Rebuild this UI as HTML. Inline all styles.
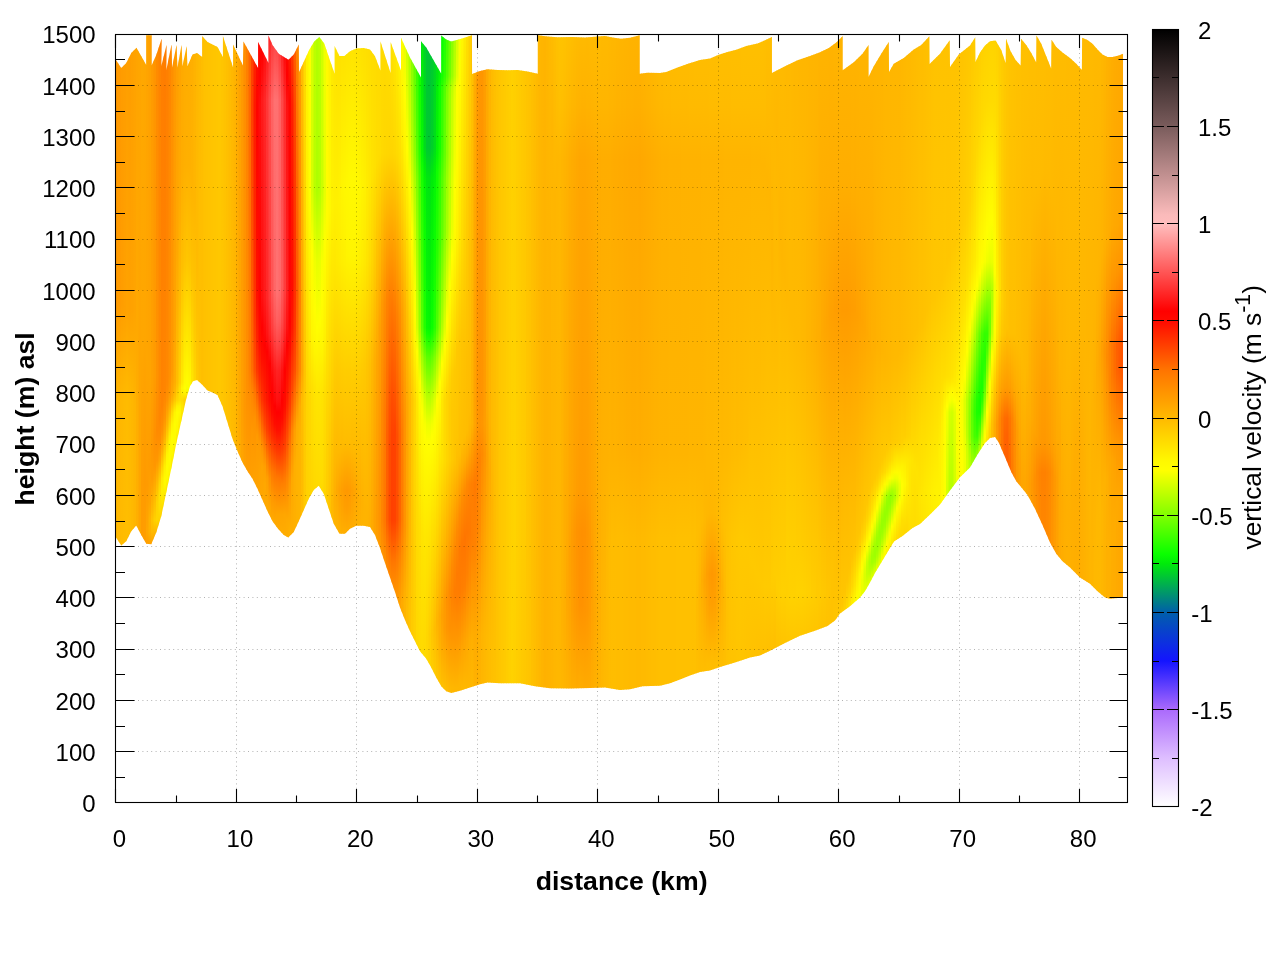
<!DOCTYPE html><html><head><meta charset="utf-8"><title>vertical velocity</title>
<style>html,body{margin:0;padding:0;background:#fff}body{width:1280px;height:960px;overflow:hidden}svg{display:block;will-change:transform}text{font-family:"Liberation Sans",sans-serif;fill:#000}.t{font-size:24px}.b{font-size:26.67px;font-weight:bold}</style></head><body>
<svg width="1280" height="960" viewBox="0 0 1280 960">
<rect width="1280" height="960" fill="#fff"/>
<defs><clipPath id="cp"><polygon points="116,60 121.25,68.1 126.25,63.1 131.25,53.1 136.5,47.75 146.25,65 146.25,35.25 151.6,35.25 151.6,65.6 156.25,55 161.6,38.75 161.25,66.25 166.5,45 166.25,70.6 171.5,44.4 172.1,67.5 176.5,45 177.5,67.5 181.5,45 182.5,66.25 186.6,46.25 187.5,66.25 192.5,54.4 197.1,53.1 202.1,56.9 202.1,36 207.5,41.9 217.5,46.9 222.9,56.9 222.9,36 233.1,67.5 233.1,44.4 242.9,65.6 243.5,41.5 258.1,68.1 258.1,41.9 268.5,63.1 268.5,35.6 272.5,45 278.75,53.75 288.5,59.75 293.75,54.4 298.75,44.4 299.1,71.9 309.4,49.4 314.4,41.25 319.4,36.9 324.4,43.75 330,60.6 334.6,73.75 334.6,46 339.4,56 344.4,56 350,51.25 356.25,48.4 363.75,48.1 370,49.4 375,56.25 380.4,70.6 380.4,41.25 390.6,73.1 390.6,41.9 401,70.6 401,37.75 410,57.5 421,77.5 421,41.25 426.25,47.5 431.25,56.25 441.25,73.75 441.25,35.6 446.25,39.4 451.25,41.5 461.25,38.75 471.9,35.25 472.1,74 480,71 487.5,69.25 497.5,70 507.5,70.25 517.5,70 527.5,71.5 537.75,73.75 537.75,35.25 547.5,36.5 557.5,37.25 572.5,37 585,37.5 597.5,36.5 605,36 612.5,37.5 621.25,38.75 630,37.75 639.75,35.25 639.75,73.75 647.5,72.75 660,73.1 666.25,71.9 677.5,67.5 688.75,63.5 700,60 710,58.5 718.75,54.75 727.5,51.9 736.25,49.75 746.25,46 757.5,43.5 765,40.25 771.9,36.9 771.9,73.1 785,66.25 797.5,60.25 810,56 820,52.25 828.75,48.1 836.25,42.5 842.75,36 842.75,70.25 853.75,62.25 862.5,53.75 868.5,45 868.5,76.9 873.75,66.25 881.25,53.75 888.75,41.9 889,71.9 893.75,63.75 903.75,58.1 913.75,49.4 921.25,45 929.4,36.25 929.6,64 940,53.75 949.75,40.25 950,66.9 958.75,54.4 970,45.6 975.25,37.25 975.5,61.9 980,52.5 985,45.6 990,41.25 995.6,40.6 1001.25,50 1005.6,63.1 1006,38.75 1010.6,51.25 1015.6,60 1020.6,65.6 1021,38.75 1026.25,45 1031.25,53.1 1036.25,62.5 1036.5,35.6 1041.25,43.75 1046.25,56.25 1051.25,68.75 1051.6,39.75 1056.25,46.9 1062.5,52.5 1070,58.1 1076.25,63.75 1081.9,70 1082.1,37.75 1087.5,40 1092.5,43.75 1097.5,49.4 1102.5,54.4 1107.5,56.9 1112.5,56.9 1118.75,55.6 1123.1,53.75 1123.1,597.5 1110,598.75 1105,597.5 1097.5,591.25 1090,583.75 1080,577.5 1070,567.5 1062.5,561.25 1056.25,553.75 1050,542.5 1042.5,525 1035,508.75 1027.5,495 1022.5,488.75 1016.25,481.25 1011.25,472 1005,457 998.75,442.5 995,437 990,438 985,443 977.5,454.5 970,467.5 960,477.25 950,490.5 940,504.5 930,514.5 920,524 912.5,528 902.5,536 894,541.5 890,548 882.5,560.5 875,573 870,582.5 865,591.25 860,597.5 850,606.25 840,613.5 835,620.5 827.5,626 815,630.75 800,635.75 785,643 770,650.75 760,655.5 750,657.5 735,662.5 720,667 710,670.5 700,672 690,675.5 680,679.5 670,683.25 660,685.75 642.5,686.25 630,689.25 620,690 605,687.5 590,688 570,688.5 550,688.25 535,686.25 520,683.25 500,683.25 487.5,682.5 480,684.25 470,687.5 460,690.75 451.25,693 446.25,691.25 441.25,686.25 436.25,677.5 431.25,667.5 426.25,658.75 420,651.25 415,641.25 410,631.25 405,620 400,607.5 395,592 390,577.5 385,563 380,548 375,535 370,527 363.75,525.75 356.25,525.75 350,528.75 345,533.75 339.5,533.75 333.75,523.75 328.75,508.75 323.75,493.75 318.75,485.75 313.75,490 308.75,498.75 303.75,510 298.75,521.25 293.75,532 288.25,537.5 283.75,535 278,528.75 272.5,521.25 267.5,511.25 262.5,500 257.5,488.75 252.5,478.75 247.5,471.25 242.5,462.5 237.5,451.25 232.5,438.75 227.5,422.5 222.5,406.25 217.5,395 212.5,392.5 207.5,390.5 202,384.5 197,380 193,381.25 190,386.25 186.25,398.75 181.25,421.25 176.25,443.75 171.25,468.75 166.25,492.5 161.25,516.25 156.25,532.5 151.25,544.25 146.25,543.75 141.25,535 136.25,525.5 131.25,531.25 126.25,541.25 121.25,545.5 116,537.5"/></clipPath>
<linearGradient id="g0" gradientUnits="userSpaceOnUse" x1="0" y1="34" x2="0" y2="700"><stop offset="0" stop-color="#ff9800"/><stop offset="0.405" stop-color="#ff9a00"/><stop offset="0.55" stop-color="#ffb600"/><stop offset="1" stop-color="#ffbb00"/></linearGradient>
<linearGradient id="g1" gradientUnits="userSpaceOnUse" x1="0" y1="34" x2="0" y2="700"><stop offset="0" stop-color="#ff9a00"/><stop offset="0.405" stop-color="#ff9b00"/><stop offset="0.55" stop-color="#ffb700"/><stop offset="1" stop-color="#ffbd00"/></linearGradient>
<linearGradient id="g2" gradientUnits="userSpaceOnUse" x1="0" y1="34" x2="0" y2="700"><stop offset="0" stop-color="#ff9c00"/><stop offset="0.405" stop-color="#ff9d00"/><stop offset="0.55" stop-color="#ffb800"/><stop offset="1" stop-color="#ffbe00"/></linearGradient>
<linearGradient id="g3" gradientUnits="userSpaceOnUse" x1="0" y1="34" x2="0" y2="700"><stop offset="0" stop-color="#ff9d00"/><stop offset="0.414" stop-color="#ffa000"/><stop offset="0.55" stop-color="#ffba00"/><stop offset="1" stop-color="#ffbf00"/></linearGradient>
<linearGradient id="g4" gradientUnits="userSpaceOnUse" x1="0" y1="34" x2="0" y2="700"><stop offset="0" stop-color="#ff9f00"/><stop offset="0.414" stop-color="#ffa200"/><stop offset="0.55" stop-color="#ffbb00"/><stop offset="1" stop-color="#ffc000"/></linearGradient>
<linearGradient id="g5" gradientUnits="userSpaceOnUse" x1="0" y1="34" x2="0" y2="700"><stop offset="0" stop-color="#ff9e00"/><stop offset="0.414" stop-color="#ffa100"/><stop offset="0.55" stop-color="#ffb900"/><stop offset="1" stop-color="#ffbf00"/></linearGradient>
<linearGradient id="g6" gradientUnits="userSpaceOnUse" x1="0" y1="34" x2="0" y2="700"><stop offset="0" stop-color="#ffa000"/><stop offset="0.414" stop-color="#ffa200"/><stop offset="0.55" stop-color="#ffb700"/><stop offset="1" stop-color="#ffbc00"/></linearGradient>
<linearGradient id="g7" gradientUnits="userSpaceOnUse" x1="0" y1="34" x2="0" y2="700"><stop offset="0" stop-color="#ffa200"/><stop offset="0.414" stop-color="#ffa400"/><stop offset="0.559" stop-color="#ffb400"/><stop offset="1" stop-color="#ffb700"/></linearGradient>
<linearGradient id="g8" gradientUnits="userSpaceOnUse" x1="0" y1="34" x2="0" y2="700"><stop offset="0" stop-color="#ffa400"/><stop offset="0.441" stop-color="#ffa800"/><stop offset="0.577" stop-color="#ffae00"/><stop offset="1" stop-color="#ffb000"/></linearGradient>
<linearGradient id="g9" gradientUnits="userSpaceOnUse" x1="0" y1="34" x2="0" y2="700"><stop offset="0" stop-color="#ffa600"/><stop offset="0.577" stop-color="#ffa500"/><stop offset="1" stop-color="#ffa500"/></linearGradient>
<linearGradient id="g10" gradientUnits="userSpaceOnUse" x1="0" y1="34" x2="0" y2="700"><stop offset="0" stop-color="#ffa800"/><stop offset="0.468" stop-color="#ffa600"/><stop offset="0.676" stop-color="#ff9c00"/><stop offset="1" stop-color="#ff9b00"/></linearGradient>
<linearGradient id="g11" gradientUnits="userSpaceOnUse" x1="0" y1="34" x2="0" y2="700"><stop offset="0" stop-color="#ffa700"/><stop offset="0.45" stop-color="#ffa600"/><stop offset="0.667" stop-color="#ff9a00"/><stop offset="0.757" stop-color="#ff9e00"/><stop offset="0.793" stop-color="#ff9900"/><stop offset="1" stop-color="#ff9900"/></linearGradient>
<linearGradient id="g12" gradientUnits="userSpaceOnUse" x1="0" y1="34" x2="0" y2="700"><stop offset="0" stop-color="#ffa400"/><stop offset="0.486" stop-color="#ffa500"/><stop offset="0.676" stop-color="#ff9b00"/><stop offset="0.748" stop-color="#ffa700"/><stop offset="0.775" stop-color="#ff9a00"/><stop offset="1" stop-color="#ff9a00"/></linearGradient>
<linearGradient id="g13" gradientUnits="userSpaceOnUse" x1="0" y1="34" x2="0" y2="700"><stop offset="0" stop-color="#ffa000"/><stop offset="0.514" stop-color="#ffa400"/><stop offset="0.649" stop-color="#ff9b00"/><stop offset="0.703" stop-color="#ffa400"/><stop offset="0.73" stop-color="#ffb300"/><stop offset="0.748" stop-color="#ffb100"/><stop offset="0.775" stop-color="#ff9900"/><stop offset="1" stop-color="#ff9900"/></linearGradient>
<linearGradient id="g14" gradientUnits="userSpaceOnUse" x1="0" y1="34" x2="0" y2="700"><stop offset="0" stop-color="#ff9a00"/><stop offset="0.523" stop-color="#ffa000"/><stop offset="0.622" stop-color="#ff9700"/><stop offset="0.667" stop-color="#ff9c00"/><stop offset="0.712" stop-color="#ffb600"/><stop offset="0.73" stop-color="#ffc300"/><stop offset="0.748" stop-color="#ffb900"/><stop offset="0.775" stop-color="#ff9700"/><stop offset="1" stop-color="#ff9700"/></linearGradient>
<linearGradient id="g15" gradientUnits="userSpaceOnUse" x1="0" y1="34" x2="0" y2="700"><stop offset="0" stop-color="#ff9300"/><stop offset="0.514" stop-color="#ff9b00"/><stop offset="0.604" stop-color="#ff9000"/><stop offset="0.649" stop-color="#ff9700"/><stop offset="0.694" stop-color="#ffb800"/><stop offset="0.73" stop-color="#ffd100"/><stop offset="0.757" stop-color="#ffab00"/><stop offset="0.775" stop-color="#ff9200"/><stop offset="1" stop-color="#ff9200"/></linearGradient>
<linearGradient id="g16" gradientUnits="userSpaceOnUse" x1="0" y1="34" x2="0" y2="700"><stop offset="0" stop-color="#ff8a00"/><stop offset="0.514" stop-color="#ff9200"/><stop offset="0.595" stop-color="#ff8a00"/><stop offset="0.64" stop-color="#ff9700"/><stop offset="0.676" stop-color="#ffbb00"/><stop offset="0.703" stop-color="#ffd300"/><stop offset="0.73" stop-color="#ffd600"/><stop offset="0.766" stop-color="#ff9800"/><stop offset="0.775" stop-color="#ff9000"/><stop offset="1" stop-color="#ff9000"/></linearGradient>
<linearGradient id="g17" gradientUnits="userSpaceOnUse" x1="0" y1="34" x2="0" y2="700"><stop offset="0" stop-color="#ff8300"/><stop offset="0.514" stop-color="#ff8900"/><stop offset="0.577" stop-color="#ff8500"/><stop offset="0.613" stop-color="#ff8f00"/><stop offset="0.64" stop-color="#ffa500"/><stop offset="0.676" stop-color="#ffd600"/><stop offset="0.694" stop-color="#ffe200"/><stop offset="0.712" stop-color="#ffdf00"/><stop offset="0.73" stop-color="#ffd200"/><stop offset="0.757" stop-color="#ffa000"/><stop offset="0.775" stop-color="#ff9100"/><stop offset="1" stop-color="#ff9100"/></linearGradient>
<linearGradient id="g18" gradientUnits="userSpaceOnUse" x1="0" y1="34" x2="0" y2="700"><stop offset="0" stop-color="#ff7e00"/><stop offset="0.559" stop-color="#ff8300"/><stop offset="0.595" stop-color="#ff9000"/><stop offset="0.622" stop-color="#ffa800"/><stop offset="0.667" stop-color="#ffe900"/><stop offset="0.685" stop-color="#ffef00"/><stop offset="0.703" stop-color="#ffe500"/><stop offset="0.73" stop-color="#ffc600"/><stop offset="0.748" stop-color="#ffa800"/><stop offset="0.766" stop-color="#ff9800"/><stop offset="0.883" stop-color="#ff9500"/><stop offset="1" stop-color="#ff9500"/></linearGradient>
<linearGradient id="g19" gradientUnits="userSpaceOnUse" x1="0" y1="34" x2="0" y2="700"><stop offset="0" stop-color="#ff7c00"/><stop offset="0.541" stop-color="#ff8500"/><stop offset="0.577" stop-color="#ff9400"/><stop offset="0.604" stop-color="#ffae00"/><stop offset="0.649" stop-color="#ffee00"/><stop offset="0.667" stop-color="#fffa00"/><stop offset="0.676" stop-color="#fff900"/><stop offset="0.703" stop-color="#ffdb00"/><stop offset="0.748" stop-color="#ffa500"/><stop offset="0.775" stop-color="#ff9c00"/><stop offset="1" stop-color="#ff9c00"/></linearGradient>
<linearGradient id="g20" gradientUnits="userSpaceOnUse" x1="0" y1="34" x2="0" y2="700"><stop offset="0" stop-color="#ff7f00"/><stop offset="0.523" stop-color="#ff8800"/><stop offset="0.55" stop-color="#ff9100"/><stop offset="0.586" stop-color="#ffb400"/><stop offset="0.631" stop-color="#fff400"/><stop offset="0.649" stop-color="#fffc00"/><stop offset="0.667" stop-color="#fffa00"/><stop offset="0.685" stop-color="#ffe400"/><stop offset="0.712" stop-color="#ffc000"/><stop offset="0.748" stop-color="#ffa600"/><stop offset="0.856" stop-color="#ffa200"/><stop offset="1" stop-color="#ffa200"/></linearGradient>
<linearGradient id="g21" gradientUnits="userSpaceOnUse" x1="0" y1="34" x2="0" y2="700"><stop offset="0" stop-color="#ff8500"/><stop offset="0.514" stop-color="#ff9000"/><stop offset="0.541" stop-color="#ff9900"/><stop offset="0.559" stop-color="#ffac00"/><stop offset="0.604" stop-color="#ffef00"/><stop offset="0.613" stop-color="#fff800"/><stop offset="0.64" stop-color="#fffd00"/><stop offset="0.658" stop-color="#fff500"/><stop offset="0.703" stop-color="#ffbc00"/><stop offset="0.739" stop-color="#ffaa00"/><stop offset="1" stop-color="#ffa700"/></linearGradient>
<linearGradient id="g22" gradientUnits="userSpaceOnUse" x1="0" y1="34" x2="0" y2="700"><stop offset="0" stop-color="#ff8d00"/><stop offset="0.505" stop-color="#ff9a00"/><stop offset="0.541" stop-color="#ffa800"/><stop offset="0.55" stop-color="#ffb300"/><stop offset="0.568" stop-color="#ffd800"/><stop offset="0.586" stop-color="#fff200"/><stop offset="0.604" stop-color="#fffd00"/><stop offset="0.631" stop-color="#fffa00"/><stop offset="0.658" stop-color="#ffdf00"/><stop offset="0.694" stop-color="#ffb800"/><stop offset="0.73" stop-color="#ffac00"/><stop offset="1" stop-color="#ffaa00"/></linearGradient>
<linearGradient id="g23" gradientUnits="userSpaceOnUse" x1="0" y1="34" x2="0" y2="700"><stop offset="0" stop-color="#ff9600"/><stop offset="0.441" stop-color="#ffa400"/><stop offset="0.523" stop-color="#ffad00"/><stop offset="0.541" stop-color="#ffba00"/><stop offset="0.55" stop-color="#ffc700"/><stop offset="0.568" stop-color="#fff300"/><stop offset="0.586" stop-color="#fffd00"/><stop offset="0.613" stop-color="#fff900"/><stop offset="0.667" stop-color="#ffc000"/><stop offset="0.694" stop-color="#ffb100"/><stop offset="0.802" stop-color="#ffac00"/><stop offset="1" stop-color="#ffac00"/></linearGradient>
<linearGradient id="g24" gradientUnits="userSpaceOnUse" x1="0" y1="34" x2="0" y2="700"><stop offset="0" stop-color="#ff9d00"/><stop offset="0.324" stop-color="#ffa800"/><stop offset="0.523" stop-color="#ffbe00"/><stop offset="0.55" stop-color="#ffd700"/><stop offset="0.559" stop-color="#fff000"/><stop offset="0.568" stop-color="#fffc00"/><stop offset="0.595" stop-color="#fff800"/><stop offset="0.649" stop-color="#ffbf00"/><stop offset="0.685" stop-color="#ffaf00"/><stop offset="1" stop-color="#ffac00"/></linearGradient>
<linearGradient id="g25" gradientUnits="userSpaceOnUse" x1="0" y1="34" x2="0" y2="700"><stop offset="0" stop-color="#ffa300"/><stop offset="0.234" stop-color="#ffaa00"/><stop offset="0.387" stop-color="#ffba00"/><stop offset="0.523" stop-color="#ffd200"/><stop offset="0.532" stop-color="#ffde00"/><stop offset="0.55" stop-color="#ffdf00"/><stop offset="0.559" stop-color="#fff300"/><stop offset="0.568" stop-color="#fffa00"/><stop offset="0.586" stop-color="#ffec00"/><stop offset="0.622" stop-color="#ffc400"/><stop offset="0.658" stop-color="#ffb100"/><stop offset="0.802" stop-color="#ffad00"/><stop offset="1" stop-color="#ffad00"/></linearGradient>
<linearGradient id="g26" gradientUnits="userSpaceOnUse" x1="0" y1="34" x2="0" y2="700"><stop offset="0" stop-color="#ffa800"/><stop offset="0.207" stop-color="#ffad00"/><stop offset="0.351" stop-color="#ffbf00"/><stop offset="0.523" stop-color="#ffe800"/><stop offset="0.532" stop-color="#fff500"/><stop offset="0.55" stop-color="#ffdc00"/><stop offset="0.559" stop-color="#ffe800"/><stop offset="0.568" stop-color="#ffe900"/><stop offset="0.604" stop-color="#ffc200"/><stop offset="0.64" stop-color="#ffb100"/><stop offset="0.883" stop-color="#ffad00"/><stop offset="1" stop-color="#ffad00"/></linearGradient>
<linearGradient id="g27" gradientUnits="userSpaceOnUse" x1="0" y1="34" x2="0" y2="700"><stop offset="0" stop-color="#ffab00"/><stop offset="0.198" stop-color="#ffaf00"/><stop offset="0.342" stop-color="#ffc300"/><stop offset="0.523" stop-color="#fff900"/><stop offset="0.532" stop-color="#ffff00"/><stop offset="0.541" stop-color="#ffee00"/><stop offset="0.55" stop-color="#ffd000"/><stop offset="0.559" stop-color="#ffd500"/><stop offset="0.568" stop-color="#ffd200"/><stop offset="0.595" stop-color="#ffba00"/><stop offset="0.631" stop-color="#ffaf00"/><stop offset="1" stop-color="#ffad00"/></linearGradient>
<linearGradient id="g28" gradientUnits="userSpaceOnUse" x1="0" y1="34" x2="0" y2="700"><stop offset="0" stop-color="#ffac00"/><stop offset="0.198" stop-color="#ffb000"/><stop offset="0.342" stop-color="#ffc600"/><stop offset="0.523" stop-color="#fffc00"/><stop offset="0.532" stop-color="#f8ff00"/><stop offset="0.541" stop-color="#ffe900"/><stop offset="0.55" stop-color="#ffc300"/><stop offset="0.568" stop-color="#ffc000"/><stop offset="0.604" stop-color="#ffb000"/><stop offset="1" stop-color="#ffad00"/></linearGradient>
<linearGradient id="g29" gradientUnits="userSpaceOnUse" x1="0" y1="34" x2="0" y2="700"><stop offset="0" stop-color="#ffad00"/><stop offset="0.198" stop-color="#ffb000"/><stop offset="0.342" stop-color="#ffc400"/><stop offset="0.523" stop-color="#fff800"/><stop offset="0.532" stop-color="#fffb00"/><stop offset="0.541" stop-color="#ffdd00"/><stop offset="0.55" stop-color="#ffb800"/><stop offset="0.622" stop-color="#ffae00"/><stop offset="1" stop-color="#ffae00"/></linearGradient>
<linearGradient id="g30" gradientUnits="userSpaceOnUse" x1="0" y1="34" x2="0" y2="700"><stop offset="0" stop-color="#ffae00"/><stop offset="0.216" stop-color="#ffb200"/><stop offset="0.36" stop-color="#ffc300"/><stop offset="0.523" stop-color="#ffe600"/><stop offset="0.532" stop-color="#ffeb00"/><stop offset="0.55" stop-color="#ffb200"/><stop offset="0.766" stop-color="#ffae00"/><stop offset="1" stop-color="#ffae00"/></linearGradient>
<linearGradient id="g31" gradientUnits="userSpaceOnUse" x1="0" y1="34" x2="0" y2="700"><stop offset="0" stop-color="#ffb200"/><stop offset="0.252" stop-color="#ffb600"/><stop offset="0.441" stop-color="#ffc900"/><stop offset="0.532" stop-color="#ffd800"/><stop offset="0.55" stop-color="#ffb300"/><stop offset="1" stop-color="#ffb200"/></linearGradient>
<linearGradient id="g32" gradientUnits="userSpaceOnUse" x1="0" y1="34" x2="0" y2="700"><stop offset="0" stop-color="#ffb600"/><stop offset="0.342" stop-color="#ffbb00"/><stop offset="0.532" stop-color="#ffca00"/><stop offset="0.55" stop-color="#ffb600"/><stop offset="1" stop-color="#ffb600"/></linearGradient>
<linearGradient id="g33" gradientUnits="userSpaceOnUse" x1="0" y1="34" x2="0" y2="700"><stop offset="0" stop-color="#ffb900"/><stop offset="0.495" stop-color="#ffc100"/><stop offset="0.532" stop-color="#ffc300"/><stop offset="0.559" stop-color="#ffba00"/><stop offset="1" stop-color="#ffb900"/></linearGradient>
<linearGradient id="g34" gradientUnits="userSpaceOnUse" x1="0" y1="34" x2="0" y2="700"><stop offset="0" stop-color="#ffbd00"/><stop offset="0.541" stop-color="#ffbf00"/><stop offset="1" stop-color="#ffbd00"/></linearGradient>
<linearGradient id="g35" gradientUnits="userSpaceOnUse" x1="0" y1="34" x2="0" y2="700"><stop offset="0" stop-color="#ffc500"/><stop offset="1" stop-color="#ffc600"/></linearGradient>
<linearGradient id="g36" gradientUnits="userSpaceOnUse" x1="0" y1="34" x2="0" y2="700"><stop offset="0" stop-color="#ffc200"/><stop offset="1" stop-color="#ffc400"/></linearGradient>
<linearGradient id="g37" gradientUnits="userSpaceOnUse" x1="0" y1="34" x2="0" y2="700"><stop offset="0" stop-color="#ffbf00"/><stop offset="1" stop-color="#ffc200"/></linearGradient>
<linearGradient id="g38" gradientUnits="userSpaceOnUse" x1="0" y1="34" x2="0" y2="700"><stop offset="0" stop-color="#ffbb00"/><stop offset="1" stop-color="#ffc000"/></linearGradient>
<linearGradient id="g39" gradientUnits="userSpaceOnUse" x1="0" y1="34" x2="0" y2="700"><stop offset="0" stop-color="#ffb700"/><stop offset="1" stop-color="#ffbe00"/></linearGradient>
<linearGradient id="g40" gradientUnits="userSpaceOnUse" x1="0" y1="34" x2="0" y2="700"><stop offset="0" stop-color="#ffb200"/><stop offset="0.622" stop-color="#ffb900"/><stop offset="1" stop-color="#ffbc00"/></linearGradient>
<linearGradient id="g41" gradientUnits="userSpaceOnUse" x1="0" y1="34" x2="0" y2="700"><stop offset="0" stop-color="#ffaa00"/><stop offset="0.604" stop-color="#ffb100"/><stop offset="0.838" stop-color="#ffb800"/><stop offset="1" stop-color="#ffb800"/></linearGradient>
<linearGradient id="g42" gradientUnits="userSpaceOnUse" x1="0" y1="34" x2="0" y2="700"><stop offset="0" stop-color="#ffa100"/><stop offset="0.586" stop-color="#ffa900"/><stop offset="0.775" stop-color="#ffb300"/><stop offset="1" stop-color="#ffb300"/></linearGradient>
<linearGradient id="g43" gradientUnits="userSpaceOnUse" x1="0" y1="34" x2="0" y2="700"><stop offset="0" stop-color="#ff9800"/><stop offset="0.577" stop-color="#ffa000"/><stop offset="0.748" stop-color="#ffaf00"/><stop offset="1" stop-color="#ffaf00"/></linearGradient>
<linearGradient id="g44" gradientUnits="userSpaceOnUse" x1="0" y1="34" x2="0" y2="700"><stop offset="0" stop-color="#ff8c00"/><stop offset="0.568" stop-color="#ff9800"/><stop offset="0.748" stop-color="#ffaa00"/><stop offset="1" stop-color="#ffaa00"/></linearGradient>
<linearGradient id="g45" gradientUnits="userSpaceOnUse" x1="0" y1="34" x2="0" y2="700"><stop offset="0" stop-color="#ff7d00"/><stop offset="0.514" stop-color="#ff8e00"/><stop offset="0.748" stop-color="#ffa800"/><stop offset="1" stop-color="#ffa800"/></linearGradient>
<linearGradient id="g46" gradientUnits="userSpaceOnUse" x1="0" y1="34" x2="0" y2="700"><stop offset="0" stop-color="#ff6500"/><stop offset="0.135" stop-color="#ff6900"/><stop offset="0.351" stop-color="#ff7800"/><stop offset="0.505" stop-color="#ff8100"/><stop offset="0.55" stop-color="#ff8f00"/><stop offset="0.739" stop-color="#ffa900"/><stop offset="1" stop-color="#ffa900"/></linearGradient>
<linearGradient id="g47" gradientUnits="userSpaceOnUse" x1="0" y1="34" x2="0" y2="700"><stop offset="0" stop-color="#ff4400"/><stop offset="0.117" stop-color="#ff4000"/><stop offset="0.369" stop-color="#ff5700"/><stop offset="0.486" stop-color="#ff6a00"/><stop offset="0.505" stop-color="#ff6e00"/><stop offset="0.541" stop-color="#ff8700"/><stop offset="0.595" stop-color="#ff9700"/><stop offset="0.748" stop-color="#ffa900"/><stop offset="1" stop-color="#ffa900"/></linearGradient>
<linearGradient id="g48" gradientUnits="userSpaceOnUse" x1="0" y1="34" x2="0" y2="700"><stop offset="0" stop-color="#ff2600"/><stop offset="0.108" stop-color="#ff1900"/><stop offset="0.423" stop-color="#ff3700"/><stop offset="0.505" stop-color="#ff5000"/><stop offset="0.541" stop-color="#ff7900"/><stop offset="0.577" stop-color="#ff9200"/><stop offset="0.685" stop-color="#ffa400"/><stop offset="0.775" stop-color="#ffaa00"/><stop offset="1" stop-color="#ffaa00"/></linearGradient>
<linearGradient id="g49" gradientUnits="userSpaceOnUse" x1="0" y1="34" x2="0" y2="700"><stop offset="0" stop-color="#ff1100"/><stop offset="0.117" stop-color="#ff0300"/><stop offset="0.396" stop-color="#ff1000"/><stop offset="0.468" stop-color="#ff2600"/><stop offset="0.505" stop-color="#ff3600"/><stop offset="0.568" stop-color="#ff8000"/><stop offset="0.604" stop-color="#ff9a00"/><stop offset="0.757" stop-color="#ffab00"/><stop offset="1" stop-color="#ffab00"/></linearGradient>
<linearGradient id="g50" gradientUnits="userSpaceOnUse" x1="0" y1="34" x2="0" y2="700"><stop offset="0" stop-color="#ff0700"/><stop offset="0.063" stop-color="#ff0202"/><stop offset="0.108" stop-color="#ff0d0d"/><stop offset="0.405" stop-color="#ff0200"/><stop offset="0.459" stop-color="#ff0b00"/><stop offset="0.514" stop-color="#ff2900"/><stop offset="0.55" stop-color="#ff4c00"/><stop offset="0.586" stop-color="#ff7f00"/><stop offset="0.613" stop-color="#ff9900"/><stop offset="0.658" stop-color="#ffa300"/><stop offset="0.775" stop-color="#ffab00"/><stop offset="1" stop-color="#ffab00"/></linearGradient>
<linearGradient id="g51" gradientUnits="userSpaceOnUse" x1="0" y1="34" x2="0" y2="700"><stop offset="0" stop-color="#ff0300"/><stop offset="0.036" stop-color="#ff0404"/><stop offset="0.099" stop-color="#ff1a1a"/><stop offset="0.396" stop-color="#ff0f0f"/><stop offset="0.441" stop-color="#ff0101"/><stop offset="0.486" stop-color="#ff0d00"/><stop offset="0.55" stop-color="#ff3400"/><stop offset="0.586" stop-color="#ff6400"/><stop offset="0.622" stop-color="#ff9400"/><stop offset="0.649" stop-color="#ffa300"/><stop offset="0.775" stop-color="#ffac00"/><stop offset="1" stop-color="#ffac00"/></linearGradient>
<linearGradient id="g52" gradientUnits="userSpaceOnUse" x1="0" y1="34" x2="0" y2="700"><stop offset="0" stop-color="#ff0505"/><stop offset="0.099" stop-color="#ff2727"/><stop offset="0.396" stop-color="#ff1b1b"/><stop offset="0.45" stop-color="#ff0808"/><stop offset="0.468" stop-color="#ff0200"/><stop offset="0.55" stop-color="#ff2300"/><stop offset="0.586" stop-color="#ff4800"/><stop offset="0.622" stop-color="#ff8000"/><stop offset="0.649" stop-color="#ff9e00"/><stop offset="0.676" stop-color="#ffa700"/><stop offset="0.829" stop-color="#ffac00"/><stop offset="1" stop-color="#ffac00"/></linearGradient>
<linearGradient id="g53" gradientUnits="userSpaceOnUse" x1="0" y1="34" x2="0" y2="700"><stop offset="0" stop-color="#ff1414"/><stop offset="0.099" stop-color="#ff3838"/><stop offset="0.396" stop-color="#ff2828"/><stop offset="0.45" stop-color="#ff1414"/><stop offset="0.477" stop-color="#ff0101"/><stop offset="0.55" stop-color="#ff1700"/><stop offset="0.595" stop-color="#ff3f00"/><stop offset="0.64" stop-color="#ff8100"/><stop offset="0.667" stop-color="#ff9f00"/><stop offset="0.721" stop-color="#ffac00"/><stop offset="1" stop-color="#ffad00"/></linearGradient>
<linearGradient id="g54" gradientUnits="userSpaceOnUse" x1="0" y1="34" x2="0" y2="700"><stop offset="0" stop-color="#ff2626"/><stop offset="0.099" stop-color="#ff4e4e"/><stop offset="0.396" stop-color="#ff3b3b"/><stop offset="0.45" stop-color="#ff2424"/><stop offset="0.495" stop-color="#ff0101"/><stop offset="0.55" stop-color="#ff0a00"/><stop offset="0.595" stop-color="#ff3000"/><stop offset="0.631" stop-color="#ff6100"/><stop offset="0.667" stop-color="#ff8f00"/><stop offset="0.712" stop-color="#ffa700"/><stop offset="0.793" stop-color="#ffad00"/><stop offset="1" stop-color="#ffad00"/></linearGradient>
<linearGradient id="g55" gradientUnits="userSpaceOnUse" x1="0" y1="34" x2="0" y2="700"><stop offset="0" stop-color="#ff3737"/><stop offset="0.099" stop-color="#ff6363"/><stop offset="0.387" stop-color="#ff5454"/><stop offset="0.441" stop-color="#ff3d3d"/><stop offset="0.486" stop-color="#ff1a1a"/><stop offset="0.514" stop-color="#ff0808"/><stop offset="0.541" stop-color="#ff0100"/><stop offset="0.568" stop-color="#ff0a00"/><stop offset="0.604" stop-color="#ff2d00"/><stop offset="0.658" stop-color="#ff7900"/><stop offset="0.694" stop-color="#ff9700"/><stop offset="0.73" stop-color="#ffaa00"/><stop offset="0.829" stop-color="#ffae00"/><stop offset="1" stop-color="#ffae00"/></linearGradient>
<linearGradient id="g56" gradientUnits="userSpaceOnUse" x1="0" y1="34" x2="0" y2="700"><stop offset="0" stop-color="#ff4040"/><stop offset="0.099" stop-color="#ff7171"/><stop offset="0.387" stop-color="#ff6767"/><stop offset="0.432" stop-color="#ff5555"/><stop offset="0.468" stop-color="#ff3b3b"/><stop offset="0.505" stop-color="#ff1b1b"/><stop offset="0.55" stop-color="#ff0808"/><stop offset="0.559" stop-color="#ff0000"/><stop offset="0.586" stop-color="#ff0d00"/><stop offset="0.622" stop-color="#ff3b00"/><stop offset="0.658" stop-color="#ff7200"/><stop offset="0.703" stop-color="#ff9900"/><stop offset="0.73" stop-color="#ffa800"/><stop offset="0.784" stop-color="#ffae00"/><stop offset="1" stop-color="#ffae00"/></linearGradient>
<linearGradient id="g57" gradientUnits="userSpaceOnUse" x1="0" y1="34" x2="0" y2="700"><stop offset="0" stop-color="#ff3c3c"/><stop offset="0.099" stop-color="#ff7070"/><stop offset="0.387" stop-color="#ff7171"/><stop offset="0.432" stop-color="#ff5f5f"/><stop offset="0.468" stop-color="#ff4444"/><stop offset="0.505" stop-color="#ff2323"/><stop offset="0.55" stop-color="#ff1010"/><stop offset="0.568" stop-color="#ff0000"/><stop offset="0.595" stop-color="#ff1000"/><stop offset="0.631" stop-color="#ff4100"/><stop offset="0.667" stop-color="#ff7800"/><stop offset="0.721" stop-color="#ffa500"/><stop offset="0.766" stop-color="#ffaf00"/><stop offset="1" stop-color="#ffaf00"/></linearGradient>
<linearGradient id="g58" gradientUnits="userSpaceOnUse" x1="0" y1="34" x2="0" y2="700"><stop offset="0" stop-color="#ff2c2c"/><stop offset="0.099" stop-color="#ff6161"/><stop offset="0.387" stop-color="#ff6b6b"/><stop offset="0.432" stop-color="#ff5a5a"/><stop offset="0.468" stop-color="#ff4040"/><stop offset="0.505" stop-color="#ff2020"/><stop offset="0.55" stop-color="#ff0e0e"/><stop offset="0.568" stop-color="#ff0100"/><stop offset="0.595" stop-color="#ff1100"/><stop offset="0.631" stop-color="#ff3f00"/><stop offset="0.667" stop-color="#ff7600"/><stop offset="0.721" stop-color="#ffa500"/><stop offset="0.766" stop-color="#ffaf00"/><stop offset="1" stop-color="#ffaf00"/></linearGradient>
<linearGradient id="g59" gradientUnits="userSpaceOnUse" x1="0" y1="34" x2="0" y2="700"><stop offset="0" stop-color="#ff1515"/><stop offset="0.099" stop-color="#ff4848"/><stop offset="0.378" stop-color="#ff5959"/><stop offset="0.432" stop-color="#ff4949"/><stop offset="0.468" stop-color="#ff3131"/><stop offset="0.505" stop-color="#ff1313"/><stop offset="0.55" stop-color="#ff0101"/><stop offset="0.577" stop-color="#ff0900"/><stop offset="0.622" stop-color="#ff3800"/><stop offset="0.676" stop-color="#ff8000"/><stop offset="0.721" stop-color="#ffa500"/><stop offset="0.766" stop-color="#ffb000"/><stop offset="1" stop-color="#ffb000"/></linearGradient>
<linearGradient id="g60" gradientUnits="userSpaceOnUse" x1="0" y1="34" x2="0" y2="700"><stop offset="0" stop-color="#ff0100"/><stop offset="0.027" stop-color="#ff0808"/><stop offset="0.099" stop-color="#ff2c2c"/><stop offset="0.387" stop-color="#ff3d3d"/><stop offset="0.441" stop-color="#ff2b2b"/><stop offset="0.486" stop-color="#ff0b0b"/><stop offset="0.505" stop-color="#ff0100"/><stop offset="0.559" stop-color="#ff0d00"/><stop offset="0.622" stop-color="#ff4500"/><stop offset="0.667" stop-color="#ff7b00"/><stop offset="0.721" stop-color="#ffa600"/><stop offset="0.766" stop-color="#ffb000"/><stop offset="1" stop-color="#ffb000"/></linearGradient>
<linearGradient id="g61" gradientUnits="userSpaceOnUse" x1="0" y1="34" x2="0" y2="700"><stop offset="0" stop-color="#ff0e00"/><stop offset="0.063" stop-color="#ff0000"/><stop offset="0.108" stop-color="#ff1111"/><stop offset="0.387" stop-color="#ff2121"/><stop offset="0.441" stop-color="#ff1111"/><stop offset="0.468" stop-color="#ff0101"/><stop offset="0.55" stop-color="#ff1d00"/><stop offset="0.622" stop-color="#ff5b00"/><stop offset="0.667" stop-color="#ff8500"/><stop offset="0.73" stop-color="#ffaa00"/><stop offset="0.775" stop-color="#ffb100"/><stop offset="1" stop-color="#ffb100"/></linearGradient>
<linearGradient id="g62" gradientUnits="userSpaceOnUse" x1="0" y1="34" x2="0" y2="700"><stop offset="0" stop-color="#ff2600"/><stop offset="0.099" stop-color="#ff0500"/><stop offset="0.27" stop-color="#ff0202"/><stop offset="0.396" stop-color="#ff0505"/><stop offset="0.432" stop-color="#ff0200"/><stop offset="0.468" stop-color="#ff0b00"/><stop offset="0.523" stop-color="#ff2800"/><stop offset="0.559" stop-color="#ff3e00"/><stop offset="0.613" stop-color="#ff7400"/><stop offset="0.676" stop-color="#ff9a00"/><stop offset="0.748" stop-color="#ffb000"/><stop offset="1" stop-color="#ffb100"/></linearGradient>
<linearGradient id="g63" gradientUnits="userSpaceOnUse" x1="0" y1="34" x2="0" y2="700"><stop offset="0" stop-color="#ff4200"/><stop offset="0.108" stop-color="#ff1e00"/><stop offset="0.378" stop-color="#ff0b00"/><stop offset="0.441" stop-color="#ff1700"/><stop offset="0.532" stop-color="#ff4700"/><stop offset="0.559" stop-color="#ff5f00"/><stop offset="0.595" stop-color="#ff8500"/><stop offset="0.667" stop-color="#ffa800"/><stop offset="0.793" stop-color="#ffb200"/><stop offset="1" stop-color="#ffb200"/></linearGradient>
<linearGradient id="g64" gradientUnits="userSpaceOnUse" x1="0" y1="34" x2="0" y2="700"><stop offset="0" stop-color="#ff6600"/><stop offset="0.108" stop-color="#ff4600"/><stop offset="0.369" stop-color="#ff2d00"/><stop offset="0.441" stop-color="#ff3600"/><stop offset="0.505" stop-color="#ff4f00"/><stop offset="0.595" stop-color="#ff9f00"/><stop offset="0.649" stop-color="#ffaf00"/><stop offset="1" stop-color="#ffb200"/></linearGradient>
<linearGradient id="g65" gradientUnits="userSpaceOnUse" x1="0" y1="34" x2="0" y2="700"><stop offset="0" stop-color="#ff8600"/><stop offset="0.225" stop-color="#ff6700"/><stop offset="0.387" stop-color="#ff5800"/><stop offset="0.468" stop-color="#ff6400"/><stop offset="0.505" stop-color="#ff6e00"/><stop offset="0.586" stop-color="#ffab00"/><stop offset="0.64" stop-color="#ffb200"/><stop offset="1" stop-color="#ffb300"/></linearGradient>
<linearGradient id="g66" gradientUnits="userSpaceOnUse" x1="0" y1="34" x2="0" y2="700"><stop offset="0" stop-color="#ffa000"/><stop offset="0.378" stop-color="#ff8100"/><stop offset="0.505" stop-color="#ff8800"/><stop offset="0.559" stop-color="#ffac00"/><stop offset="0.604" stop-color="#ffb400"/><stop offset="1" stop-color="#ffb400"/></linearGradient>
<linearGradient id="g67" gradientUnits="userSpaceOnUse" x1="0" y1="34" x2="0" y2="700"><stop offset="0" stop-color="#ffbf00"/><stop offset="0.441" stop-color="#ffa700"/><stop offset="0.505" stop-color="#ffa700"/><stop offset="0.55" stop-color="#ffbb00"/><stop offset="1" stop-color="#ffbd00"/></linearGradient>
<linearGradient id="g68" gradientUnits="userSpaceOnUse" x1="0" y1="34" x2="0" y2="700"><stop offset="0" stop-color="#ffdc00"/><stop offset="0.27" stop-color="#ffd300"/><stop offset="0.505" stop-color="#ffc300"/><stop offset="0.568" stop-color="#ffca00"/><stop offset="1" stop-color="#ffc800"/></linearGradient>
<linearGradient id="g69" gradientUnits="userSpaceOnUse" x1="0" y1="34" x2="0" y2="700"><stop offset="0" stop-color="#fff300"/><stop offset="0.252" stop-color="#fff000"/><stop offset="0.414" stop-color="#ffe000"/><stop offset="0.541" stop-color="#ffd400"/><stop offset="0.901" stop-color="#ffce00"/><stop offset="1" stop-color="#ffce00"/></linearGradient>
<linearGradient id="g70" gradientUnits="userSpaceOnUse" x1="0" y1="34" x2="0" y2="700"><stop offset="0" stop-color="#fdff00"/><stop offset="0.234" stop-color="#fcff00"/><stop offset="0.387" stop-color="#fff100"/><stop offset="0.468" stop-color="#ffe700"/><stop offset="0.55" stop-color="#ffd800"/><stop offset="0.784" stop-color="#ffd100"/><stop offset="1" stop-color="#ffd100"/></linearGradient>
<linearGradient id="g71" gradientUnits="userSpaceOnUse" x1="0" y1="34" x2="0" y2="700"><stop offset="0" stop-color="#d8ff00"/><stop offset="0.234" stop-color="#d6ff00"/><stop offset="0.324" stop-color="#ffff00"/><stop offset="0.45" stop-color="#fff600"/><stop offset="0.532" stop-color="#ffdf00"/><stop offset="0.712" stop-color="#ffd400"/><stop offset="1" stop-color="#ffd400"/></linearGradient>
<linearGradient id="g72" gradientUnits="userSpaceOnUse" x1="0" y1="34" x2="0" y2="700"><stop offset="0" stop-color="#bcff00"/><stop offset="0.234" stop-color="#b9ff00"/><stop offset="0.342" stop-color="#f0ff00"/><stop offset="0.414" stop-color="#fffe00"/><stop offset="0.477" stop-color="#fff500"/><stop offset="0.532" stop-color="#ffe400"/><stop offset="0.703" stop-color="#ffd700"/><stop offset="1" stop-color="#ffd700"/></linearGradient>
<linearGradient id="g73" gradientUnits="userSpaceOnUse" x1="0" y1="34" x2="0" y2="700"><stop offset="0" stop-color="#b2ff00"/><stop offset="0.234" stop-color="#adff00"/><stop offset="0.342" stop-color="#e7ff00"/><stop offset="0.441" stop-color="#fffe00"/><stop offset="0.495" stop-color="#fff100"/><stop offset="0.541" stop-color="#ffe500"/><stop offset="0.703" stop-color="#ffd800"/><stop offset="1" stop-color="#ffd800"/></linearGradient>
<linearGradient id="g74" gradientUnits="userSpaceOnUse" x1="0" y1="34" x2="0" y2="700"><stop offset="0" stop-color="#baff00"/><stop offset="0.234" stop-color="#b4ff00"/><stop offset="0.342" stop-color="#eaff00"/><stop offset="0.432" stop-color="#fffe00"/><stop offset="0.495" stop-color="#fff000"/><stop offset="0.541" stop-color="#ffe500"/><stop offset="0.703" stop-color="#ffd900"/><stop offset="1" stop-color="#ffd900"/></linearGradient>
<linearGradient id="g75" gradientUnits="userSpaceOnUse" x1="0" y1="34" x2="0" y2="700"><stop offset="0" stop-color="#d2ff00"/><stop offset="0.234" stop-color="#caff00"/><stop offset="0.342" stop-color="#f8ff00"/><stop offset="0.396" stop-color="#fffe00"/><stop offset="0.468" stop-color="#fff600"/><stop offset="0.541" stop-color="#ffe300"/><stop offset="0.721" stop-color="#ffd800"/><stop offset="1" stop-color="#ffd800"/></linearGradient>
<linearGradient id="g76" gradientUnits="userSpaceOnUse" x1="0" y1="34" x2="0" y2="700"><stop offset="0" stop-color="#f2ff00"/><stop offset="0.234" stop-color="#e6ff00"/><stop offset="0.315" stop-color="#fffe00"/><stop offset="0.45" stop-color="#fff100"/><stop offset="0.541" stop-color="#ffdd00"/><stop offset="0.721" stop-color="#ffd100"/><stop offset="1" stop-color="#ffd200"/></linearGradient>
<linearGradient id="g77" gradientUnits="userSpaceOnUse" x1="0" y1="34" x2="0" y2="700"><stop offset="0" stop-color="#fffa00"/><stop offset="0.279" stop-color="#fffc00"/><stop offset="0.459" stop-color="#ffe400"/><stop offset="0.568" stop-color="#ffd400"/><stop offset="0.721" stop-color="#ffca00"/><stop offset="1" stop-color="#ffcc00"/></linearGradient>
<linearGradient id="g78" gradientUnits="userSpaceOnUse" x1="0" y1="34" x2="0" y2="700"><stop offset="0" stop-color="#fff000"/><stop offset="0.261" stop-color="#fff800"/><stop offset="0.45" stop-color="#ffde00"/><stop offset="0.604" stop-color="#ffcb00"/><stop offset="0.712" stop-color="#ffc200"/><stop offset="0.991" stop-color="#ffc600"/><stop offset="1" stop-color="#ffc600"/></linearGradient>
<linearGradient id="g79" gradientUnits="userSpaceOnUse" x1="0" y1="34" x2="0" y2="700"><stop offset="0" stop-color="#ffe700"/><stop offset="0.261" stop-color="#fff200"/><stop offset="0.369" stop-color="#ffe600"/><stop offset="0.55" stop-color="#ffcb00"/><stop offset="0.703" stop-color="#ffb800"/><stop offset="0.82" stop-color="#ffc000"/><stop offset="1" stop-color="#ffc000"/></linearGradient>
<linearGradient id="g80" gradientUnits="userSpaceOnUse" x1="0" y1="34" x2="0" y2="700"><stop offset="0" stop-color="#ffe200"/><stop offset="0.252" stop-color="#fff000"/><stop offset="0.351" stop-color="#ffe700"/><stop offset="0.514" stop-color="#ffca00"/><stop offset="0.64" stop-color="#ffb800"/><stop offset="0.694" stop-color="#ffae00"/><stop offset="0.802" stop-color="#ffba00"/><stop offset="1" stop-color="#ffba00"/></linearGradient>
<linearGradient id="g81" gradientUnits="userSpaceOnUse" x1="0" y1="34" x2="0" y2="700"><stop offset="0" stop-color="#ffe000"/><stop offset="0.252" stop-color="#fff000"/><stop offset="0.342" stop-color="#ffea00"/><stop offset="0.505" stop-color="#ffca00"/><stop offset="0.631" stop-color="#ffb800"/><stop offset="0.685" stop-color="#ffa800"/><stop offset="0.739" stop-color="#ffb200"/><stop offset="0.82" stop-color="#ffb900"/><stop offset="1" stop-color="#ffb900"/></linearGradient>
<linearGradient id="g82" gradientUnits="userSpaceOnUse" x1="0" y1="34" x2="0" y2="700"><stop offset="0" stop-color="#ffdf00"/><stop offset="0.243" stop-color="#fff200"/><stop offset="0.342" stop-color="#ffec00"/><stop offset="0.505" stop-color="#ffcb00"/><stop offset="0.622" stop-color="#ffba00"/><stop offset="0.685" stop-color="#ffa200"/><stop offset="0.721" stop-color="#ffa900"/><stop offset="0.775" stop-color="#ffb800"/><stop offset="1" stop-color="#ffb900"/></linearGradient>
<linearGradient id="g83" gradientUnits="userSpaceOnUse" x1="0" y1="34" x2="0" y2="700"><stop offset="0" stop-color="#ffe000"/><stop offset="0.234" stop-color="#fff500"/><stop offset="0.342" stop-color="#ffee00"/><stop offset="0.505" stop-color="#ffcc00"/><stop offset="0.622" stop-color="#ffb900"/><stop offset="0.685" stop-color="#ff9e00"/><stop offset="0.721" stop-color="#ffa600"/><stop offset="0.775" stop-color="#ffb700"/><stop offset="1" stop-color="#ffb900"/></linearGradient>
<linearGradient id="g84" gradientUnits="userSpaceOnUse" x1="0" y1="34" x2="0" y2="700"><stop offset="0" stop-color="#ffe000"/><stop offset="0.234" stop-color="#fff700"/><stop offset="0.342" stop-color="#fff000"/><stop offset="0.505" stop-color="#ffcd00"/><stop offset="0.613" stop-color="#ffbc00"/><stop offset="0.685" stop-color="#ff9a00"/><stop offset="0.712" stop-color="#ff9f00"/><stop offset="0.766" stop-color="#ffb600"/><stop offset="1" stop-color="#ffb900"/></linearGradient>
<linearGradient id="g85" gradientUnits="userSpaceOnUse" x1="0" y1="34" x2="0" y2="700"><stop offset="0" stop-color="#ffe100"/><stop offset="0.225" stop-color="#fff800"/><stop offset="0.333" stop-color="#fff400"/><stop offset="0.505" stop-color="#ffcd00"/><stop offset="0.613" stop-color="#ffbc00"/><stop offset="0.685" stop-color="#ff9900"/><stop offset="0.712" stop-color="#ff9e00"/><stop offset="0.766" stop-color="#ffb500"/><stop offset="1" stop-color="#ffb900"/></linearGradient>
<linearGradient id="g86" gradientUnits="userSpaceOnUse" x1="0" y1="34" x2="0" y2="700"><stop offset="0" stop-color="#ffe100"/><stop offset="0.216" stop-color="#fff900"/><stop offset="0.333" stop-color="#fff500"/><stop offset="0.505" stop-color="#ffcd00"/><stop offset="0.613" stop-color="#ffbc00"/><stop offset="0.685" stop-color="#ff9b00"/><stop offset="0.712" stop-color="#ffa000"/><stop offset="0.766" stop-color="#ffb600"/><stop offset="1" stop-color="#ffb900"/></linearGradient>
<linearGradient id="g87" gradientUnits="userSpaceOnUse" x1="0" y1="34" x2="0" y2="700"><stop offset="0" stop-color="#ffe200"/><stop offset="0.216" stop-color="#fff900"/><stop offset="0.333" stop-color="#fff500"/><stop offset="0.505" stop-color="#ffce00"/><stop offset="0.622" stop-color="#ffb900"/><stop offset="0.685" stop-color="#ff9f00"/><stop offset="0.721" stop-color="#ffa600"/><stop offset="0.775" stop-color="#ffb700"/><stop offset="1" stop-color="#ffb900"/></linearGradient>
<linearGradient id="g88" gradientUnits="userSpaceOnUse" x1="0" y1="34" x2="0" y2="700"><stop offset="0" stop-color="#ffe100"/><stop offset="0.216" stop-color="#fff900"/><stop offset="0.333" stop-color="#fff500"/><stop offset="0.505" stop-color="#ffcd00"/><stop offset="0.622" stop-color="#ffba00"/><stop offset="0.685" stop-color="#ffa400"/><stop offset="0.721" stop-color="#ffaa00"/><stop offset="0.784" stop-color="#ffb800"/><stop offset="1" stop-color="#ffb900"/></linearGradient>
<linearGradient id="g89" gradientUnits="userSpaceOnUse" x1="0" y1="34" x2="0" y2="700"><stop offset="0" stop-color="#ffe100"/><stop offset="0.225" stop-color="#fff800"/><stop offset="0.333" stop-color="#fff300"/><stop offset="0.505" stop-color="#ffcd00"/><stop offset="0.631" stop-color="#ffb900"/><stop offset="0.694" stop-color="#ffa900"/><stop offset="0.784" stop-color="#ffb800"/><stop offset="1" stop-color="#ffb900"/></linearGradient>
<linearGradient id="g90" gradientUnits="userSpaceOnUse" x1="0" y1="34" x2="0" y2="700"><stop offset="0" stop-color="#ffe000"/><stop offset="0.234" stop-color="#fff600"/><stop offset="0.342" stop-color="#ffef00"/><stop offset="0.505" stop-color="#ffcc00"/><stop offset="0.649" stop-color="#ffb500"/><stop offset="0.703" stop-color="#ffae00"/><stop offset="0.802" stop-color="#ffb900"/><stop offset="1" stop-color="#ffb900"/></linearGradient>
<linearGradient id="g91" gradientUnits="userSpaceOnUse" x1="0" y1="34" x2="0" y2="700"><stop offset="0" stop-color="#ffdf00"/><stop offset="0.234" stop-color="#fff300"/><stop offset="0.342" stop-color="#ffec00"/><stop offset="0.505" stop-color="#ffca00"/><stop offset="0.703" stop-color="#ffb100"/><stop offset="0.847" stop-color="#ffb900"/><stop offset="1" stop-color="#ffb900"/></linearGradient>
<linearGradient id="g92" gradientUnits="userSpaceOnUse" x1="0" y1="34" x2="0" y2="700"><stop offset="0" stop-color="#ffde00"/><stop offset="0.234" stop-color="#fff000"/><stop offset="0.342" stop-color="#ffe800"/><stop offset="0.495" stop-color="#ffc900"/><stop offset="0.712" stop-color="#ffb300"/><stop offset="1" stop-color="#ffb800"/></linearGradient>
<linearGradient id="g93" gradientUnits="userSpaceOnUse" x1="0" y1="34" x2="0" y2="700"><stop offset="0" stop-color="#ffdd00"/><stop offset="0.225" stop-color="#ffeb00"/><stop offset="0.342" stop-color="#ffe300"/><stop offset="0.495" stop-color="#ffc500"/><stop offset="0.721" stop-color="#ffb300"/><stop offset="1" stop-color="#ffb700"/></linearGradient>
<linearGradient id="g94" gradientUnits="userSpaceOnUse" x1="0" y1="34" x2="0" y2="700"><stop offset="0" stop-color="#ffdc00"/><stop offset="0.216" stop-color="#ffe700"/><stop offset="0.342" stop-color="#ffdc00"/><stop offset="0.495" stop-color="#ffc000"/><stop offset="0.73" stop-color="#ffb000"/><stop offset="1" stop-color="#ffb500"/></linearGradient>
<linearGradient id="g95" gradientUnits="userSpaceOnUse" x1="0" y1="34" x2="0" y2="700"><stop offset="0" stop-color="#ffdb00"/><stop offset="0.207" stop-color="#ffe300"/><stop offset="0.342" stop-color="#ffd500"/><stop offset="0.495" stop-color="#ffb800"/><stop offset="0.73" stop-color="#ffaa00"/><stop offset="0.91" stop-color="#ffb300"/><stop offset="1" stop-color="#ffb200"/></linearGradient>
<linearGradient id="g96" gradientUnits="userSpaceOnUse" x1="0" y1="34" x2="0" y2="700"><stop offset="0" stop-color="#ffdb00"/><stop offset="0.198" stop-color="#ffe000"/><stop offset="0.351" stop-color="#ffc900"/><stop offset="0.486" stop-color="#ffaf00"/><stop offset="0.73" stop-color="#ffa100"/><stop offset="0.883" stop-color="#ffae00"/><stop offset="1" stop-color="#ffae00"/></linearGradient>
<linearGradient id="g97" gradientUnits="userSpaceOnUse" x1="0" y1="34" x2="0" y2="700"><stop offset="0" stop-color="#ffda00"/><stop offset="0.189" stop-color="#ffdd00"/><stop offset="0.369" stop-color="#ffba00"/><stop offset="0.495" stop-color="#ffa500"/><stop offset="0.73" stop-color="#ff9a00"/><stop offset="0.865" stop-color="#ffaf00"/><stop offset="1" stop-color="#ffaf00"/></linearGradient>
<linearGradient id="g98" gradientUnits="userSpaceOnUse" x1="0" y1="34" x2="0" y2="700"><stop offset="0" stop-color="#ffda00"/><stop offset="0.18" stop-color="#ffdc00"/><stop offset="0.441" stop-color="#ffa000"/><stop offset="0.676" stop-color="#ff9200"/><stop offset="0.739" stop-color="#ff9300"/><stop offset="0.856" stop-color="#ffaf00"/><stop offset="1" stop-color="#ffaf00"/></linearGradient>
<linearGradient id="g99" gradientUnits="userSpaceOnUse" x1="0" y1="34" x2="0" y2="700"><stop offset="0" stop-color="#ffda00"/><stop offset="0.18" stop-color="#ffd900"/><stop offset="0.405" stop-color="#ff9900"/><stop offset="0.568" stop-color="#ff8800"/><stop offset="0.73" stop-color="#ff8400"/><stop offset="0.856" stop-color="#ffad00"/><stop offset="1" stop-color="#ffad00"/></linearGradient>
<linearGradient id="g100" gradientUnits="userSpaceOnUse" x1="0" y1="34" x2="0" y2="700"><stop offset="0" stop-color="#ffda00"/><stop offset="0.18" stop-color="#ffd700"/><stop offset="0.288" stop-color="#ffb100"/><stop offset="0.405" stop-color="#ff8d00"/><stop offset="0.568" stop-color="#ff7a00"/><stop offset="0.73" stop-color="#ff7700"/><stop offset="0.856" stop-color="#ffab00"/><stop offset="1" stop-color="#ffab00"/></linearGradient>
<linearGradient id="g101" gradientUnits="userSpaceOnUse" x1="0" y1="34" x2="0" y2="700"><stop offset="0" stop-color="#ffdc00"/><stop offset="0.18" stop-color="#ffd600"/><stop offset="0.279" stop-color="#ffb000"/><stop offset="0.396" stop-color="#ff8400"/><stop offset="0.604" stop-color="#ff6000"/><stop offset="0.73" stop-color="#ff5f00"/><stop offset="0.775" stop-color="#ff7d00"/><stop offset="0.856" stop-color="#ffa400"/><stop offset="1" stop-color="#ffa400"/></linearGradient>
<linearGradient id="g102" gradientUnits="userSpaceOnUse" x1="0" y1="34" x2="0" y2="700"><stop offset="0" stop-color="#ffde00"/><stop offset="0.18" stop-color="#ffd500"/><stop offset="0.279" stop-color="#ffad00"/><stop offset="0.396" stop-color="#ff7d00"/><stop offset="0.559" stop-color="#ff5200"/><stop offset="0.613" stop-color="#ff4b00"/><stop offset="0.73" stop-color="#ff4b00"/><stop offset="0.784" stop-color="#ff7700"/><stop offset="0.847" stop-color="#ff9b00"/><stop offset="1" stop-color="#ff9d00"/></linearGradient>
<linearGradient id="g103" gradientUnits="userSpaceOnUse" x1="0" y1="34" x2="0" y2="700"><stop offset="0" stop-color="#ffe200"/><stop offset="0.18" stop-color="#ffd500"/><stop offset="0.279" stop-color="#ffad00"/><stop offset="0.405" stop-color="#ff7900"/><stop offset="0.55" stop-color="#ff4c00"/><stop offset="0.604" stop-color="#ff4100"/><stop offset="0.73" stop-color="#ff4000"/><stop offset="0.793" stop-color="#ff7700"/><stop offset="0.847" stop-color="#ff9800"/><stop offset="1" stop-color="#ff9a00"/></linearGradient>
<linearGradient id="g104" gradientUnits="userSpaceOnUse" x1="0" y1="34" x2="0" y2="700"><stop offset="0" stop-color="#ffe800"/><stop offset="0.18" stop-color="#ffd700"/><stop offset="0.279" stop-color="#ffb000"/><stop offset="0.414" stop-color="#ff7b00"/><stop offset="0.595" stop-color="#ff4200"/><stop offset="0.73" stop-color="#ff4200"/><stop offset="0.793" stop-color="#ff7800"/><stop offset="0.847" stop-color="#ff9800"/><stop offset="1" stop-color="#ff9a00"/></linearGradient>
<linearGradient id="g105" gradientUnits="userSpaceOnUse" x1="0" y1="34" x2="0" y2="700"><stop offset="0" stop-color="#ffef00"/><stop offset="0.18" stop-color="#ffda00"/><stop offset="0.288" stop-color="#ffb200"/><stop offset="0.423" stop-color="#ff8100"/><stop offset="0.604" stop-color="#ff4f00"/><stop offset="0.73" stop-color="#ff4f00"/><stop offset="0.784" stop-color="#ff7900"/><stop offset="0.856" stop-color="#ff9d00"/><stop offset="1" stop-color="#ff9d00"/></linearGradient>
<linearGradient id="g106" gradientUnits="userSpaceOnUse" x1="0" y1="34" x2="0" y2="700"><stop offset="0" stop-color="#fff900"/><stop offset="0.189" stop-color="#ffdd00"/><stop offset="0.423" stop-color="#ff8e00"/><stop offset="0.604" stop-color="#ff6500"/><stop offset="0.73" stop-color="#ff6500"/><stop offset="0.793" stop-color="#ff8800"/><stop offset="0.856" stop-color="#ffa300"/><stop offset="1" stop-color="#ffa300"/></linearGradient>
<linearGradient id="g107" gradientUnits="userSpaceOnUse" x1="0" y1="34" x2="0" y2="700"><stop offset="0" stop-color="#fffe00"/><stop offset="0.144" stop-color="#ffef00"/><stop offset="0.252" stop-color="#ffd200"/><stop offset="0.414" stop-color="#ffa000"/><stop offset="0.595" stop-color="#ff7d00"/><stop offset="0.73" stop-color="#ff7c00"/><stop offset="0.856" stop-color="#ffab00"/><stop offset="1" stop-color="#ffab00"/></linearGradient>
<linearGradient id="g108" gradientUnits="userSpaceOnUse" x1="0" y1="34" x2="0" y2="700"><stop offset="0" stop-color="#e5ff00"/><stop offset="0.09" stop-color="#fffe00"/><stop offset="0.18" stop-color="#fff300"/><stop offset="0.405" stop-color="#ffb200"/><stop offset="0.577" stop-color="#ff9300"/><stop offset="0.739" stop-color="#ff9300"/><stop offset="0.856" stop-color="#ffb400"/><stop offset="1" stop-color="#ffb400"/></linearGradient>
<linearGradient id="g109" gradientUnits="userSpaceOnUse" x1="0" y1="34" x2="0" y2="700"><stop offset="0" stop-color="#c6ff00"/><stop offset="0.099" stop-color="#e6ff00"/><stop offset="0.171" stop-color="#fffe00"/><stop offset="0.279" stop-color="#ffe400"/><stop offset="0.423" stop-color="#ffbf00"/><stop offset="0.568" stop-color="#ffa600"/><stop offset="0.739" stop-color="#ffa500"/><stop offset="0.865" stop-color="#ffbc00"/><stop offset="1" stop-color="#ffbc00"/></linearGradient>
<linearGradient id="g110" gradientUnits="userSpaceOnUse" x1="0" y1="34" x2="0" y2="700"><stop offset="0" stop-color="#a2ff00"/><stop offset="0.108" stop-color="#c6ff00"/><stop offset="0.18" stop-color="#e5ff00"/><stop offset="0.225" stop-color="#fffe00"/><stop offset="0.306" stop-color="#ffee00"/><stop offset="0.55" stop-color="#ffb700"/><stop offset="0.703" stop-color="#ffb500"/><stop offset="0.766" stop-color="#ffb900"/><stop offset="0.874" stop-color="#ffc400"/><stop offset="1" stop-color="#ffc400"/></linearGradient>
<linearGradient id="g111" gradientUnits="userSpaceOnUse" x1="0" y1="34" x2="0" y2="700"><stop offset="0" stop-color="#7cff00"/><stop offset="0.135" stop-color="#a8ff00"/><stop offset="0.18" stop-color="#bcff00"/><stop offset="0.234" stop-color="#deff00"/><stop offset="0.297" stop-color="#ffff00"/><stop offset="0.459" stop-color="#ffde00"/><stop offset="0.55" stop-color="#ffc600"/><stop offset="0.658" stop-color="#ffc700"/><stop offset="0.757" stop-color="#ffc500"/><stop offset="0.883" stop-color="#ffcb00"/><stop offset="1" stop-color="#ffcb00"/></linearGradient>
<linearGradient id="g112" gradientUnits="userSpaceOnUse" x1="0" y1="34" x2="0" y2="700"><stop offset="0" stop-color="#53ff00"/><stop offset="0.117" stop-color="#75ff00"/><stop offset="0.18" stop-color="#8fff00"/><stop offset="0.225" stop-color="#adff00"/><stop offset="0.378" stop-color="#f7ff00"/><stop offset="0.414" stop-color="#fffe00"/><stop offset="0.459" stop-color="#fff600"/><stop offset="0.55" stop-color="#ffd600"/><stop offset="0.658" stop-color="#ffd500"/><stop offset="0.766" stop-color="#ffd000"/><stop offset="1" stop-color="#ffd100"/></linearGradient>
<linearGradient id="g113" gradientUnits="userSpaceOnUse" x1="0" y1="34" x2="0" y2="700"><stop offset="0" stop-color="#2aff00"/><stop offset="0.144" stop-color="#4eff00"/><stop offset="0.18" stop-color="#5dff00"/><stop offset="0.216" stop-color="#7aff00"/><stop offset="0.396" stop-color="#c6ff00"/><stop offset="0.441" stop-color="#d7ff00"/><stop offset="0.477" stop-color="#feff00"/><stop offset="0.55" stop-color="#ffe700"/><stop offset="0.703" stop-color="#ffdb00"/><stop offset="1" stop-color="#ffd600"/></linearGradient>
<linearGradient id="g114" gradientUnits="userSpaceOnUse" x1="0" y1="34" x2="0" y2="700"><stop offset="0" stop-color="#09fc01"/><stop offset="0.09" stop-color="#14ff00"/><stop offset="0.171" stop-color="#25ff00"/><stop offset="0.216" stop-color="#47ff00"/><stop offset="0.405" stop-color="#8eff00"/><stop offset="0.441" stop-color="#99ff00"/><stop offset="0.495" stop-color="#dfff00"/><stop offset="0.523" stop-color="#fcff00"/><stop offset="0.739" stop-color="#ffdf00"/><stop offset="0.955" stop-color="#ffd900"/><stop offset="1" stop-color="#ffda00"/></linearGradient>
<linearGradient id="g115" gradientUnits="userSpaceOnUse" x1="0" y1="34" x2="0" y2="700"><stop offset="0" stop-color="#00e70e"/><stop offset="0.18" stop-color="#07f803"/><stop offset="0.207" stop-color="#16ff00"/><stop offset="0.441" stop-color="#59ff00"/><stop offset="0.486" stop-color="#a3ff00"/><stop offset="0.55" stop-color="#f2ff00"/><stop offset="0.568" stop-color="#feff00"/><stop offset="0.748" stop-color="#ffe400"/><stop offset="0.928" stop-color="#ffda00"/><stop offset="1" stop-color="#ffdd00"/></linearGradient>
<linearGradient id="g116" gradientUnits="userSpaceOnUse" x1="0" y1="34" x2="0" y2="700"><stop offset="0" stop-color="#00d326"/><stop offset="0.171" stop-color="#00da1d"/><stop offset="0.198" stop-color="#01ec09"/><stop offset="0.234" stop-color="#06f604"/><stop offset="0.333" stop-color="#0fff00"/><stop offset="0.441" stop-color="#22ff00"/><stop offset="0.459" stop-color="#42ff00"/><stop offset="0.486" stop-color="#79ff00"/><stop offset="0.55" stop-color="#d2ff00"/><stop offset="0.586" stop-color="#f8ff00"/><stop offset="0.604" stop-color="#fffe00"/><stop offset="0.757" stop-color="#ffe600"/><stop offset="0.919" stop-color="#ffd900"/><stop offset="1" stop-color="#ffdd00"/></linearGradient>
<linearGradient id="g117" gradientUnits="userSpaceOnUse" x1="0" y1="34" x2="0" y2="700"><stop offset="0" stop-color="#00c733"/><stop offset="0.171" stop-color="#00c931"/><stop offset="0.216" stop-color="#00e610"/><stop offset="0.423" stop-color="#06f804"/><stop offset="0.441" stop-color="#07f903"/><stop offset="0.45" stop-color="#0fff00"/><stop offset="0.486" stop-color="#5cff00"/><stop offset="0.541" stop-color="#b2ff00"/><stop offset="0.586" stop-color="#edff00"/><stop offset="0.613" stop-color="#fffe00"/><stop offset="0.757" stop-color="#ffe500"/><stop offset="0.91" stop-color="#ffd500"/><stop offset="1" stop-color="#ffdc00"/></linearGradient>
<linearGradient id="g118" gradientUnits="userSpaceOnUse" x1="0" y1="34" x2="0" y2="700"><stop offset="0" stop-color="#00c536"/><stop offset="0.171" stop-color="#00c733"/><stop offset="0.216" stop-color="#00e313"/><stop offset="0.369" stop-color="#03f007"/><stop offset="0.441" stop-color="#05f505"/><stop offset="0.45" stop-color="#0afe00"/><stop offset="0.486" stop-color="#58ff00"/><stop offset="0.541" stop-color="#afff00"/><stop offset="0.586" stop-color="#ecff00"/><stop offset="0.613" stop-color="#fffe00"/><stop offset="0.748" stop-color="#ffe400"/><stop offset="0.901" stop-color="#ffce00"/><stop offset="1" stop-color="#ffd800"/></linearGradient>
<linearGradient id="g119" gradientUnits="userSpaceOnUse" x1="0" y1="34" x2="0" y2="700"><stop offset="0" stop-color="#00c931"/><stop offset="0.171" stop-color="#00cf2a"/><stop offset="0.216" stop-color="#00eb0a"/><stop offset="0.441" stop-color="#0aff00"/><stop offset="0.45" stop-color="#18ff00"/><stop offset="0.486" stop-color="#66ff00"/><stop offset="0.55" stop-color="#c8ff00"/><stop offset="0.586" stop-color="#f3ff00"/><stop offset="0.604" stop-color="#ffff00"/><stop offset="0.748" stop-color="#ffdf00"/><stop offset="0.901" stop-color="#ffc600"/><stop offset="1" stop-color="#ffd400"/></linearGradient>
<linearGradient id="g120" gradientUnits="userSpaceOnUse" x1="0" y1="34" x2="0" y2="700"><stop offset="0" stop-color="#00d326"/><stop offset="0.072" stop-color="#00d91f"/><stop offset="0.126" stop-color="#00de19"/><stop offset="0.171" stop-color="#00de19"/><stop offset="0.198" stop-color="#02ee08"/><stop offset="0.234" stop-color="#06f704"/><stop offset="0.342" stop-color="#0fff00"/><stop offset="0.441" stop-color="#28ff00"/><stop offset="0.459" stop-color="#4aff00"/><stop offset="0.486" stop-color="#82ff00"/><stop offset="0.55" stop-color="#dfff00"/><stop offset="0.577" stop-color="#faff00"/><stop offset="0.595" stop-color="#fffd00"/><stop offset="0.757" stop-color="#ffd900"/><stop offset="0.892" stop-color="#ffbd00"/><stop offset="0.991" stop-color="#ffcf00"/><stop offset="1" stop-color="#ffcf00"/></linearGradient>
<linearGradient id="g121" gradientUnits="userSpaceOnUse" x1="0" y1="34" x2="0" y2="700"><stop offset="0" stop-color="#00e116"/><stop offset="0.063" stop-color="#00e610"/><stop offset="0.081" stop-color="#02ef08"/><stop offset="0.18" stop-color="#05f505"/><stop offset="0.207" stop-color="#10ff00"/><stop offset="0.324" stop-color="#26ff00"/><stop offset="0.441" stop-color="#52ff00"/><stop offset="0.486" stop-color="#a5ff00"/><stop offset="0.55" stop-color="#feff00"/><stop offset="0.649" stop-color="#ffec00"/><stop offset="0.766" stop-color="#ffd000"/><stop offset="0.883" stop-color="#ffb300"/><stop offset="0.955" stop-color="#ffc300"/><stop offset="1" stop-color="#ffca00"/></linearGradient>
<linearGradient id="g122" gradientUnits="userSpaceOnUse" x1="0" y1="34" x2="0" y2="700"><stop offset="0" stop-color="#02f008"/><stop offset="0.063" stop-color="#05f605"/><stop offset="0.081" stop-color="#0eff00"/><stop offset="0.171" stop-color="#15ff00"/><stop offset="0.216" stop-color="#31ff00"/><stop offset="0.306" stop-color="#40ff00"/><stop offset="0.414" stop-color="#72ff00"/><stop offset="0.441" stop-color="#83ff00"/><stop offset="0.495" stop-color="#daff00"/><stop offset="0.523" stop-color="#feff00"/><stop offset="0.586" stop-color="#fff100"/><stop offset="0.712" stop-color="#ffd500"/><stop offset="0.874" stop-color="#ffab00"/><stop offset="0.91" stop-color="#ffaf00"/><stop offset="0.982" stop-color="#ffc500"/><stop offset="1" stop-color="#ffc500"/></linearGradient>
<linearGradient id="g123" gradientUnits="userSpaceOnUse" x1="0" y1="34" x2="0" y2="700"><stop offset="0" stop-color="#09fe01"/><stop offset="0.063" stop-color="#15ff00"/><stop offset="0.081" stop-color="#2eff00"/><stop offset="0.117" stop-color="#35ff00"/><stop offset="0.171" stop-color="#39ff00"/><stop offset="0.216" stop-color="#53ff00"/><stop offset="0.306" stop-color="#64ff00"/><stop offset="0.432" stop-color="#abff00"/><stop offset="0.45" stop-color="#bdff00"/><stop offset="0.486" stop-color="#f5ff00"/><stop offset="0.495" stop-color="#ffff00"/><stop offset="0.55" stop-color="#ffe700"/><stop offset="0.64" stop-color="#ffe100"/><stop offset="0.82" stop-color="#ffad00"/><stop offset="0.874" stop-color="#ffa100"/><stop offset="0.919" stop-color="#ffaa00"/><stop offset="0.982" stop-color="#ffc100"/><stop offset="1" stop-color="#ffc100"/></linearGradient>
<linearGradient id="g124" gradientUnits="userSpaceOnUse" x1="0" y1="34" x2="0" y2="700"><stop offset="0" stop-color="#21ff00"/><stop offset="0.063" stop-color="#31ff00"/><stop offset="0.081" stop-color="#52ff00"/><stop offset="0.099" stop-color="#59ff00"/><stop offset="0.18" stop-color="#63ff00"/><stop offset="0.216" stop-color="#78ff00"/><stop offset="0.297" stop-color="#86ff00"/><stop offset="0.405" stop-color="#c4ff00"/><stop offset="0.441" stop-color="#deff00"/><stop offset="0.468" stop-color="#fffe00"/><stop offset="0.55" stop-color="#ffda00"/><stop offset="0.64" stop-color="#ffda00"/><stop offset="0.757" stop-color="#ffb800"/><stop offset="0.847" stop-color="#ff9a00"/><stop offset="0.892" stop-color="#ff9b00"/><stop offset="0.982" stop-color="#ffbe00"/><stop offset="1" stop-color="#ffbe00"/></linearGradient>
<linearGradient id="g125" gradientUnits="userSpaceOnUse" x1="0" y1="34" x2="0" y2="700"><stop offset="0" stop-color="#3eff00"/><stop offset="0.063" stop-color="#51ff00"/><stop offset="0.081" stop-color="#77ff00"/><stop offset="0.09" stop-color="#7eff00"/><stop offset="0.18" stop-color="#8aff00"/><stop offset="0.216" stop-color="#9bff00"/><stop offset="0.297" stop-color="#a9ff00"/><stop offset="0.414" stop-color="#f3ff00"/><stop offset="0.432" stop-color="#ffff00"/><stop offset="0.468" stop-color="#fff200"/><stop offset="0.541" stop-color="#ffd400"/><stop offset="0.64" stop-color="#ffd400"/><stop offset="0.721" stop-color="#ffbb00"/><stop offset="0.847" stop-color="#ff9100"/><stop offset="0.892" stop-color="#ff9500"/><stop offset="0.982" stop-color="#ffbb00"/><stop offset="1" stop-color="#ffbb00"/></linearGradient>
<linearGradient id="g126" gradientUnits="userSpaceOnUse" x1="0" y1="34" x2="0" y2="700"><stop offset="0" stop-color="#60ff00"/><stop offset="0.063" stop-color="#75ff00"/><stop offset="0.081" stop-color="#9bff00"/><stop offset="0.099" stop-color="#a3ff00"/><stop offset="0.18" stop-color="#aeff00"/><stop offset="0.225" stop-color="#bfff00"/><stop offset="0.297" stop-color="#cbff00"/><stop offset="0.378" stop-color="#fdff00"/><stop offset="0.441" stop-color="#fff000"/><stop offset="0.514" stop-color="#ffd300"/><stop offset="0.559" stop-color="#ffcc00"/><stop offset="0.64" stop-color="#ffce00"/><stop offset="0.721" stop-color="#ffb200"/><stop offset="0.838" stop-color="#ff8900"/><stop offset="0.892" stop-color="#ff9100"/><stop offset="0.982" stop-color="#ffb800"/><stop offset="1" stop-color="#ffb800"/></linearGradient>
<linearGradient id="g127" gradientUnits="userSpaceOnUse" x1="0" y1="34" x2="0" y2="700"><stop offset="0" stop-color="#86ff00"/><stop offset="0.063" stop-color="#99ff00"/><stop offset="0.081" stop-color="#bdff00"/><stop offset="0.099" stop-color="#c5ff00"/><stop offset="0.18" stop-color="#d0ff00"/><stop offset="0.225" stop-color="#dfff00"/><stop offset="0.297" stop-color="#ebff00"/><stop offset="0.333" stop-color="#ffff00"/><stop offset="0.405" stop-color="#ffed00"/><stop offset="0.514" stop-color="#ffcc00"/><stop offset="0.568" stop-color="#ffc800"/><stop offset="0.64" stop-color="#ffc900"/><stop offset="0.802" stop-color="#ff8a00"/><stop offset="0.847" stop-color="#ff8300"/><stop offset="0.901" stop-color="#ff9400"/><stop offset="0.982" stop-color="#ffb700"/><stop offset="1" stop-color="#ffb700"/></linearGradient>
<linearGradient id="g128" gradientUnits="userSpaceOnUse" x1="0" y1="34" x2="0" y2="700"><stop offset="0" stop-color="#adff00"/><stop offset="0.063" stop-color="#beff00"/><stop offset="0.081" stop-color="#ddff00"/><stop offset="0.099" stop-color="#e4ff00"/><stop offset="0.18" stop-color="#f0ff00"/><stop offset="0.234" stop-color="#feff00"/><stop offset="0.324" stop-color="#fff800"/><stop offset="0.505" stop-color="#ffc900"/><stop offset="0.586" stop-color="#ffc600"/><stop offset="0.64" stop-color="#ffc400"/><stop offset="0.775" stop-color="#ff8800"/><stop offset="0.838" stop-color="#ff7d00"/><stop offset="0.919" stop-color="#ff9b00"/><stop offset="0.982" stop-color="#ffb600"/><stop offset="1" stop-color="#ffb600"/></linearGradient>
<linearGradient id="g129" gradientUnits="userSpaceOnUse" x1="0" y1="34" x2="0" y2="700"><stop offset="0" stop-color="#d3ff00"/><stop offset="0.063" stop-color="#e3ff00"/><stop offset="0.081" stop-color="#fcff00"/><stop offset="0.18" stop-color="#fffc00"/><stop offset="0.306" stop-color="#fff100"/><stop offset="0.477" stop-color="#ffc800"/><stop offset="0.604" stop-color="#ffc400"/><stop offset="0.649" stop-color="#ffbc00"/><stop offset="0.748" stop-color="#ff8900"/><stop offset="0.811" stop-color="#ff7b00"/><stop offset="0.847" stop-color="#ff7e00"/><stop offset="0.982" stop-color="#ffb600"/><stop offset="1" stop-color="#ffb600"/></linearGradient>
<linearGradient id="g130" gradientUnits="userSpaceOnUse" x1="0" y1="34" x2="0" y2="700"><stop offset="0" stop-color="#f8ff00"/><stop offset="0.072" stop-color="#fffb00"/><stop offset="0.306" stop-color="#ffe500"/><stop offset="0.459" stop-color="#ffc700"/><stop offset="0.631" stop-color="#ffbe00"/><stop offset="0.721" stop-color="#ff8b00"/><stop offset="0.775" stop-color="#ff7a00"/><stop offset="0.838" stop-color="#ff7c00"/><stop offset="0.973" stop-color="#ffb500"/><stop offset="1" stop-color="#ffb600"/></linearGradient>
<linearGradient id="g131" gradientUnits="userSpaceOnUse" x1="0" y1="34" x2="0" y2="700"><stop offset="0" stop-color="#fff800"/><stop offset="0.072" stop-color="#fff000"/><stop offset="0.153" stop-color="#ffe800"/><stop offset="0.315" stop-color="#ffda00"/><stop offset="0.459" stop-color="#ffc400"/><stop offset="0.613" stop-color="#ffbe00"/><stop offset="0.649" stop-color="#ffae00"/><stop offset="0.694" stop-color="#ff8f00"/><stop offset="0.766" stop-color="#ff7700"/><stop offset="0.838" stop-color="#ff7f00"/><stop offset="0.919" stop-color="#ffa300"/><stop offset="0.982" stop-color="#ffb700"/><stop offset="1" stop-color="#ffb700"/></linearGradient>
<linearGradient id="g132" gradientUnits="userSpaceOnUse" x1="0" y1="34" x2="0" y2="700"><stop offset="0" stop-color="#ffea00"/><stop offset="0.324" stop-color="#ffd000"/><stop offset="0.477" stop-color="#ffc100"/><stop offset="0.604" stop-color="#ffbd00"/><stop offset="0.64" stop-color="#ffad00"/><stop offset="0.685" stop-color="#ff8b00"/><stop offset="0.757" stop-color="#ff7500"/><stop offset="0.829" stop-color="#ff8000"/><stop offset="0.91" stop-color="#ffa400"/><stop offset="0.982" stop-color="#ffb800"/><stop offset="1" stop-color="#ffb800"/></linearGradient>
<linearGradient id="g133" gradientUnits="userSpaceOnUse" x1="0" y1="34" x2="0" y2="700"><stop offset="0" stop-color="#ffde00"/><stop offset="0.324" stop-color="#ffc900"/><stop offset="0.495" stop-color="#ffbe00"/><stop offset="0.595" stop-color="#ffbc00"/><stop offset="0.631" stop-color="#ffac00"/><stop offset="0.676" stop-color="#ff8800"/><stop offset="0.748" stop-color="#ff7700"/><stop offset="0.811" stop-color="#ff8100"/><stop offset="0.91" stop-color="#ffa800"/><stop offset="0.991" stop-color="#ffb900"/><stop offset="1" stop-color="#ffb900"/></linearGradient>
<linearGradient id="g134" gradientUnits="userSpaceOnUse" x1="0" y1="34" x2="0" y2="700"><stop offset="0" stop-color="#ffd100"/><stop offset="0.342" stop-color="#ffc000"/><stop offset="0.568" stop-color="#ffbb00"/><stop offset="0.604" stop-color="#ffb400"/><stop offset="0.649" stop-color="#ff9600"/><stop offset="0.676" stop-color="#ff8200"/><stop offset="0.748" stop-color="#ff7900"/><stop offset="0.82" stop-color="#ff8b00"/><stop offset="0.91" stop-color="#ffad00"/><stop offset="1" stop-color="#ffb900"/></linearGradient>
<linearGradient id="g135" gradientUnits="userSpaceOnUse" x1="0" y1="34" x2="0" y2="700"><stop offset="0" stop-color="#ffc400"/><stop offset="0.523" stop-color="#ffb300"/><stop offset="0.586" stop-color="#ffb300"/><stop offset="0.64" stop-color="#ff9500"/><stop offset="0.676" stop-color="#ff7f00"/><stop offset="0.757" stop-color="#ff7e00"/><stop offset="0.91" stop-color="#ffaf00"/><stop offset="1" stop-color="#ffba00"/></linearGradient>
<linearGradient id="g136" gradientUnits="userSpaceOnUse" x1="0" y1="34" x2="0" y2="700"><stop offset="0" stop-color="#ffae00"/><stop offset="0.55" stop-color="#ffa200"/><stop offset="0.586" stop-color="#ffa400"/><stop offset="0.676" stop-color="#ff7a00"/><stop offset="0.766" stop-color="#ff8200"/><stop offset="0.901" stop-color="#ffab00"/><stop offset="1" stop-color="#ffb400"/></linearGradient>
<linearGradient id="g137" gradientUnits="userSpaceOnUse" x1="0" y1="34" x2="0" y2="700"><stop offset="0" stop-color="#ff9e00"/><stop offset="0.55" stop-color="#ff9500"/><stop offset="0.586" stop-color="#ff9800"/><stop offset="0.658" stop-color="#ff7d00"/><stop offset="0.739" stop-color="#ff8200"/><stop offset="0.901" stop-color="#ffac00"/><stop offset="1" stop-color="#ffb200"/></linearGradient>
<linearGradient id="g138" gradientUnits="userSpaceOnUse" x1="0" y1="34" x2="0" y2="700"><stop offset="0" stop-color="#ff9600"/><stop offset="0.559" stop-color="#ff9200"/><stop offset="0.586" stop-color="#ff9400"/><stop offset="0.64" stop-color="#ff8300"/><stop offset="0.739" stop-color="#ff8d00"/><stop offset="0.901" stop-color="#ffb000"/><stop offset="1" stop-color="#ffb400"/></linearGradient>
<linearGradient id="g139" gradientUnits="userSpaceOnUse" x1="0" y1="34" x2="0" y2="700"><stop offset="0" stop-color="#ff9600"/><stop offset="0.559" stop-color="#ff9400"/><stop offset="0.586" stop-color="#ff9600"/><stop offset="0.631" stop-color="#ff8a00"/><stop offset="0.766" stop-color="#ff9d00"/><stop offset="0.901" stop-color="#ffb400"/><stop offset="1" stop-color="#ffb700"/></linearGradient>
<linearGradient id="g140" gradientUnits="userSpaceOnUse" x1="0" y1="34" x2="0" y2="700"><stop offset="0" stop-color="#ff9e00"/><stop offset="0.559" stop-color="#ff9c00"/><stop offset="0.586" stop-color="#ff9e00"/><stop offset="0.631" stop-color="#ff9400"/><stop offset="0.901" stop-color="#ffb700"/><stop offset="1" stop-color="#ffb900"/></linearGradient>
<linearGradient id="g141" gradientUnits="userSpaceOnUse" x1="0" y1="34" x2="0" y2="700"><stop offset="0" stop-color="#ffa900"/><stop offset="0.568" stop-color="#ffa900"/><stop offset="0.64" stop-color="#ffa000"/><stop offset="0.91" stop-color="#ffba00"/><stop offset="1" stop-color="#ffbb00"/></linearGradient>
<linearGradient id="g142" gradientUnits="userSpaceOnUse" x1="0" y1="34" x2="0" y2="700"><stop offset="0" stop-color="#ffb400"/><stop offset="0.586" stop-color="#ffb300"/><stop offset="0.658" stop-color="#ffab00"/><stop offset="0.919" stop-color="#ffbd00"/><stop offset="1" stop-color="#ffbd00"/></linearGradient>
<linearGradient id="g143" gradientUnits="userSpaceOnUse" x1="0" y1="34" x2="0" y2="700"><stop offset="0" stop-color="#ffbb00"/><stop offset="0.586" stop-color="#ffba00"/><stop offset="0.703" stop-color="#ffb400"/><stop offset="0.928" stop-color="#ffbf00"/><stop offset="1" stop-color="#ffc000"/></linearGradient>
<linearGradient id="g144" gradientUnits="userSpaceOnUse" x1="0" y1="34" x2="0" y2="700"><stop offset="0" stop-color="#ffc000"/><stop offset="0.595" stop-color="#ffbd00"/><stop offset="0.73" stop-color="#ffbc00"/><stop offset="1" stop-color="#ffc200"/></linearGradient>
<linearGradient id="g145" gradientUnits="userSpaceOnUse" x1="0" y1="34" x2="0" y2="700"><stop offset="0" stop-color="#ffc300"/><stop offset="0.649" stop-color="#ffc000"/><stop offset="1" stop-color="#ffc400"/></linearGradient>
<linearGradient id="g146" gradientUnits="userSpaceOnUse" x1="0" y1="34" x2="0" y2="700"><stop offset="0" stop-color="#ffcc00"/><stop offset="1" stop-color="#ffcd00"/></linearGradient>
<linearGradient id="g147" gradientUnits="userSpaceOnUse" x1="0" y1="34" x2="0" y2="700"><stop offset="0" stop-color="#ffce00"/><stop offset="0.955" stop-color="#ffd000"/><stop offset="1" stop-color="#ffcf00"/></linearGradient>
<linearGradient id="g148" gradientUnits="userSpaceOnUse" x1="0" y1="34" x2="0" y2="700"><stop offset="0" stop-color="#ffd000"/><stop offset="0.937" stop-color="#ffd200"/><stop offset="1" stop-color="#ffd100"/></linearGradient>
<linearGradient id="g149" gradientUnits="userSpaceOnUse" x1="0" y1="34" x2="0" y2="700"><stop offset="0" stop-color="#ffce00"/><stop offset="0.739" stop-color="#ffd300"/><stop offset="1" stop-color="#ffcf00"/></linearGradient>
<linearGradient id="g150" gradientUnits="userSpaceOnUse" x1="0" y1="34" x2="0" y2="700"><stop offset="0" stop-color="#ffcc00"/><stop offset="0.721" stop-color="#ffd000"/><stop offset="1" stop-color="#ffcd00"/></linearGradient>
<linearGradient id="g151" gradientUnits="userSpaceOnUse" x1="0" y1="34" x2="0" y2="700"><stop offset="0" stop-color="#ffca00"/><stop offset="0.712" stop-color="#ffce00"/><stop offset="1" stop-color="#ffcb00"/></linearGradient>
<linearGradient id="g152" gradientUnits="userSpaceOnUse" x1="0" y1="34" x2="0" y2="700"><stop offset="0" stop-color="#ffc800"/><stop offset="0.712" stop-color="#ffcc00"/><stop offset="1" stop-color="#ffc900"/></linearGradient>
<linearGradient id="g153" gradientUnits="userSpaceOnUse" x1="0" y1="34" x2="0" y2="700"><stop offset="0" stop-color="#ffc600"/><stop offset="0.73" stop-color="#ffcb00"/><stop offset="1" stop-color="#ffc700"/></linearGradient>
<linearGradient id="g154" gradientUnits="userSpaceOnUse" x1="0" y1="34" x2="0" y2="700"><stop offset="0" stop-color="#ffc400"/><stop offset="0.928" stop-color="#ffc600"/><stop offset="1" stop-color="#ffc500"/></linearGradient>
<linearGradient id="g155" gradientUnits="userSpaceOnUse" x1="0" y1="34" x2="0" y2="700"><stop offset="0" stop-color="#ffc200"/><stop offset="0.946" stop-color="#ffc400"/><stop offset="1" stop-color="#ffc300"/></linearGradient>
<linearGradient id="g156" gradientUnits="userSpaceOnUse" x1="0" y1="34" x2="0" y2="700"><stop offset="0" stop-color="#ffbf00"/><stop offset="0.973" stop-color="#ffc000"/><stop offset="1" stop-color="#ffc000"/></linearGradient>
<linearGradient id="g157" gradientUnits="userSpaceOnUse" x1="0" y1="34" x2="0" y2="700"><stop offset="0" stop-color="#ffbc00"/><stop offset="1" stop-color="#ffbd00"/></linearGradient>
<linearGradient id="g158" gradientUnits="userSpaceOnUse" x1="0" y1="34" x2="0" y2="700"><stop offset="0" stop-color="#ffb900"/><stop offset="1" stop-color="#ffba00"/></linearGradient>
<linearGradient id="g159" gradientUnits="userSpaceOnUse" x1="0" y1="34" x2="0" y2="700"><stop offset="0" stop-color="#ffb600"/><stop offset="1" stop-color="#ffb700"/></linearGradient>
<linearGradient id="g160" gradientUnits="userSpaceOnUse" x1="0" y1="34" x2="0" y2="700"><stop offset="0" stop-color="#ffb500"/><stop offset="1" stop-color="#ffb400"/></linearGradient>
<linearGradient id="g161" gradientUnits="userSpaceOnUse" x1="0" y1="34" x2="0" y2="700"><stop offset="0" stop-color="#ffb400"/><stop offset="1" stop-color="#ffb100"/></linearGradient>
<linearGradient id="g162" gradientUnits="userSpaceOnUse" x1="0" y1="34" x2="0" y2="700"><stop offset="0" stop-color="#ffb600"/><stop offset="0.577" stop-color="#ffb200"/><stop offset="1" stop-color="#ffb200"/></linearGradient>
<linearGradient id="g163" gradientUnits="userSpaceOnUse" x1="0" y1="34" x2="0" y2="700"><stop offset="0" stop-color="#ffb900"/><stop offset="0.351" stop-color="#ffb300"/><stop offset="1" stop-color="#ffb300"/></linearGradient>
<linearGradient id="g164" gradientUnits="userSpaceOnUse" x1="0" y1="34" x2="0" y2="700"><stop offset="0" stop-color="#ffbb00"/><stop offset="0.135" stop-color="#ffb600"/><stop offset="1" stop-color="#ffb400"/></linearGradient>
<linearGradient id="g165" gradientUnits="userSpaceOnUse" x1="0" y1="34" x2="0" y2="700"><stop offset="0" stop-color="#ffbe00"/><stop offset="0.117" stop-color="#ffba00"/><stop offset="0.243" stop-color="#ffb500"/><stop offset="1" stop-color="#ffb600"/></linearGradient>
<linearGradient id="g166" gradientUnits="userSpaceOnUse" x1="0" y1="34" x2="0" y2="700"><stop offset="0" stop-color="#ffc100"/><stop offset="0.108" stop-color="#ffbd00"/><stop offset="0.198" stop-color="#ffb600"/><stop offset="1" stop-color="#ffb700"/></linearGradient>
<linearGradient id="g167" gradientUnits="userSpaceOnUse" x1="0" y1="34" x2="0" y2="700"><stop offset="0" stop-color="#ffc300"/><stop offset="0.108" stop-color="#ffbf00"/><stop offset="0.189" stop-color="#ffb700"/><stop offset="0.928" stop-color="#ffb600"/><stop offset="1" stop-color="#ffb800"/></linearGradient>
<linearGradient id="g168" gradientUnits="userSpaceOnUse" x1="0" y1="34" x2="0" y2="700"><stop offset="0" stop-color="#ffc300"/><stop offset="0.108" stop-color="#ffbe00"/><stop offset="0.189" stop-color="#ffb500"/><stop offset="0.883" stop-color="#ffb200"/><stop offset="1" stop-color="#ffb700"/></linearGradient>
<linearGradient id="g169" gradientUnits="userSpaceOnUse" x1="0" y1="34" x2="0" y2="700"><stop offset="0" stop-color="#ffc200"/><stop offset="0.108" stop-color="#ffbc00"/><stop offset="0.189" stop-color="#ffb300"/><stop offset="0.712" stop-color="#ffad00"/><stop offset="0.892" stop-color="#ffaf00"/><stop offset="1" stop-color="#ffb500"/></linearGradient>
<linearGradient id="g170" gradientUnits="userSpaceOnUse" x1="0" y1="34" x2="0" y2="700"><stop offset="0" stop-color="#ffc000"/><stop offset="0.108" stop-color="#ffba00"/><stop offset="0.189" stop-color="#ffb100"/><stop offset="0.694" stop-color="#ffab00"/><stop offset="0.847" stop-color="#ffa700"/><stop offset="1" stop-color="#ffb400"/></linearGradient>
<linearGradient id="g171" gradientUnits="userSpaceOnUse" x1="0" y1="34" x2="0" y2="700"><stop offset="0" stop-color="#ffbf00"/><stop offset="0.108" stop-color="#ffb800"/><stop offset="0.189" stop-color="#ffae00"/><stop offset="0.694" stop-color="#ffa600"/><stop offset="0.784" stop-color="#ffa100"/><stop offset="0.874" stop-color="#ffa500"/><stop offset="1" stop-color="#ffb200"/></linearGradient>
<linearGradient id="g172" gradientUnits="userSpaceOnUse" x1="0" y1="34" x2="0" y2="700"><stop offset="0" stop-color="#ffbe00"/><stop offset="0.108" stop-color="#ffb600"/><stop offset="0.189" stop-color="#ffac00"/><stop offset="0.685" stop-color="#ffa400"/><stop offset="0.757" stop-color="#ff9c00"/><stop offset="0.865" stop-color="#ff9f00"/><stop offset="1" stop-color="#ffb000"/></linearGradient>
<linearGradient id="g173" gradientUnits="userSpaceOnUse" x1="0" y1="34" x2="0" y2="700"><stop offset="0" stop-color="#ffbc00"/><stop offset="0.108" stop-color="#ffb500"/><stop offset="0.189" stop-color="#ffaa00"/><stop offset="0.685" stop-color="#ffa000"/><stop offset="0.748" stop-color="#ff9700"/><stop offset="0.865" stop-color="#ff9a00"/><stop offset="0.991" stop-color="#ffaf00"/><stop offset="1" stop-color="#ffaf00"/></linearGradient>
<linearGradient id="g174" gradientUnits="userSpaceOnUse" x1="0" y1="34" x2="0" y2="700"><stop offset="0" stop-color="#ffbb00"/><stop offset="0.108" stop-color="#ffb300"/><stop offset="0.189" stop-color="#ffa800"/><stop offset="0.577" stop-color="#ffa100"/><stop offset="0.685" stop-color="#ff9d00"/><stop offset="0.748" stop-color="#ff9300"/><stop offset="0.865" stop-color="#ff9700"/><stop offset="0.991" stop-color="#ffad00"/><stop offset="1" stop-color="#ffad00"/></linearGradient>
<linearGradient id="g175" gradientUnits="userSpaceOnUse" x1="0" y1="34" x2="0" y2="700"><stop offset="0" stop-color="#ffba00"/><stop offset="0.108" stop-color="#ffb200"/><stop offset="0.189" stop-color="#ffa600"/><stop offset="0.532" stop-color="#ffa000"/><stop offset="0.685" stop-color="#ff9b00"/><stop offset="0.748" stop-color="#ff9100"/><stop offset="0.856" stop-color="#ff9200"/><stop offset="0.982" stop-color="#ffad00"/><stop offset="1" stop-color="#ffad00"/></linearGradient>
<linearGradient id="g176" gradientUnits="userSpaceOnUse" x1="0" y1="34" x2="0" y2="700"><stop offset="0" stop-color="#ffba00"/><stop offset="0.108" stop-color="#ffb100"/><stop offset="0.189" stop-color="#ffa600"/><stop offset="0.523" stop-color="#ff9f00"/><stop offset="0.685" stop-color="#ff9b00"/><stop offset="0.748" stop-color="#ff9000"/><stop offset="0.856" stop-color="#ff9200"/><stop offset="0.982" stop-color="#ffac00"/><stop offset="1" stop-color="#ffac00"/></linearGradient>
<linearGradient id="g177" gradientUnits="userSpaceOnUse" x1="0" y1="34" x2="0" y2="700"><stop offset="0" stop-color="#ffba00"/><stop offset="0.108" stop-color="#ffb100"/><stop offset="0.189" stop-color="#ffa600"/><stop offset="0.568" stop-color="#ff9f00"/><stop offset="0.685" stop-color="#ff9b00"/><stop offset="0.748" stop-color="#ff9100"/><stop offset="0.865" stop-color="#ff9500"/><stop offset="0.991" stop-color="#ffac00"/><stop offset="1" stop-color="#ffac00"/></linearGradient>
<linearGradient id="g178" gradientUnits="userSpaceOnUse" x1="0" y1="34" x2="0" y2="700"><stop offset="0" stop-color="#ffb900"/><stop offset="0.108" stop-color="#ffb200"/><stop offset="0.189" stop-color="#ffa700"/><stop offset="0.685" stop-color="#ff9d00"/><stop offset="0.748" stop-color="#ff9400"/><stop offset="0.865" stop-color="#ff9700"/><stop offset="0.991" stop-color="#ffac00"/><stop offset="1" stop-color="#ffac00"/></linearGradient>
<linearGradient id="g179" gradientUnits="userSpaceOnUse" x1="0" y1="34" x2="0" y2="700"><stop offset="0" stop-color="#ffba00"/><stop offset="0.108" stop-color="#ffb200"/><stop offset="0.189" stop-color="#ffa800"/><stop offset="0.685" stop-color="#ffa000"/><stop offset="0.757" stop-color="#ff9800"/><stop offset="0.865" stop-color="#ff9b00"/><stop offset="1" stop-color="#ffad00"/></linearGradient>
<linearGradient id="g180" gradientUnits="userSpaceOnUse" x1="0" y1="34" x2="0" y2="700"><stop offset="0" stop-color="#ffba00"/><stop offset="0.108" stop-color="#ffb300"/><stop offset="0.189" stop-color="#ffa900"/><stop offset="0.694" stop-color="#ffa300"/><stop offset="0.793" stop-color="#ff9e00"/><stop offset="0.883" stop-color="#ffa300"/><stop offset="1" stop-color="#ffaf00"/></linearGradient>
<linearGradient id="g181" gradientUnits="userSpaceOnUse" x1="0" y1="34" x2="0" y2="700"><stop offset="0" stop-color="#ffba00"/><stop offset="0.108" stop-color="#ffb400"/><stop offset="0.189" stop-color="#ffaa00"/><stop offset="0.712" stop-color="#ffa600"/><stop offset="0.874" stop-color="#ffa700"/><stop offset="1" stop-color="#ffb100"/></linearGradient>
<linearGradient id="g182" gradientUnits="userSpaceOnUse" x1="0" y1="34" x2="0" y2="700"><stop offset="0" stop-color="#ffba00"/><stop offset="0.108" stop-color="#ffb400"/><stop offset="0.189" stop-color="#ffac00"/><stop offset="0.883" stop-color="#ffac00"/><stop offset="1" stop-color="#ffb300"/></linearGradient>
<linearGradient id="g183" gradientUnits="userSpaceOnUse" x1="0" y1="34" x2="0" y2="700"><stop offset="0" stop-color="#ffba00"/><stop offset="0.108" stop-color="#ffb500"/><stop offset="0.189" stop-color="#ffac00"/><stop offset="0.874" stop-color="#ffb000"/><stop offset="1" stop-color="#ffb500"/></linearGradient>
<linearGradient id="g184" gradientUnits="userSpaceOnUse" x1="0" y1="34" x2="0" y2="700"><stop offset="0" stop-color="#ffb900"/><stop offset="0.108" stop-color="#ffb500"/><stop offset="0.189" stop-color="#ffad00"/><stop offset="0.658" stop-color="#ffb000"/><stop offset="1" stop-color="#ffb700"/></linearGradient>
<linearGradient id="g185" gradientUnits="userSpaceOnUse" x1="0" y1="34" x2="0" y2="700"><stop offset="0" stop-color="#ffb900"/><stop offset="0.108" stop-color="#ffb500"/><stop offset="0.189" stop-color="#ffad00"/><stop offset="0.649" stop-color="#ffb100"/><stop offset="0.928" stop-color="#ffb800"/><stop offset="1" stop-color="#ffb900"/></linearGradient>
<linearGradient id="g186" gradientUnits="userSpaceOnUse" x1="0" y1="34" x2="0" y2="700"><stop offset="0" stop-color="#ffb900"/><stop offset="0.108" stop-color="#ffb500"/><stop offset="0.189" stop-color="#ffad00"/><stop offset="0.64" stop-color="#ffb100"/><stop offset="0.784" stop-color="#ffb800"/><stop offset="1" stop-color="#ffba00"/></linearGradient>
<linearGradient id="g187" gradientUnits="userSpaceOnUse" x1="0" y1="34" x2="0" y2="700"><stop offset="0" stop-color="#ffb800"/><stop offset="0.108" stop-color="#ffb400"/><stop offset="0.189" stop-color="#ffad00"/><stop offset="0.64" stop-color="#ffb200"/><stop offset="0.775" stop-color="#ffbb00"/><stop offset="1" stop-color="#ffbc00"/></linearGradient>
<linearGradient id="g188" gradientUnits="userSpaceOnUse" x1="0" y1="34" x2="0" y2="700"><stop offset="0" stop-color="#ffb700"/><stop offset="0.108" stop-color="#ffb400"/><stop offset="0.189" stop-color="#ffac00"/><stop offset="0.631" stop-color="#ffb100"/><stop offset="0.757" stop-color="#ffbc00"/><stop offset="1" stop-color="#ffbd00"/></linearGradient>
<linearGradient id="g189" gradientUnits="userSpaceOnUse" x1="0" y1="34" x2="0" y2="700"><stop offset="0" stop-color="#ffb700"/><stop offset="0.108" stop-color="#ffb300"/><stop offset="0.189" stop-color="#ffab00"/><stop offset="0.64" stop-color="#ffb200"/><stop offset="0.766" stop-color="#ffbc00"/><stop offset="1" stop-color="#ffbd00"/></linearGradient>
<linearGradient id="g190" gradientUnits="userSpaceOnUse" x1="0" y1="34" x2="0" y2="700"><stop offset="0" stop-color="#ffb600"/><stop offset="0.108" stop-color="#ffb200"/><stop offset="0.189" stop-color="#ffab00"/><stop offset="0.631" stop-color="#ffb100"/><stop offset="0.757" stop-color="#ffbc00"/><stop offset="1" stop-color="#ffbc00"/></linearGradient>
<linearGradient id="g191" gradientUnits="userSpaceOnUse" x1="0" y1="34" x2="0" y2="700"><stop offset="0" stop-color="#ffb500"/><stop offset="0.108" stop-color="#ffb200"/><stop offset="0.189" stop-color="#ffaa00"/><stop offset="0.631" stop-color="#ffb000"/><stop offset="0.757" stop-color="#ffbc00"/><stop offset="1" stop-color="#ffbc00"/></linearGradient>
<linearGradient id="g192" gradientUnits="userSpaceOnUse" x1="0" y1="34" x2="0" y2="700"><stop offset="0" stop-color="#ffb500"/><stop offset="0.108" stop-color="#ffb100"/><stop offset="0.189" stop-color="#ffaa00"/><stop offset="0.631" stop-color="#ffb000"/><stop offset="0.757" stop-color="#ffbc00"/><stop offset="1" stop-color="#ffbc00"/></linearGradient>
<linearGradient id="g193" gradientUnits="userSpaceOnUse" x1="0" y1="34" x2="0" y2="700"><stop offset="0" stop-color="#ffb400"/><stop offset="0.108" stop-color="#ffb100"/><stop offset="0.189" stop-color="#ffa900"/><stop offset="0.622" stop-color="#ffaf00"/><stop offset="0.757" stop-color="#ffbb00"/><stop offset="1" stop-color="#ffbb00"/></linearGradient>
<linearGradient id="g194" gradientUnits="userSpaceOnUse" x1="0" y1="34" x2="0" y2="700"><stop offset="0" stop-color="#ffb400"/><stop offset="0.108" stop-color="#ffb000"/><stop offset="0.189" stop-color="#ffa900"/><stop offset="0.622" stop-color="#ffae00"/><stop offset="0.757" stop-color="#ffbb00"/><stop offset="1" stop-color="#ffbb00"/></linearGradient>
<linearGradient id="g195" gradientUnits="userSpaceOnUse" x1="0" y1="34" x2="0" y2="700"><stop offset="0" stop-color="#ffb300"/><stop offset="0.108" stop-color="#ffb000"/><stop offset="0.189" stop-color="#ffa800"/><stop offset="0.622" stop-color="#ffae00"/><stop offset="0.757" stop-color="#ffba00"/><stop offset="1" stop-color="#ffba00"/></linearGradient>
<linearGradient id="g196" gradientUnits="userSpaceOnUse" x1="0" y1="34" x2="0" y2="700"><stop offset="0" stop-color="#ffb300"/><stop offset="0.108" stop-color="#ffb000"/><stop offset="0.189" stop-color="#ffa800"/><stop offset="0.622" stop-color="#ffad00"/><stop offset="0.757" stop-color="#ffba00"/><stop offset="1" stop-color="#ffba00"/></linearGradient>
<linearGradient id="g197" gradientUnits="userSpaceOnUse" x1="0" y1="34" x2="0" y2="700"><stop offset="0" stop-color="#ffb300"/><stop offset="0.108" stop-color="#ffaf00"/><stop offset="0.189" stop-color="#ffa800"/><stop offset="0.622" stop-color="#ffad00"/><stop offset="0.757" stop-color="#ffba00"/><stop offset="1" stop-color="#ffba00"/></linearGradient>
<linearGradient id="g198" gradientUnits="userSpaceOnUse" x1="0" y1="34" x2="0" y2="700"><stop offset="0" stop-color="#ffb300"/><stop offset="0.108" stop-color="#ffaf00"/><stop offset="0.189" stop-color="#ffa800"/><stop offset="0.631" stop-color="#ffae00"/><stop offset="0.757" stop-color="#ffb900"/><stop offset="1" stop-color="#ffb900"/></linearGradient>
<linearGradient id="g199" gradientUnits="userSpaceOnUse" x1="0" y1="34" x2="0" y2="700"><stop offset="0" stop-color="#ffb300"/><stop offset="0.108" stop-color="#ffaf00"/><stop offset="0.189" stop-color="#ffa700"/><stop offset="0.631" stop-color="#ffad00"/><stop offset="0.757" stop-color="#ffb900"/><stop offset="1" stop-color="#ffb900"/></linearGradient>
<linearGradient id="g200" gradientUnits="userSpaceOnUse" x1="0" y1="34" x2="0" y2="700"><stop offset="0" stop-color="#ffb300"/><stop offset="0.108" stop-color="#ffb000"/><stop offset="0.189" stop-color="#ffa800"/><stop offset="0.631" stop-color="#ffae00"/><stop offset="0.757" stop-color="#ffba00"/><stop offset="1" stop-color="#ffba00"/></linearGradient>
<linearGradient id="g201" gradientUnits="userSpaceOnUse" x1="0" y1="34" x2="0" y2="700"><stop offset="0" stop-color="#ffb500"/><stop offset="0.108" stop-color="#ffb100"/><stop offset="0.189" stop-color="#ffa900"/><stop offset="0.631" stop-color="#ffaf00"/><stop offset="0.757" stop-color="#ffba00"/><stop offset="1" stop-color="#ffba00"/></linearGradient>
<linearGradient id="g202" gradientUnits="userSpaceOnUse" x1="0" y1="34" x2="0" y2="700"><stop offset="0" stop-color="#ffb600"/><stop offset="0.108" stop-color="#ffb200"/><stop offset="0.189" stop-color="#ffaa00"/><stop offset="0.631" stop-color="#ffaf00"/><stop offset="0.757" stop-color="#ffbb00"/><stop offset="1" stop-color="#ffbb00"/></linearGradient>
<linearGradient id="g203" gradientUnits="userSpaceOnUse" x1="0" y1="34" x2="0" y2="700"><stop offset="0" stop-color="#ffb700"/><stop offset="0.108" stop-color="#ffb300"/><stop offset="0.189" stop-color="#ffab00"/><stop offset="0.631" stop-color="#ffb000"/><stop offset="0.757" stop-color="#ffbc00"/><stop offset="1" stop-color="#ffbc00"/></linearGradient>
<linearGradient id="g204" gradientUnits="userSpaceOnUse" x1="0" y1="34" x2="0" y2="700"><stop offset="0" stop-color="#ffb800"/><stop offset="0.108" stop-color="#ffb400"/><stop offset="0.189" stop-color="#ffac00"/><stop offset="0.631" stop-color="#ffb100"/><stop offset="0.757" stop-color="#ffbd00"/><stop offset="1" stop-color="#ffbd00"/></linearGradient>
<linearGradient id="g205" gradientUnits="userSpaceOnUse" x1="0" y1="34" x2="0" y2="700"><stop offset="0" stop-color="#ffb900"/><stop offset="0.108" stop-color="#ffb500"/><stop offset="0.189" stop-color="#ffad00"/><stop offset="0.631" stop-color="#ffb200"/><stop offset="0.757" stop-color="#ffbd00"/><stop offset="1" stop-color="#ffbd00"/></linearGradient>
<linearGradient id="g206" gradientUnits="userSpaceOnUse" x1="0" y1="34" x2="0" y2="700"><stop offset="0" stop-color="#ffba00"/><stop offset="0.108" stop-color="#ffb600"/><stop offset="0.189" stop-color="#ffae00"/><stop offset="0.631" stop-color="#ffb200"/><stop offset="0.757" stop-color="#ffbe00"/><stop offset="1" stop-color="#ffbe00"/></linearGradient>
<linearGradient id="g207" gradientUnits="userSpaceOnUse" x1="0" y1="34" x2="0" y2="700"><stop offset="0" stop-color="#ffbb00"/><stop offset="0.108" stop-color="#ffb700"/><stop offset="0.189" stop-color="#ffaf00"/><stop offset="0.631" stop-color="#ffb300"/><stop offset="0.757" stop-color="#ffbf00"/><stop offset="1" stop-color="#ffbf00"/></linearGradient>
<linearGradient id="g208" gradientUnits="userSpaceOnUse" x1="0" y1="34" x2="0" y2="700"><stop offset="0" stop-color="#ffbb00"/><stop offset="0.108" stop-color="#ffb700"/><stop offset="0.189" stop-color="#ffb000"/><stop offset="0.631" stop-color="#ffb300"/><stop offset="0.757" stop-color="#ffbf00"/><stop offset="1" stop-color="#ffbf00"/></linearGradient>
<linearGradient id="g209" gradientUnits="userSpaceOnUse" x1="0" y1="34" x2="0" y2="700"><stop offset="0" stop-color="#ffbb00"/><stop offset="0.108" stop-color="#ffb800"/><stop offset="0.189" stop-color="#ffb000"/><stop offset="0.631" stop-color="#ffb300"/><stop offset="0.757" stop-color="#ffbf00"/><stop offset="1" stop-color="#ffbf00"/></linearGradient>
<linearGradient id="g210" gradientUnits="userSpaceOnUse" x1="0" y1="34" x2="0" y2="700"><stop offset="0" stop-color="#ffbc00"/><stop offset="0.108" stop-color="#ffb800"/><stop offset="0.189" stop-color="#ffb000"/><stop offset="0.631" stop-color="#ffb300"/><stop offset="0.757" stop-color="#ffbf00"/><stop offset="1" stop-color="#ffbf00"/></linearGradient>
<linearGradient id="g211" gradientUnits="userSpaceOnUse" x1="0" y1="34" x2="0" y2="700"><stop offset="0" stop-color="#ffbc00"/><stop offset="0.108" stop-color="#ffb800"/><stop offset="0.189" stop-color="#ffb100"/><stop offset="0.631" stop-color="#ffb400"/><stop offset="0.757" stop-color="#ffbf00"/><stop offset="1" stop-color="#ffbf00"/></linearGradient>
<linearGradient id="g212" gradientUnits="userSpaceOnUse" x1="0" y1="34" x2="0" y2="700"><stop offset="0" stop-color="#ffbc00"/><stop offset="0.108" stop-color="#ffb900"/><stop offset="0.189" stop-color="#ffb100"/><stop offset="0.631" stop-color="#ffb400"/><stop offset="0.757" stop-color="#ffbf00"/><stop offset="1" stop-color="#ffbf00"/></linearGradient>
<linearGradient id="g213" gradientUnits="userSpaceOnUse" x1="0" y1="34" x2="0" y2="700"><stop offset="0" stop-color="#ffbd00"/><stop offset="0.108" stop-color="#ffb900"/><stop offset="0.189" stop-color="#ffb100"/><stop offset="0.631" stop-color="#ffb400"/><stop offset="0.757" stop-color="#ffc000"/><stop offset="1" stop-color="#ffc000"/></linearGradient>
<linearGradient id="g214" gradientUnits="userSpaceOnUse" x1="0" y1="34" x2="0" y2="700"><stop offset="0" stop-color="#ffbd00"/><stop offset="0.108" stop-color="#ffb900"/><stop offset="0.189" stop-color="#ffb200"/><stop offset="0.631" stop-color="#ffb400"/><stop offset="0.757" stop-color="#ffc000"/><stop offset="1" stop-color="#ffc000"/></linearGradient>
<linearGradient id="g215" gradientUnits="userSpaceOnUse" x1="0" y1="34" x2="0" y2="700"><stop offset="0" stop-color="#ffbd00"/><stop offset="0.108" stop-color="#ffba00"/><stop offset="0.189" stop-color="#ffb200"/><stop offset="0.631" stop-color="#ffb500"/><stop offset="0.757" stop-color="#ffc000"/><stop offset="1" stop-color="#ffc000"/></linearGradient>
<linearGradient id="g216" gradientUnits="userSpaceOnUse" x1="0" y1="34" x2="0" y2="700"><stop offset="0" stop-color="#ffbd00"/><stop offset="0.108" stop-color="#ffba00"/><stop offset="0.189" stop-color="#ffb200"/><stop offset="0.631" stop-color="#ffb500"/><stop offset="0.757" stop-color="#ffbf00"/><stop offset="1" stop-color="#ffc000"/></linearGradient>
<linearGradient id="g217" gradientUnits="userSpaceOnUse" x1="0" y1="34" x2="0" y2="700"><stop offset="0" stop-color="#ffbe00"/><stop offset="0.108" stop-color="#ffba00"/><stop offset="0.189" stop-color="#ffb200"/><stop offset="0.631" stop-color="#ffb500"/><stop offset="0.748" stop-color="#ffbf00"/><stop offset="1" stop-color="#ffc000"/></linearGradient>
<linearGradient id="g218" gradientUnits="userSpaceOnUse" x1="0" y1="34" x2="0" y2="700"><stop offset="0" stop-color="#ffbe00"/><stop offset="0.108" stop-color="#ffba00"/><stop offset="0.189" stop-color="#ffb200"/><stop offset="0.631" stop-color="#ffb500"/><stop offset="0.748" stop-color="#ffbd00"/><stop offset="0.865" stop-color="#ffbb00"/><stop offset="1" stop-color="#ffc000"/></linearGradient>
<linearGradient id="g219" gradientUnits="userSpaceOnUse" x1="0" y1="34" x2="0" y2="700"><stop offset="0" stop-color="#ffbe00"/><stop offset="0.108" stop-color="#ffba00"/><stop offset="0.189" stop-color="#ffb200"/><stop offset="0.631" stop-color="#ffb500"/><stop offset="0.739" stop-color="#ffbc00"/><stop offset="0.838" stop-color="#ffb400"/><stop offset="0.991" stop-color="#ffc000"/><stop offset="1" stop-color="#ffc000"/></linearGradient>
<linearGradient id="g220" gradientUnits="userSpaceOnUse" x1="0" y1="34" x2="0" y2="700"><stop offset="0" stop-color="#ffbe00"/><stop offset="0.108" stop-color="#ffba00"/><stop offset="0.189" stop-color="#ffb300"/><stop offset="0.631" stop-color="#ffb500"/><stop offset="0.73" stop-color="#ffbb00"/><stop offset="0.82" stop-color="#ffad00"/><stop offset="0.973" stop-color="#ffc000"/><stop offset="1" stop-color="#ffc100"/></linearGradient>
<linearGradient id="g221" gradientUnits="userSpaceOnUse" x1="0" y1="34" x2="0" y2="700"><stop offset="0" stop-color="#ffbe00"/><stop offset="0.108" stop-color="#ffba00"/><stop offset="0.189" stop-color="#ffb300"/><stop offset="0.64" stop-color="#ffb600"/><stop offset="0.73" stop-color="#ffb800"/><stop offset="0.82" stop-color="#ffa500"/><stop offset="0.964" stop-color="#ffbf00"/><stop offset="1" stop-color="#ffc100"/></linearGradient>
<linearGradient id="g222" gradientUnits="userSpaceOnUse" x1="0" y1="34" x2="0" y2="700"><stop offset="0" stop-color="#ffbe00"/><stop offset="0.108" stop-color="#ffba00"/><stop offset="0.189" stop-color="#ffb300"/><stop offset="0.64" stop-color="#ffb700"/><stop offset="0.721" stop-color="#ffb700"/><stop offset="0.811" stop-color="#ff9f00"/><stop offset="0.865" stop-color="#ffa700"/><stop offset="0.946" stop-color="#ffbd00"/><stop offset="1" stop-color="#ffc100"/></linearGradient>
<linearGradient id="g223" gradientUnits="userSpaceOnUse" x1="0" y1="34" x2="0" y2="700"><stop offset="0" stop-color="#ffbe00"/><stop offset="0.108" stop-color="#ffbb00"/><stop offset="0.189" stop-color="#ffb300"/><stop offset="0.64" stop-color="#ffb700"/><stop offset="0.721" stop-color="#ffb600"/><stop offset="0.811" stop-color="#ff9a00"/><stop offset="0.856" stop-color="#ffa000"/><stop offset="0.946" stop-color="#ffbd00"/><stop offset="1" stop-color="#ffc100"/></linearGradient>
<linearGradient id="g224" gradientUnits="userSpaceOnUse" x1="0" y1="34" x2="0" y2="700"><stop offset="0" stop-color="#ffbe00"/><stop offset="0.108" stop-color="#ffbb00"/><stop offset="0.189" stop-color="#ffb300"/><stop offset="0.64" stop-color="#ffb700"/><stop offset="0.721" stop-color="#ffb600"/><stop offset="0.811" stop-color="#ff9800"/><stop offset="0.856" stop-color="#ff9f00"/><stop offset="0.937" stop-color="#ffbb00"/><stop offset="1" stop-color="#ffc100"/></linearGradient>
<linearGradient id="g225" gradientUnits="userSpaceOnUse" x1="0" y1="34" x2="0" y2="700"><stop offset="0" stop-color="#ffbe00"/><stop offset="0.108" stop-color="#ffbb00"/><stop offset="0.189" stop-color="#ffb300"/><stop offset="0.64" stop-color="#ffb800"/><stop offset="0.721" stop-color="#ffb700"/><stop offset="0.811" stop-color="#ff9b00"/><stop offset="0.856" stop-color="#ffa100"/><stop offset="0.946" stop-color="#ffbd00"/><stop offset="1" stop-color="#ffc100"/></linearGradient>
<linearGradient id="g226" gradientUnits="userSpaceOnUse" x1="0" y1="34" x2="0" y2="700"><stop offset="0" stop-color="#ffbf00"/><stop offset="0.108" stop-color="#ffbb00"/><stop offset="0.189" stop-color="#ffb300"/><stop offset="0.64" stop-color="#ffb800"/><stop offset="0.721" stop-color="#ffb900"/><stop offset="0.811" stop-color="#ffa100"/><stop offset="0.865" stop-color="#ffa900"/><stop offset="0.946" stop-color="#ffbe00"/><stop offset="1" stop-color="#ffc100"/></linearGradient>
<linearGradient id="g227" gradientUnits="userSpaceOnUse" x1="0" y1="34" x2="0" y2="700"><stop offset="0" stop-color="#ffbf00"/><stop offset="0.108" stop-color="#ffbb00"/><stop offset="0.189" stop-color="#ffb300"/><stop offset="0.64" stop-color="#ffb900"/><stop offset="0.73" stop-color="#ffbb00"/><stop offset="0.82" stop-color="#ffa900"/><stop offset="0.964" stop-color="#ffc000"/><stop offset="1" stop-color="#ffc100"/></linearGradient>
<linearGradient id="g228" gradientUnits="userSpaceOnUse" x1="0" y1="34" x2="0" y2="700"><stop offset="0" stop-color="#ffbf00"/><stop offset="0.108" stop-color="#ffbb00"/><stop offset="0.189" stop-color="#ffb300"/><stop offset="0.631" stop-color="#ffb800"/><stop offset="0.73" stop-color="#ffbe00"/><stop offset="0.829" stop-color="#ffb100"/><stop offset="0.982" stop-color="#ffc100"/><stop offset="1" stop-color="#ffc200"/></linearGradient>
<linearGradient id="g229" gradientUnits="userSpaceOnUse" x1="0" y1="34" x2="0" y2="700"><stop offset="0" stop-color="#ffbf00"/><stop offset="0.108" stop-color="#ffbb00"/><stop offset="0.189" stop-color="#ffb400"/><stop offset="0.631" stop-color="#ffb900"/><stop offset="0.739" stop-color="#ffc000"/><stop offset="0.847" stop-color="#ffb900"/><stop offset="1" stop-color="#ffc200"/></linearGradient>
<linearGradient id="g230" gradientUnits="userSpaceOnUse" x1="0" y1="34" x2="0" y2="700"><stop offset="0" stop-color="#ffbf00"/><stop offset="0.108" stop-color="#ffbb00"/><stop offset="0.189" stop-color="#ffb400"/><stop offset="0.631" stop-color="#ffb900"/><stop offset="0.748" stop-color="#ffc200"/><stop offset="0.883" stop-color="#ffc000"/><stop offset="1" stop-color="#ffc200"/></linearGradient>
<linearGradient id="g231" gradientUnits="userSpaceOnUse" x1="0" y1="34" x2="0" y2="700"><stop offset="0" stop-color="#ffbf00"/><stop offset="0.108" stop-color="#ffbb00"/><stop offset="0.189" stop-color="#ffb400"/><stop offset="0.631" stop-color="#ffba00"/><stop offset="0.748" stop-color="#ffc400"/><stop offset="1" stop-color="#ffc200"/></linearGradient>
<linearGradient id="g232" gradientUnits="userSpaceOnUse" x1="0" y1="34" x2="0" y2="700"><stop offset="0" stop-color="#ffbf00"/><stop offset="0.108" stop-color="#ffbc00"/><stop offset="0.189" stop-color="#ffb400"/><stop offset="0.631" stop-color="#ffbb00"/><stop offset="0.757" stop-color="#ffc600"/><stop offset="1" stop-color="#ffc200"/></linearGradient>
<linearGradient id="g233" gradientUnits="userSpaceOnUse" x1="0" y1="34" x2="0" y2="700"><stop offset="0" stop-color="#ffbf00"/><stop offset="0.108" stop-color="#ffbc00"/><stop offset="0.189" stop-color="#ffb400"/><stop offset="0.631" stop-color="#ffbc00"/><stop offset="0.757" stop-color="#ffc700"/><stop offset="1" stop-color="#ffc200"/></linearGradient>
<linearGradient id="g234" gradientUnits="userSpaceOnUse" x1="0" y1="34" x2="0" y2="700"><stop offset="0" stop-color="#ffbf00"/><stop offset="0.108" stop-color="#ffbc00"/><stop offset="0.189" stop-color="#ffb400"/><stop offset="0.622" stop-color="#ffbb00"/><stop offset="0.757" stop-color="#ffc800"/><stop offset="1" stop-color="#ffc300"/></linearGradient>
<linearGradient id="g235" gradientUnits="userSpaceOnUse" x1="0" y1="34" x2="0" y2="700"><stop offset="0" stop-color="#ffbf00"/><stop offset="0.108" stop-color="#ffbc00"/><stop offset="0.189" stop-color="#ffb400"/><stop offset="0.622" stop-color="#ffbc00"/><stop offset="0.757" stop-color="#ffc900"/><stop offset="1" stop-color="#ffc300"/></linearGradient>
<linearGradient id="g236" gradientUnits="userSpaceOnUse" x1="0" y1="34" x2="0" y2="700"><stop offset="0" stop-color="#ffc000"/><stop offset="0.108" stop-color="#ffbc00"/><stop offset="0.189" stop-color="#ffb400"/><stop offset="0.613" stop-color="#ffbc00"/><stop offset="0.757" stop-color="#ffc900"/><stop offset="1" stop-color="#ffc200"/></linearGradient>
<linearGradient id="g237" gradientUnits="userSpaceOnUse" x1="0" y1="34" x2="0" y2="700"><stop offset="0" stop-color="#ffc000"/><stop offset="0.108" stop-color="#ffbc00"/><stop offset="0.189" stop-color="#ffb400"/><stop offset="0.613" stop-color="#ffbd00"/><stop offset="0.766" stop-color="#ffc900"/><stop offset="1" stop-color="#ffc100"/></linearGradient>
<linearGradient id="g238" gradientUnits="userSpaceOnUse" x1="0" y1="34" x2="0" y2="700"><stop offset="0" stop-color="#ffc000"/><stop offset="0.108" stop-color="#ffbc00"/><stop offset="0.189" stop-color="#ffb400"/><stop offset="0.604" stop-color="#ffbd00"/><stop offset="0.766" stop-color="#ffc900"/><stop offset="1" stop-color="#ffc000"/></linearGradient>
<linearGradient id="g239" gradientUnits="userSpaceOnUse" x1="0" y1="34" x2="0" y2="700"><stop offset="0" stop-color="#ffc000"/><stop offset="0.108" stop-color="#ffbc00"/><stop offset="0.189" stop-color="#ffb400"/><stop offset="0.559" stop-color="#ffbd00"/><stop offset="0.784" stop-color="#ffc900"/><stop offset="1" stop-color="#ffbf00"/></linearGradient>
<linearGradient id="g240" gradientUnits="userSpaceOnUse" x1="0" y1="34" x2="0" y2="700"><stop offset="0" stop-color="#ffc000"/><stop offset="0.108" stop-color="#ffbc00"/><stop offset="0.189" stop-color="#ffb500"/><stop offset="0.541" stop-color="#ffbd00"/><stop offset="0.793" stop-color="#ffc900"/><stop offset="1" stop-color="#ffbe00"/></linearGradient>
<linearGradient id="g241" gradientUnits="userSpaceOnUse" x1="0" y1="34" x2="0" y2="700"><stop offset="0" stop-color="#ffc000"/><stop offset="0.108" stop-color="#ffbc00"/><stop offset="0.189" stop-color="#ffb500"/><stop offset="0.523" stop-color="#ffbc00"/><stop offset="0.802" stop-color="#ffc900"/><stop offset="1" stop-color="#ffbd00"/></linearGradient>
<linearGradient id="g242" gradientUnits="userSpaceOnUse" x1="0" y1="34" x2="0" y2="700"><stop offset="0" stop-color="#ffc000"/><stop offset="0.108" stop-color="#ffbc00"/><stop offset="0.189" stop-color="#ffb500"/><stop offset="0.514" stop-color="#ffbc00"/><stop offset="0.811" stop-color="#ffc900"/><stop offset="1" stop-color="#ffbc00"/></linearGradient>
<linearGradient id="g243" gradientUnits="userSpaceOnUse" x1="0" y1="34" x2="0" y2="700"><stop offset="0" stop-color="#ffc000"/><stop offset="0.108" stop-color="#ffbc00"/><stop offset="0.189" stop-color="#ffb500"/><stop offset="0.505" stop-color="#ffbc00"/><stop offset="0.82" stop-color="#ffc900"/><stop offset="1" stop-color="#ffbb00"/></linearGradient>
<linearGradient id="g244" gradientUnits="userSpaceOnUse" x1="0" y1="34" x2="0" y2="700"><stop offset="0" stop-color="#ffc000"/><stop offset="0.108" stop-color="#ffbc00"/><stop offset="0.198" stop-color="#ffb500"/><stop offset="0.505" stop-color="#ffbd00"/><stop offset="0.829" stop-color="#ffc900"/><stop offset="1" stop-color="#ffba00"/></linearGradient>
<linearGradient id="g245" gradientUnits="userSpaceOnUse" x1="0" y1="34" x2="0" y2="700"><stop offset="0" stop-color="#ffbf00"/><stop offset="0.108" stop-color="#ffbc00"/><stop offset="0.198" stop-color="#ffb500"/><stop offset="0.495" stop-color="#ffbd00"/><stop offset="0.829" stop-color="#ffca00"/><stop offset="1" stop-color="#ffb900"/></linearGradient>
<linearGradient id="g246" gradientUnits="userSpaceOnUse" x1="0" y1="34" x2="0" y2="700"><stop offset="0" stop-color="#ffbe00"/><stop offset="0.117" stop-color="#ffba00"/><stop offset="0.216" stop-color="#ffb500"/><stop offset="0.505" stop-color="#ffbe00"/><stop offset="0.829" stop-color="#ffca00"/><stop offset="1" stop-color="#ffb800"/></linearGradient>
<linearGradient id="g247" gradientUnits="userSpaceOnUse" x1="0" y1="34" x2="0" y2="700"><stop offset="0" stop-color="#ffbe00"/><stop offset="0.117" stop-color="#ffba00"/><stop offset="0.234" stop-color="#ffb500"/><stop offset="0.505" stop-color="#ffbe00"/><stop offset="0.829" stop-color="#ffca00"/><stop offset="1" stop-color="#ffb700"/></linearGradient>
<linearGradient id="g248" gradientUnits="userSpaceOnUse" x1="0" y1="34" x2="0" y2="700"><stop offset="0" stop-color="#ffbd00"/><stop offset="0.126" stop-color="#ffb900"/><stop offset="0.333" stop-color="#ffb600"/><stop offset="0.82" stop-color="#ffcc00"/><stop offset="1" stop-color="#ffb700"/></linearGradient>
<linearGradient id="g249" gradientUnits="userSpaceOnUse" x1="0" y1="34" x2="0" y2="700"><stop offset="0" stop-color="#ffbc00"/><stop offset="0.135" stop-color="#ffb800"/><stop offset="0.432" stop-color="#ffba00"/><stop offset="0.811" stop-color="#ffcd00"/><stop offset="0.919" stop-color="#ffbf00"/><stop offset="1" stop-color="#ffb700"/></linearGradient>
<linearGradient id="g250" gradientUnits="userSpaceOnUse" x1="0" y1="34" x2="0" y2="700"><stop offset="0" stop-color="#ffbc00"/><stop offset="0.144" stop-color="#ffb700"/><stop offset="0.45" stop-color="#ffbb00"/><stop offset="0.829" stop-color="#ffce00"/><stop offset="1" stop-color="#ffb700"/></linearGradient>
<linearGradient id="g251" gradientUnits="userSpaceOnUse" x1="0" y1="34" x2="0" y2="700"><stop offset="0" stop-color="#ffbb00"/><stop offset="0.306" stop-color="#ffb600"/><stop offset="0.838" stop-color="#ffcf00"/><stop offset="0.991" stop-color="#ffb700"/><stop offset="1" stop-color="#ffb700"/></linearGradient>
<linearGradient id="g252" gradientUnits="userSpaceOnUse" x1="0" y1="34" x2="0" y2="700"><stop offset="0" stop-color="#ffbb00"/><stop offset="0.333" stop-color="#ffb600"/><stop offset="0.838" stop-color="#ffd000"/><stop offset="0.991" stop-color="#ffb800"/><stop offset="1" stop-color="#ffb700"/></linearGradient>
<linearGradient id="g253" gradientUnits="userSpaceOnUse" x1="0" y1="34" x2="0" y2="700"><stop offset="0" stop-color="#ffba00"/><stop offset="0.36" stop-color="#ffb700"/><stop offset="0.838" stop-color="#ffd000"/><stop offset="0.991" stop-color="#ffb800"/><stop offset="1" stop-color="#ffb700"/></linearGradient>
<linearGradient id="g254" gradientUnits="userSpaceOnUse" x1="0" y1="34" x2="0" y2="700"><stop offset="0" stop-color="#ffb900"/><stop offset="0.387" stop-color="#ffb800"/><stop offset="0.784" stop-color="#ffd000"/><stop offset="0.856" stop-color="#ffcf00"/><stop offset="0.991" stop-color="#ffb800"/><stop offset="1" stop-color="#ffb700"/></linearGradient>
<linearGradient id="g255" gradientUnits="userSpaceOnUse" x1="0" y1="34" x2="0" y2="700"><stop offset="0" stop-color="#ffb900"/><stop offset="0.423" stop-color="#ffb900"/><stop offset="0.775" stop-color="#ffcf00"/><stop offset="0.847" stop-color="#ffd100"/><stop offset="0.991" stop-color="#ffb800"/><stop offset="1" stop-color="#ffb700"/></linearGradient>
<linearGradient id="g256" gradientUnits="userSpaceOnUse" x1="0" y1="34" x2="0" y2="700"><stop offset="0" stop-color="#ffb800"/><stop offset="0.432" stop-color="#ffb900"/><stop offset="0.766" stop-color="#ffce00"/><stop offset="0.847" stop-color="#ffd100"/><stop offset="0.991" stop-color="#ffb800"/><stop offset="1" stop-color="#ffb800"/></linearGradient>
<linearGradient id="g257" gradientUnits="userSpaceOnUse" x1="0" y1="34" x2="0" y2="700"><stop offset="0" stop-color="#ffb700"/><stop offset="0.45" stop-color="#ffb900"/><stop offset="0.766" stop-color="#ffce00"/><stop offset="0.847" stop-color="#ffd100"/><stop offset="0.991" stop-color="#ffb800"/><stop offset="1" stop-color="#ffb800"/></linearGradient>
<linearGradient id="g258" gradientUnits="userSpaceOnUse" x1="0" y1="34" x2="0" y2="700"><stop offset="0" stop-color="#ffb700"/><stop offset="0.459" stop-color="#ffb900"/><stop offset="0.757" stop-color="#ffcc00"/><stop offset="0.838" stop-color="#ffd200"/><stop offset="0.991" stop-color="#ffb800"/><stop offset="1" stop-color="#ffb800"/></linearGradient>
<linearGradient id="g259" gradientUnits="userSpaceOnUse" x1="0" y1="34" x2="0" y2="700"><stop offset="0" stop-color="#ffb600"/><stop offset="0.468" stop-color="#ffb900"/><stop offset="0.757" stop-color="#ffcc00"/><stop offset="0.838" stop-color="#ffd200"/><stop offset="0.991" stop-color="#ffb800"/><stop offset="1" stop-color="#ffb800"/></linearGradient>
<linearGradient id="g260" gradientUnits="userSpaceOnUse" x1="0" y1="34" x2="0" y2="700"><stop offset="0" stop-color="#ffb600"/><stop offset="0.468" stop-color="#ffb800"/><stop offset="0.757" stop-color="#ffcb00"/><stop offset="0.838" stop-color="#ffd200"/><stop offset="0.991" stop-color="#ffb800"/><stop offset="1" stop-color="#ffb800"/></linearGradient>
<linearGradient id="g261" gradientUnits="userSpaceOnUse" x1="0" y1="34" x2="0" y2="700"><stop offset="0" stop-color="#ffb600"/><stop offset="0.468" stop-color="#ffb700"/><stop offset="0.757" stop-color="#ffca00"/><stop offset="0.838" stop-color="#ffd100"/><stop offset="0.991" stop-color="#ffb800"/><stop offset="1" stop-color="#ffb700"/></linearGradient>
<linearGradient id="g262" gradientUnits="userSpaceOnUse" x1="0" y1="34" x2="0" y2="700"><stop offset="0" stop-color="#ffb600"/><stop offset="0.468" stop-color="#ffb500"/><stop offset="0.757" stop-color="#ffc900"/><stop offset="0.838" stop-color="#ffd000"/><stop offset="0.991" stop-color="#ffb800"/><stop offset="1" stop-color="#ffb700"/></linearGradient>
<linearGradient id="g263" gradientUnits="userSpaceOnUse" x1="0" y1="34" x2="0" y2="700"><stop offset="0" stop-color="#ffb500"/><stop offset="0.468" stop-color="#ffb400"/><stop offset="0.757" stop-color="#ffc800"/><stop offset="0.838" stop-color="#ffcf00"/><stop offset="0.991" stop-color="#ffb800"/><stop offset="1" stop-color="#ffb800"/></linearGradient>
<linearGradient id="g264" gradientUnits="userSpaceOnUse" x1="0" y1="34" x2="0" y2="700"><stop offset="0" stop-color="#ffb500"/><stop offset="0.459" stop-color="#ffb200"/><stop offset="0.757" stop-color="#ffc700"/><stop offset="0.847" stop-color="#ffcd00"/><stop offset="0.982" stop-color="#ffb800"/><stop offset="1" stop-color="#ffb900"/></linearGradient>
<linearGradient id="g265" gradientUnits="userSpaceOnUse" x1="0" y1="34" x2="0" y2="700"><stop offset="0" stop-color="#ffb500"/><stop offset="0.459" stop-color="#ffb000"/><stop offset="0.766" stop-color="#ffc700"/><stop offset="0.847" stop-color="#ffcc00"/><stop offset="0.973" stop-color="#ffb900"/><stop offset="1" stop-color="#ffbb00"/></linearGradient>
<linearGradient id="g266" gradientUnits="userSpaceOnUse" x1="0" y1="34" x2="0" y2="700"><stop offset="0" stop-color="#ffb500"/><stop offset="0.459" stop-color="#ffae00"/><stop offset="0.775" stop-color="#ffc700"/><stop offset="0.856" stop-color="#ffca00"/><stop offset="0.973" stop-color="#ffba00"/><stop offset="1" stop-color="#ffc000"/></linearGradient>
<linearGradient id="g267" gradientUnits="userSpaceOnUse" x1="0" y1="34" x2="0" y2="700"><stop offset="0" stop-color="#ffb400"/><stop offset="0.315" stop-color="#ffad00"/><stop offset="0.477" stop-color="#ffad00"/><stop offset="0.838" stop-color="#ffca00"/><stop offset="0.964" stop-color="#ffbb00"/><stop offset="1" stop-color="#ffc700"/></linearGradient>
<linearGradient id="g268" gradientUnits="userSpaceOnUse" x1="0" y1="34" x2="0" y2="700"><stop offset="0" stop-color="#ffb400"/><stop offset="0.288" stop-color="#ffad00"/><stop offset="0.45" stop-color="#ffa900"/><stop offset="0.838" stop-color="#ffc800"/><stop offset="0.955" stop-color="#ffbc00"/><stop offset="0.991" stop-color="#ffca00"/><stop offset="1" stop-color="#ffd100"/></linearGradient>
<linearGradient id="g269" gradientUnits="userSpaceOnUse" x1="0" y1="34" x2="0" y2="700"><stop offset="0" stop-color="#ffb400"/><stop offset="0.27" stop-color="#ffad00"/><stop offset="0.441" stop-color="#ffa600"/><stop offset="0.838" stop-color="#ffc700"/><stop offset="0.946" stop-color="#ffbe00"/><stop offset="0.982" stop-color="#ffce00"/><stop offset="1" stop-color="#ffdf00"/></linearGradient>
<linearGradient id="g270" gradientUnits="userSpaceOnUse" x1="0" y1="34" x2="0" y2="700"><stop offset="0" stop-color="#ffb400"/><stop offset="0.261" stop-color="#ffad00"/><stop offset="0.432" stop-color="#ffa400"/><stop offset="0.838" stop-color="#ffc500"/><stop offset="0.928" stop-color="#ffbf00"/><stop offset="0.964" stop-color="#ffcc00"/><stop offset="1" stop-color="#ffee00"/></linearGradient>
<linearGradient id="g271" gradientUnits="userSpaceOnUse" x1="0" y1="34" x2="0" y2="700"><stop offset="0" stop-color="#ffb300"/><stop offset="0.252" stop-color="#ffad00"/><stop offset="0.423" stop-color="#ffa100"/><stop offset="0.829" stop-color="#ffc400"/><stop offset="0.919" stop-color="#ffc000"/><stop offset="0.955" stop-color="#ffd000"/><stop offset="1" stop-color="#fffa00"/></linearGradient>
<linearGradient id="g272" gradientUnits="userSpaceOnUse" x1="0" y1="34" x2="0" y2="700"><stop offset="0" stop-color="#ffb300"/><stop offset="0.243" stop-color="#ffad00"/><stop offset="0.423" stop-color="#ffa000"/><stop offset="0.802" stop-color="#ffc200"/><stop offset="0.91" stop-color="#ffc200"/><stop offset="0.946" stop-color="#ffd500"/><stop offset="0.982" stop-color="#fff800"/><stop offset="1" stop-color="#ffff00"/></linearGradient>
<linearGradient id="g273" gradientUnits="userSpaceOnUse" x1="0" y1="34" x2="0" y2="700"><stop offset="0" stop-color="#ffb400"/><stop offset="0.243" stop-color="#ffad00"/><stop offset="0.414" stop-color="#ff9e00"/><stop offset="0.766" stop-color="#ffbf00"/><stop offset="0.901" stop-color="#ffc500"/><stop offset="0.937" stop-color="#ffda00"/><stop offset="0.973" stop-color="#fffb00"/><stop offset="1" stop-color="#f8ff00"/></linearGradient>
<linearGradient id="g274" gradientUnits="userSpaceOnUse" x1="0" y1="34" x2="0" y2="700"><stop offset="0" stop-color="#ffb400"/><stop offset="0.234" stop-color="#ffad00"/><stop offset="0.414" stop-color="#ff9d00"/><stop offset="0.577" stop-color="#ffaf00"/><stop offset="0.883" stop-color="#ffc500"/><stop offset="0.919" stop-color="#ffd800"/><stop offset="0.955" stop-color="#fff900"/><stop offset="0.973" stop-color="#fdff00"/><stop offset="0.991" stop-color="#f8ff00"/><stop offset="1" stop-color="#fdff00"/></linearGradient>
<linearGradient id="g275" gradientUnits="userSpaceOnUse" x1="0" y1="34" x2="0" y2="700"><stop offset="0" stop-color="#ffb400"/><stop offset="0.234" stop-color="#ffad00"/><stop offset="0.414" stop-color="#ff9c00"/><stop offset="0.568" stop-color="#ffad00"/><stop offset="0.811" stop-color="#ffc000"/><stop offset="0.874" stop-color="#ffc700"/><stop offset="0.91" stop-color="#ffdd00"/><stop offset="0.937" stop-color="#fff700"/><stop offset="0.955" stop-color="#ffff00"/><stop offset="0.973" stop-color="#f6ff00"/><stop offset="0.991" stop-color="#fffe00"/><stop offset="1" stop-color="#fffb00"/></linearGradient>
<linearGradient id="g276" gradientUnits="userSpaceOnUse" x1="0" y1="34" x2="0" y2="700"><stop offset="0" stop-color="#ffb400"/><stop offset="0.234" stop-color="#ffad00"/><stop offset="0.414" stop-color="#ff9b00"/><stop offset="0.559" stop-color="#ffac00"/><stop offset="0.748" stop-color="#ffbd00"/><stop offset="0.856" stop-color="#ffc600"/><stop offset="0.892" stop-color="#ffda00"/><stop offset="0.928" stop-color="#fffa00"/><stop offset="0.946" stop-color="#faff00"/><stop offset="0.964" stop-color="#f6ff00"/><stop offset="0.982" stop-color="#fffd00"/><stop offset="1" stop-color="#fff000"/></linearGradient>
<linearGradient id="g277" gradientUnits="userSpaceOnUse" x1="0" y1="34" x2="0" y2="700"><stop offset="0" stop-color="#ffb400"/><stop offset="0.234" stop-color="#ffad00"/><stop offset="0.414" stop-color="#ff9b00"/><stop offset="0.55" stop-color="#ffaa00"/><stop offset="0.712" stop-color="#ffbb00"/><stop offset="0.838" stop-color="#ffc500"/><stop offset="0.874" stop-color="#ffd700"/><stop offset="0.91" stop-color="#fff900"/><stop offset="0.928" stop-color="#fcff00"/><stop offset="0.946" stop-color="#f3ff00"/><stop offset="0.964" stop-color="#fffe00"/><stop offset="0.982" stop-color="#fff500"/><stop offset="1" stop-color="#ffe100"/></linearGradient>
<linearGradient id="g278" gradientUnits="userSpaceOnUse" x1="0" y1="34" x2="0" y2="700"><stop offset="0" stop-color="#ffb400"/><stop offset="0.234" stop-color="#ffad00"/><stop offset="0.414" stop-color="#ff9b00"/><stop offset="0.55" stop-color="#ffab00"/><stop offset="0.712" stop-color="#ffbb00"/><stop offset="0.82" stop-color="#ffc400"/><stop offset="0.856" stop-color="#ffd500"/><stop offset="0.901" stop-color="#fffb00"/><stop offset="0.91" stop-color="#ffff00"/><stop offset="0.928" stop-color="#f2ff00"/><stop offset="0.955" stop-color="#fffd00"/><stop offset="0.973" stop-color="#fff000"/><stop offset="1" stop-color="#ffd300"/></linearGradient>
<linearGradient id="g279" gradientUnits="userSpaceOnUse" x1="0" y1="34" x2="0" y2="700"><stop offset="0" stop-color="#ffb400"/><stop offset="0.234" stop-color="#ffad00"/><stop offset="0.414" stop-color="#ff9c00"/><stop offset="0.55" stop-color="#ffab00"/><stop offset="0.712" stop-color="#ffbc00"/><stop offset="0.802" stop-color="#ffc300"/><stop offset="0.838" stop-color="#ffd200"/><stop offset="0.883" stop-color="#fffa00"/><stop offset="0.892" stop-color="#fffe00"/><stop offset="0.91" stop-color="#f2ff00"/><stop offset="0.928" stop-color="#f5ff00"/><stop offset="0.937" stop-color="#ffff00"/><stop offset="0.955" stop-color="#fff500"/><stop offset="1" stop-color="#ffc800"/></linearGradient>
<linearGradient id="g280" gradientUnits="userSpaceOnUse" x1="0" y1="34" x2="0" y2="700"><stop offset="0" stop-color="#ffb400"/><stop offset="0.234" stop-color="#ffae00"/><stop offset="0.414" stop-color="#ff9d00"/><stop offset="0.559" stop-color="#ffad00"/><stop offset="0.712" stop-color="#ffbc00"/><stop offset="0.784" stop-color="#ffc300"/><stop offset="0.829" stop-color="#ffd700"/><stop offset="0.865" stop-color="#fff800"/><stop offset="0.883" stop-color="#fcff00"/><stop offset="0.901" stop-color="#efff00"/><stop offset="0.919" stop-color="#f9ff00"/><stop offset="0.928" stop-color="#fffd00"/><stop offset="0.946" stop-color="#fff000"/><stop offset="0.982" stop-color="#ffcb00"/><stop offset="1" stop-color="#ffc000"/></linearGradient>
<linearGradient id="g281" gradientUnits="userSpaceOnUse" x1="0" y1="34" x2="0" y2="700"><stop offset="0" stop-color="#ffb400"/><stop offset="0.243" stop-color="#ffad00"/><stop offset="0.414" stop-color="#ff9e00"/><stop offset="0.559" stop-color="#ffae00"/><stop offset="0.721" stop-color="#ffbd00"/><stop offset="0.775" stop-color="#ffc400"/><stop offset="0.829" stop-color="#ffe400"/><stop offset="0.856" stop-color="#fffb00"/><stop offset="0.865" stop-color="#ffff00"/><stop offset="0.883" stop-color="#efff00"/><stop offset="0.901" stop-color="#f3ff00"/><stop offset="0.91" stop-color="#feff00"/><stop offset="0.928" stop-color="#fff500"/><stop offset="0.973" stop-color="#ffc800"/><stop offset="1" stop-color="#ffbb00"/></linearGradient>
<linearGradient id="g282" gradientUnits="userSpaceOnUse" x1="0" y1="34" x2="0" y2="700"><stop offset="0" stop-color="#ffb400"/><stop offset="0.243" stop-color="#ffae00"/><stop offset="0.423" stop-color="#ffa000"/><stop offset="0.703" stop-color="#ffbe00"/><stop offset="0.766" stop-color="#ffc600"/><stop offset="0.811" stop-color="#ffe600"/><stop offset="0.847" stop-color="#fffd00"/><stop offset="0.865" stop-color="#efff00"/><stop offset="0.883" stop-color="#efff00"/><stop offset="0.901" stop-color="#fffe00"/><stop offset="0.919" stop-color="#fff100"/><stop offset="0.955" stop-color="#ffcc00"/><stop offset="0.991" stop-color="#ffba00"/><stop offset="1" stop-color="#ffb800"/></linearGradient>
<linearGradient id="g283" gradientUnits="userSpaceOnUse" x1="0" y1="34" x2="0" y2="700"><stop offset="0" stop-color="#ffb500"/><stop offset="0.252" stop-color="#ffae00"/><stop offset="0.423" stop-color="#ffa200"/><stop offset="0.748" stop-color="#ffc500"/><stop offset="0.775" stop-color="#ffd400"/><stop offset="0.811" stop-color="#fff700"/><stop offset="0.838" stop-color="#fcff00"/><stop offset="0.856" stop-color="#ecff00"/><stop offset="0.874" stop-color="#f1ff00"/><stop offset="0.883" stop-color="#fcff00"/><stop offset="0.901" stop-color="#fff600"/><stop offset="0.946" stop-color="#ffc900"/><stop offset="0.982" stop-color="#ffb900"/><stop offset="1" stop-color="#ffb700"/></linearGradient>
<linearGradient id="g284" gradientUnits="userSpaceOnUse" x1="0" y1="34" x2="0" y2="700"><stop offset="0" stop-color="#ffb500"/><stop offset="0.261" stop-color="#ffae00"/><stop offset="0.432" stop-color="#ffa400"/><stop offset="0.73" stop-color="#ffc500"/><stop offset="0.757" stop-color="#ffd200"/><stop offset="0.793" stop-color="#fff900"/><stop offset="0.802" stop-color="#fffd00"/><stop offset="0.82" stop-color="#efff00"/><stop offset="0.847" stop-color="#e9ff00"/><stop offset="0.865" stop-color="#f5ff00"/><stop offset="0.874" stop-color="#fffe00"/><stop offset="0.892" stop-color="#fff100"/><stop offset="0.928" stop-color="#ffcc00"/><stop offset="0.964" stop-color="#ffbb00"/><stop offset="1" stop-color="#ffb600"/></linearGradient>
<linearGradient id="g285" gradientUnits="userSpaceOnUse" x1="0" y1="34" x2="0" y2="700"><stop offset="0" stop-color="#ffb500"/><stop offset="0.27" stop-color="#ffae00"/><stop offset="0.441" stop-color="#ffa600"/><stop offset="0.721" stop-color="#ffc700"/><stop offset="0.748" stop-color="#ffd600"/><stop offset="0.784" stop-color="#fffd00"/><stop offset="0.802" stop-color="#e1ff00"/><stop offset="0.811" stop-color="#d9ff00"/><stop offset="0.82" stop-color="#d9ff00"/><stop offset="0.847" stop-color="#efff00"/><stop offset="0.856" stop-color="#faff00"/><stop offset="0.874" stop-color="#fff700"/><stop offset="0.919" stop-color="#ffc900"/><stop offset="0.955" stop-color="#ffba00"/><stop offset="1" stop-color="#ffb600"/></linearGradient>
<linearGradient id="g286" gradientUnits="userSpaceOnUse" x1="0" y1="34" x2="0" y2="700"><stop offset="0" stop-color="#ffb500"/><stop offset="0.288" stop-color="#ffae00"/><stop offset="0.45" stop-color="#ffa900"/><stop offset="0.703" stop-color="#ffc600"/><stop offset="0.73" stop-color="#ffd400"/><stop offset="0.766" stop-color="#fffb00"/><stop offset="0.775" stop-color="#f6ff00"/><stop offset="0.784" stop-color="#dcff00"/><stop offset="0.793" stop-color="#c9ff00"/><stop offset="0.802" stop-color="#c3ff00"/><stop offset="0.811" stop-color="#c6ff00"/><stop offset="0.82" stop-color="#d0ff00"/><stop offset="0.847" stop-color="#ffff00"/><stop offset="0.865" stop-color="#fff200"/><stop offset="0.901" stop-color="#ffcd00"/><stop offset="0.937" stop-color="#ffbc00"/><stop offset="1" stop-color="#ffb700"/></linearGradient>
<linearGradient id="g287" gradientUnits="userSpaceOnUse" x1="0" y1="34" x2="0" y2="700"><stop offset="0" stop-color="#ffb500"/><stop offset="0.306" stop-color="#ffae00"/><stop offset="0.468" stop-color="#ffac00"/><stop offset="0.685" stop-color="#ffc600"/><stop offset="0.721" stop-color="#ffd900"/><stop offset="0.757" stop-color="#ffff00"/><stop offset="0.784" stop-color="#b9ff00"/><stop offset="0.793" stop-color="#aeff00"/><stop offset="0.802" stop-color="#b4ff00"/><stop offset="0.811" stop-color="#c2ff00"/><stop offset="0.829" stop-color="#efff00"/><stop offset="0.838" stop-color="#fffd00"/><stop offset="0.856" stop-color="#ffee00"/><stop offset="0.892" stop-color="#ffcb00"/><stop offset="0.928" stop-color="#ffbb00"/><stop offset="1" stop-color="#ffb700"/></linearGradient>
<linearGradient id="g288" gradientUnits="userSpaceOnUse" x1="0" y1="34" x2="0" y2="700"><stop offset="0" stop-color="#ffb500"/><stop offset="0.324" stop-color="#ffae00"/><stop offset="0.486" stop-color="#ffaf00"/><stop offset="0.676" stop-color="#ffc700"/><stop offset="0.712" stop-color="#ffde00"/><stop offset="0.739" stop-color="#fffc00"/><stop offset="0.748" stop-color="#f0ff00"/><stop offset="0.766" stop-color="#c0ff00"/><stop offset="0.775" stop-color="#aeff00"/><stop offset="0.784" stop-color="#a3ff00"/><stop offset="0.793" stop-color="#a3ff00"/><stop offset="0.802" stop-color="#b5ff00"/><stop offset="0.82" stop-color="#eaff00"/><stop offset="0.829" stop-color="#fffd00"/><stop offset="0.874" stop-color="#ffcf00"/><stop offset="0.91" stop-color="#ffbd00"/><stop offset="1" stop-color="#ffb700"/></linearGradient>
<linearGradient id="g289" gradientUnits="userSpaceOnUse" x1="0" y1="34" x2="0" y2="700"><stop offset="0" stop-color="#ffb500"/><stop offset="0.468" stop-color="#ffaf00"/><stop offset="0.667" stop-color="#ffc800"/><stop offset="0.694" stop-color="#ffdc00"/><stop offset="0.721" stop-color="#fffa00"/><stop offset="0.73" stop-color="#faff00"/><stop offset="0.757" stop-color="#b4ff00"/><stop offset="0.766" stop-color="#a5ff00"/><stop offset="0.775" stop-color="#9eff00"/><stop offset="0.784" stop-color="#9eff00"/><stop offset="0.793" stop-color="#acff00"/><stop offset="0.811" stop-color="#e7ff00"/><stop offset="0.82" stop-color="#fffd00"/><stop offset="0.856" stop-color="#ffd300"/><stop offset="0.892" stop-color="#ffbf00"/><stop offset="0.982" stop-color="#ffb800"/><stop offset="1" stop-color="#ffb800"/></linearGradient>
<linearGradient id="g290" gradientUnits="userSpaceOnUse" x1="0" y1="34" x2="0" y2="700"><stop offset="0" stop-color="#ffb500"/><stop offset="0.468" stop-color="#ffb100"/><stop offset="0.658" stop-color="#ffc800"/><stop offset="0.676" stop-color="#ffd300"/><stop offset="0.703" stop-color="#fff700"/><stop offset="0.712" stop-color="#fffe00"/><stop offset="0.739" stop-color="#bbff00"/><stop offset="0.748" stop-color="#a9ff00"/><stop offset="0.757" stop-color="#9eff00"/><stop offset="0.766" stop-color="#9bff00"/><stop offset="0.775" stop-color="#a0ff00"/><stop offset="0.784" stop-color="#adff00"/><stop offset="0.793" stop-color="#c4ff00"/><stop offset="0.802" stop-color="#e6ff00"/><stop offset="0.811" stop-color="#fffd00"/><stop offset="0.838" stop-color="#ffd900"/><stop offset="0.874" stop-color="#ffc200"/><stop offset="0.946" stop-color="#ffb900"/><stop offset="1" stop-color="#ffb800"/></linearGradient>
<linearGradient id="g291" gradientUnits="userSpaceOnUse" x1="0" y1="34" x2="0" y2="700"><stop offset="0" stop-color="#ffb500"/><stop offset="0.477" stop-color="#ffb200"/><stop offset="0.649" stop-color="#ffc900"/><stop offset="0.667" stop-color="#ffd400"/><stop offset="0.694" stop-color="#fffb00"/><stop offset="0.703" stop-color="#f4ff00"/><stop offset="0.721" stop-color="#c3ff00"/><stop offset="0.739" stop-color="#a0ff00"/><stop offset="0.748" stop-color="#99ff00"/><stop offset="0.757" stop-color="#9bff00"/><stop offset="0.766" stop-color="#a4ff00"/><stop offset="0.784" stop-color="#cbff00"/><stop offset="0.802" stop-color="#fffc00"/><stop offset="0.829" stop-color="#ffd700"/><stop offset="0.856" stop-color="#ffc500"/><stop offset="0.919" stop-color="#ffba00"/><stop offset="1" stop-color="#ffb800"/></linearGradient>
<linearGradient id="g292" gradientUnits="userSpaceOnUse" x1="0" y1="34" x2="0" y2="700"><stop offset="0" stop-color="#ffb500"/><stop offset="0.477" stop-color="#ffb400"/><stop offset="0.64" stop-color="#ffc900"/><stop offset="0.658" stop-color="#ffd300"/><stop offset="0.676" stop-color="#ffec00"/><stop offset="0.685" stop-color="#fffb00"/><stop offset="0.712" stop-color="#b5ff00"/><stop offset="0.721" stop-color="#a4ff00"/><stop offset="0.73" stop-color="#99ff00"/><stop offset="0.739" stop-color="#97ff00"/><stop offset="0.748" stop-color="#9cff00"/><stop offset="0.757" stop-color="#a9ff00"/><stop offset="0.775" stop-color="#d5ff00"/><stop offset="0.784" stop-color="#f0ff00"/><stop offset="0.793" stop-color="#fffb00"/><stop offset="0.82" stop-color="#ffd700"/><stop offset="0.847" stop-color="#ffc500"/><stop offset="0.928" stop-color="#ffba00"/><stop offset="1" stop-color="#ffb900"/></linearGradient>
<linearGradient id="g293" gradientUnits="userSpaceOnUse" x1="0" y1="34" x2="0" y2="700"><stop offset="0" stop-color="#ffb600"/><stop offset="0.486" stop-color="#ffb500"/><stop offset="0.631" stop-color="#ffc900"/><stop offset="0.658" stop-color="#ffda00"/><stop offset="0.676" stop-color="#fffa00"/><stop offset="0.685" stop-color="#e9ff00"/><stop offset="0.694" stop-color="#beff00"/><stop offset="0.712" stop-color="#9cff00"/><stop offset="0.721" stop-color="#95ff00"/><stop offset="0.73" stop-color="#97ff00"/><stop offset="0.739" stop-color="#a0ff00"/><stop offset="0.757" stop-color="#c7ff00"/><stop offset="0.775" stop-color="#fbff00"/><stop offset="0.784" stop-color="#fff900"/><stop offset="0.811" stop-color="#ffd600"/><stop offset="0.838" stop-color="#ffc500"/><stop offset="0.928" stop-color="#ffbb00"/><stop offset="1" stop-color="#ffb900"/></linearGradient>
<linearGradient id="g294" gradientUnits="userSpaceOnUse" x1="0" y1="34" x2="0" y2="700"><stop offset="0" stop-color="#ffb600"/><stop offset="0.486" stop-color="#ffb600"/><stop offset="0.622" stop-color="#ffc800"/><stop offset="0.649" stop-color="#ffd900"/><stop offset="0.658" stop-color="#ffe400"/><stop offset="0.667" stop-color="#fff500"/><stop offset="0.676" stop-color="#f6ff00"/><stop offset="0.694" stop-color="#a0ff00"/><stop offset="0.703" stop-color="#96ff00"/><stop offset="0.712" stop-color="#93ff00"/><stop offset="0.721" stop-color="#99ff00"/><stop offset="0.73" stop-color="#a6ff00"/><stop offset="0.748" stop-color="#d1ff00"/><stop offset="0.757" stop-color="#ebff00"/><stop offset="0.766" stop-color="#fffd00"/><stop offset="0.811" stop-color="#ffcf00"/><stop offset="0.856" stop-color="#ffc100"/><stop offset="1" stop-color="#ffba00"/></linearGradient>
<linearGradient id="g295" gradientUnits="userSpaceOnUse" x1="0" y1="34" x2="0" y2="700"><stop offset="0" stop-color="#ffb600"/><stop offset="0.486" stop-color="#ffb700"/><stop offset="0.613" stop-color="#ffc700"/><stop offset="0.64" stop-color="#ffd700"/><stop offset="0.658" stop-color="#ffed00"/><stop offset="0.667" stop-color="#fffd00"/><stop offset="0.676" stop-color="#deff00"/><stop offset="0.685" stop-color="#b3ff00"/><stop offset="0.694" stop-color="#92ff00"/><stop offset="0.703" stop-color="#93ff00"/><stop offset="0.712" stop-color="#9dff00"/><stop offset="0.73" stop-color="#c3ff00"/><stop offset="0.748" stop-color="#f6ff00"/><stop offset="0.757" stop-color="#fffb00"/><stop offset="0.793" stop-color="#ffd500"/><stop offset="0.829" stop-color="#ffc500"/><stop offset="0.982" stop-color="#ffbb00"/><stop offset="1" stop-color="#ffbb00"/></linearGradient>
<linearGradient id="g296" gradientUnits="userSpaceOnUse" x1="0" y1="34" x2="0" y2="700"><stop offset="0" stop-color="#ffb600"/><stop offset="0.486" stop-color="#ffb800"/><stop offset="0.613" stop-color="#ffc900"/><stop offset="0.64" stop-color="#ffdd00"/><stop offset="0.658" stop-color="#fff600"/><stop offset="0.667" stop-color="#f7ff00"/><stop offset="0.685" stop-color="#acff00"/><stop offset="0.694" stop-color="#96ff00"/><stop offset="0.703" stop-color="#a3ff00"/><stop offset="0.721" stop-color="#cdff00"/><stop offset="0.739" stop-color="#ffff00"/><stop offset="0.784" stop-color="#ffd500"/><stop offset="0.829" stop-color="#ffc500"/><stop offset="1" stop-color="#ffbb00"/></linearGradient>
<linearGradient id="g297" gradientUnits="userSpaceOnUse" x1="0" y1="34" x2="0" y2="700"><stop offset="0" stop-color="#ffb600"/><stop offset="0.486" stop-color="#ffb900"/><stop offset="0.613" stop-color="#ffcb00"/><stop offset="0.649" stop-color="#ffee00"/><stop offset="0.658" stop-color="#fffa00"/><stop offset="0.667" stop-color="#eeff00"/><stop offset="0.676" stop-color="#ceff00"/><stop offset="0.685" stop-color="#b5ff00"/><stop offset="0.694" stop-color="#abff00"/><stop offset="0.721" stop-color="#f1ff00"/><stop offset="0.73" stop-color="#fffc00"/><stop offset="0.766" stop-color="#ffda00"/><stop offset="0.811" stop-color="#ffc900"/><stop offset="0.973" stop-color="#ffbc00"/><stop offset="1" stop-color="#ffbc00"/></linearGradient>
<linearGradient id="g298" gradientUnits="userSpaceOnUse" x1="0" y1="34" x2="0" y2="700"><stop offset="0" stop-color="#ffb600"/><stop offset="0.486" stop-color="#ffb900"/><stop offset="0.613" stop-color="#ffcc00"/><stop offset="0.658" stop-color="#fffb00"/><stop offset="0.667" stop-color="#f0ff00"/><stop offset="0.676" stop-color="#d9ff00"/><stop offset="0.685" stop-color="#cbff00"/><stop offset="0.694" stop-color="#cbff00"/><stop offset="0.712" stop-color="#fcff00"/><stop offset="0.757" stop-color="#ffda00"/><stop offset="0.811" stop-color="#ffc900"/><stop offset="0.982" stop-color="#ffbd00"/><stop offset="1" stop-color="#ffbd00"/></linearGradient>
<linearGradient id="g299" gradientUnits="userSpaceOnUse" x1="0" y1="34" x2="0" y2="700"><stop offset="0" stop-color="#ffb600"/><stop offset="0.477" stop-color="#ffb900"/><stop offset="0.613" stop-color="#ffce00"/><stop offset="0.658" stop-color="#fffa00"/><stop offset="0.667" stop-color="#fbff00"/><stop offset="0.676" stop-color="#edff00"/><stop offset="0.685" stop-color="#e8ff00"/><stop offset="0.694" stop-color="#efff00"/><stop offset="0.703" stop-color="#fffd00"/><stop offset="0.748" stop-color="#ffda00"/><stop offset="0.811" stop-color="#ffca00"/><stop offset="0.982" stop-color="#ffbe00"/><stop offset="1" stop-color="#ffbe00"/></linearGradient>
<linearGradient id="g300" gradientUnits="userSpaceOnUse" x1="0" y1="34" x2="0" y2="700"><stop offset="0" stop-color="#ffb700"/><stop offset="0.477" stop-color="#ffba00"/><stop offset="0.613" stop-color="#ffd000"/><stop offset="0.649" stop-color="#fff200"/><stop offset="0.676" stop-color="#fffe00"/><stop offset="0.694" stop-color="#fffb00"/><stop offset="0.73" stop-color="#ffdf00"/><stop offset="0.793" stop-color="#ffce00"/><stop offset="0.964" stop-color="#ffc000"/><stop offset="1" stop-color="#ffbf00"/></linearGradient>
<linearGradient id="g301" gradientUnits="userSpaceOnUse" x1="0" y1="34" x2="0" y2="700"><stop offset="0" stop-color="#ffb800"/><stop offset="0.468" stop-color="#ffbb00"/><stop offset="0.604" stop-color="#ffce00"/><stop offset="0.622" stop-color="#ffdc00"/><stop offset="0.649" stop-color="#ffef00"/><stop offset="0.676" stop-color="#fff800"/><stop offset="0.703" stop-color="#ffea00"/><stop offset="0.748" stop-color="#ffd700"/><stop offset="0.928" stop-color="#ffc300"/><stop offset="1" stop-color="#ffc100"/></linearGradient>
<linearGradient id="g302" gradientUnits="userSpaceOnUse" x1="0" y1="34" x2="0" y2="700"><stop offset="0" stop-color="#ffb900"/><stop offset="0.468" stop-color="#ffbc00"/><stop offset="0.604" stop-color="#ffd100"/><stop offset="0.64" stop-color="#ffe800"/><stop offset="0.676" stop-color="#ffef00"/><stop offset="0.739" stop-color="#ffda00"/><stop offset="0.937" stop-color="#ffc400"/><stop offset="1" stop-color="#ffc300"/></linearGradient>
<linearGradient id="g303" gradientUnits="userSpaceOnUse" x1="0" y1="34" x2="0" y2="700"><stop offset="0" stop-color="#ffb900"/><stop offset="0.459" stop-color="#ffbd00"/><stop offset="0.604" stop-color="#ffd300"/><stop offset="0.64" stop-color="#ffe600"/><stop offset="0.685" stop-color="#ffe600"/><stop offset="0.82" stop-color="#ffd100"/><stop offset="0.982" stop-color="#ffc500"/><stop offset="1" stop-color="#ffc400"/></linearGradient>
<linearGradient id="g304" gradientUnits="userSpaceOnUse" x1="0" y1="34" x2="0" y2="700"><stop offset="0" stop-color="#ffba00"/><stop offset="0.459" stop-color="#ffbe00"/><stop offset="0.613" stop-color="#ffd800"/><stop offset="0.64" stop-color="#ffe400"/><stop offset="0.703" stop-color="#ffe100"/><stop offset="0.946" stop-color="#ffc700"/><stop offset="1" stop-color="#ffc600"/></linearGradient>
<linearGradient id="g305" gradientUnits="userSpaceOnUse" x1="0" y1="34" x2="0" y2="700"><stop offset="0" stop-color="#ffbb00"/><stop offset="0.45" stop-color="#ffbf00"/><stop offset="0.604" stop-color="#ffd700"/><stop offset="0.649" stop-color="#ffe300"/><stop offset="0.793" stop-color="#ffd900"/><stop offset="0.955" stop-color="#ffc900"/><stop offset="1" stop-color="#ffc800"/></linearGradient>
<linearGradient id="g306" gradientUnits="userSpaceOnUse" x1="0" y1="34" x2="0" y2="700"><stop offset="0" stop-color="#ffbc00"/><stop offset="0.441" stop-color="#ffbf00"/><stop offset="0.604" stop-color="#ffd900"/><stop offset="0.658" stop-color="#ffe300"/><stop offset="0.784" stop-color="#ffdc00"/><stop offset="0.955" stop-color="#ffcb00"/><stop offset="1" stop-color="#ffca00"/></linearGradient>
<linearGradient id="g307" gradientUnits="userSpaceOnUse" x1="0" y1="34" x2="0" y2="700"><stop offset="0" stop-color="#ffbd00"/><stop offset="0.441" stop-color="#ffc100"/><stop offset="0.613" stop-color="#ffdd00"/><stop offset="0.694" stop-color="#ffe500"/><stop offset="0.847" stop-color="#ffd500"/><stop offset="1" stop-color="#ffcc00"/></linearGradient>
<linearGradient id="g308" gradientUnits="userSpaceOnUse" x1="0" y1="34" x2="0" y2="700"><stop offset="0" stop-color="#ffbd00"/><stop offset="0.432" stop-color="#ffc100"/><stop offset="0.595" stop-color="#ffdc00"/><stop offset="0.694" stop-color="#ffe700"/><stop offset="0.838" stop-color="#ffd800"/><stop offset="1" stop-color="#ffce00"/></linearGradient>
<linearGradient id="g309" gradientUnits="userSpaceOnUse" x1="0" y1="34" x2="0" y2="700"><stop offset="0" stop-color="#ffbe00"/><stop offset="0.423" stop-color="#ffc200"/><stop offset="0.568" stop-color="#ffd900"/><stop offset="0.685" stop-color="#ffe900"/><stop offset="0.802" stop-color="#ffe000"/><stop offset="0.964" stop-color="#ffd100"/><stop offset="1" stop-color="#ffd000"/></linearGradient>
<linearGradient id="g310" gradientUnits="userSpaceOnUse" x1="0" y1="34" x2="0" y2="700"><stop offset="0" stop-color="#ffbf00"/><stop offset="0.414" stop-color="#ffc300"/><stop offset="0.55" stop-color="#ffd800"/><stop offset="0.685" stop-color="#ffeb00"/><stop offset="0.802" stop-color="#ffe200"/><stop offset="0.964" stop-color="#ffd300"/><stop offset="1" stop-color="#ffd200"/></linearGradient>
<linearGradient id="g311" gradientUnits="userSpaceOnUse" x1="0" y1="34" x2="0" y2="700"><stop offset="0" stop-color="#ffc000"/><stop offset="0.405" stop-color="#ffc400"/><stop offset="0.541" stop-color="#ffd800"/><stop offset="0.685" stop-color="#ffed00"/><stop offset="0.802" stop-color="#ffe400"/><stop offset="0.964" stop-color="#ffd500"/><stop offset="1" stop-color="#ffd400"/></linearGradient>
<linearGradient id="g312" gradientUnits="userSpaceOnUse" x1="0" y1="34" x2="0" y2="700"><stop offset="0" stop-color="#ffc100"/><stop offset="0.396" stop-color="#ffc500"/><stop offset="0.532" stop-color="#ffd800"/><stop offset="0.685" stop-color="#ffef00"/><stop offset="0.802" stop-color="#ffe600"/><stop offset="0.964" stop-color="#ffd700"/><stop offset="1" stop-color="#ffd600"/></linearGradient>
<linearGradient id="g313" gradientUnits="userSpaceOnUse" x1="0" y1="34" x2="0" y2="700"><stop offset="0" stop-color="#ffc200"/><stop offset="0.396" stop-color="#ffc600"/><stop offset="0.541" stop-color="#ffdc00"/><stop offset="0.685" stop-color="#fff100"/><stop offset="0.802" stop-color="#ffe800"/><stop offset="0.964" stop-color="#ffd900"/><stop offset="1" stop-color="#ffd800"/></linearGradient>
<linearGradient id="g314" gradientUnits="userSpaceOnUse" x1="0" y1="34" x2="0" y2="700"><stop offset="0" stop-color="#ffc200"/><stop offset="0.387" stop-color="#ffc600"/><stop offset="0.532" stop-color="#ffdc00"/><stop offset="0.685" stop-color="#fff200"/><stop offset="0.802" stop-color="#ffe900"/><stop offset="0.964" stop-color="#ffdb00"/><stop offset="1" stop-color="#ffda00"/></linearGradient>
<linearGradient id="g315" gradientUnits="userSpaceOnUse" x1="0" y1="34" x2="0" y2="700"><stop offset="0" stop-color="#ffc200"/><stop offset="0.378" stop-color="#ffc600"/><stop offset="0.523" stop-color="#ffdc00"/><stop offset="0.631" stop-color="#fff000"/><stop offset="0.73" stop-color="#fff400"/><stop offset="0.946" stop-color="#ffde00"/><stop offset="1" stop-color="#ffdd00"/></linearGradient>
<linearGradient id="g316" gradientUnits="userSpaceOnUse" x1="0" y1="34" x2="0" y2="700"><stop offset="0" stop-color="#ffc200"/><stop offset="0.369" stop-color="#ffc600"/><stop offset="0.523" stop-color="#ffde00"/><stop offset="0.586" stop-color="#fff000"/><stop offset="0.703" stop-color="#fffa00"/><stop offset="0.82" stop-color="#fff100"/><stop offset="0.991" stop-color="#ffe500"/><stop offset="1" stop-color="#ffe400"/></linearGradient>
<linearGradient id="g317" gradientUnits="userSpaceOnUse" x1="0" y1="34" x2="0" y2="700"><stop offset="0" stop-color="#ffc200"/><stop offset="0.36" stop-color="#ffc700"/><stop offset="0.514" stop-color="#ffdd00"/><stop offset="0.568" stop-color="#fffa00"/><stop offset="0.658" stop-color="#fcff00"/><stop offset="0.73" stop-color="#faff00"/><stop offset="0.82" stop-color="#fffb00"/><stop offset="1" stop-color="#fff300"/></linearGradient>
<linearGradient id="g318" gradientUnits="userSpaceOnUse" x1="0" y1="34" x2="0" y2="700"><stop offset="0" stop-color="#ffc200"/><stop offset="0.342" stop-color="#ffc600"/><stop offset="0.514" stop-color="#ffdf00"/><stop offset="0.532" stop-color="#ffec00"/><stop offset="0.559" stop-color="#ffff00"/><stop offset="0.568" stop-color="#f1ff00"/><stop offset="0.685" stop-color="#d5ff00"/><stop offset="0.766" stop-color="#dcff00"/><stop offset="0.91" stop-color="#f9ff00"/><stop offset="1" stop-color="#ffff00"/></linearGradient>
<linearGradient id="g319" gradientUnits="userSpaceOnUse" x1="0" y1="34" x2="0" y2="700"><stop offset="0" stop-color="#ffc200"/><stop offset="0.333" stop-color="#ffc600"/><stop offset="0.514" stop-color="#ffe100"/><stop offset="0.523" stop-color="#ffe600"/><stop offset="0.541" stop-color="#fffa00"/><stop offset="0.55" stop-color="#fbff00"/><stop offset="0.568" stop-color="#d5ff00"/><stop offset="0.685" stop-color="#b8ff00"/><stop offset="0.766" stop-color="#bfff00"/><stop offset="0.91" stop-color="#dcff00"/><stop offset="1" stop-color="#e1ff00"/></linearGradient>
<linearGradient id="g320" gradientUnits="userSpaceOnUse" x1="0" y1="34" x2="0" y2="700"><stop offset="0" stop-color="#ffc200"/><stop offset="0.324" stop-color="#ffc700"/><stop offset="0.514" stop-color="#ffe300"/><stop offset="0.523" stop-color="#ffe900"/><stop offset="0.541" stop-color="#fffc00"/><stop offset="0.55" stop-color="#f6ff00"/><stop offset="0.568" stop-color="#d1ff00"/><stop offset="0.685" stop-color="#b7ff00"/><stop offset="0.766" stop-color="#beff00"/><stop offset="0.919" stop-color="#daff00"/><stop offset="1" stop-color="#deff00"/></linearGradient>
<linearGradient id="g321" gradientUnits="userSpaceOnUse" x1="0" y1="34" x2="0" y2="700"><stop offset="0" stop-color="#ffc200"/><stop offset="0.315" stop-color="#ffc700"/><stop offset="0.505" stop-color="#ffe500"/><stop offset="0.523" stop-color="#ffeb00"/><stop offset="0.55" stop-color="#feff00"/><stop offset="0.568" stop-color="#e3ff00"/><stop offset="0.64" stop-color="#d9ff00"/><stop offset="0.694" stop-color="#d1ff00"/><stop offset="0.784" stop-color="#dbff00"/><stop offset="0.919" stop-color="#f3ff00"/><stop offset="1" stop-color="#f7ff00"/></linearGradient>
<linearGradient id="g322" gradientUnits="userSpaceOnUse" x1="0" y1="34" x2="0" y2="700"><stop offset="0" stop-color="#ffc200"/><stop offset="0.306" stop-color="#ffc800"/><stop offset="0.477" stop-color="#ffe300"/><stop offset="0.523" stop-color="#ffef00"/><stop offset="0.559" stop-color="#ffff00"/><stop offset="0.577" stop-color="#faff00"/><stop offset="0.631" stop-color="#faff00"/><stop offset="0.685" stop-color="#f1ff00"/><stop offset="0.775" stop-color="#f8ff00"/><stop offset="0.838" stop-color="#fffd00"/><stop offset="1" stop-color="#fff900"/></linearGradient>
<linearGradient id="g323" gradientUnits="userSpaceOnUse" x1="0" y1="34" x2="0" y2="700"><stop offset="0" stop-color="#ffc300"/><stop offset="0.297" stop-color="#ffc900"/><stop offset="0.441" stop-color="#ffe000"/><stop offset="0.559" stop-color="#fffe00"/><stop offset="0.829" stop-color="#fff900"/><stop offset="1" stop-color="#fff200"/></linearGradient>
<linearGradient id="g324" gradientUnits="userSpaceOnUse" x1="0" y1="34" x2="0" y2="700"><stop offset="0" stop-color="#ffc300"/><stop offset="0.288" stop-color="#ffcb00"/><stop offset="0.414" stop-color="#ffdf00"/><stop offset="0.541" stop-color="#ffff00"/><stop offset="0.55" stop-color="#f7ff00"/><stop offset="0.595" stop-color="#fbff00"/><stop offset="0.658" stop-color="#ffff00"/><stop offset="1" stop-color="#fff300"/></linearGradient>
<linearGradient id="g325" gradientUnits="userSpaceOnUse" x1="0" y1="34" x2="0" y2="700"><stop offset="0" stop-color="#ffc400"/><stop offset="0.279" stop-color="#ffcd00"/><stop offset="0.387" stop-color="#ffdd00"/><stop offset="0.505" stop-color="#fffd00"/><stop offset="0.514" stop-color="#feff00"/><stop offset="0.55" stop-color="#ddff00"/><stop offset="0.586" stop-color="#deff00"/><stop offset="0.613" stop-color="#eaff00"/><stop offset="0.631" stop-color="#f1ff00"/><stop offset="0.658" stop-color="#efff00"/><stop offset="0.685" stop-color="#f4ff00"/><stop offset="0.784" stop-color="#fcff00"/><stop offset="1" stop-color="#fffa00"/></linearGradient>
<linearGradient id="g326" gradientUnits="userSpaceOnUse" x1="0" y1="34" x2="0" y2="700"><stop offset="0" stop-color="#ffc500"/><stop offset="0.27" stop-color="#ffcf00"/><stop offset="0.378" stop-color="#ffe000"/><stop offset="0.459" stop-color="#fffb00"/><stop offset="0.477" stop-color="#ffff00"/><stop offset="0.541" stop-color="#c5ff00"/><stop offset="0.55" stop-color="#baff00"/><stop offset="0.586" stop-color="#b8ff00"/><stop offset="0.604" stop-color="#bdff00"/><stop offset="0.622" stop-color="#ceff00"/><stop offset="0.658" stop-color="#d6ff00"/><stop offset="0.676" stop-color="#dfff00"/><stop offset="0.775" stop-color="#e5ff00"/><stop offset="0.937" stop-color="#faff00"/><stop offset="1" stop-color="#fcff00"/></linearGradient>
<linearGradient id="g327" gradientUnits="userSpaceOnUse" x1="0" y1="34" x2="0" y2="700"><stop offset="0" stop-color="#ffc600"/><stop offset="0.252" stop-color="#ffd100"/><stop offset="0.36" stop-color="#ffe200"/><stop offset="0.441" stop-color="#fffe00"/><stop offset="0.514" stop-color="#bcff00"/><stop offset="0.55" stop-color="#92ff00"/><stop offset="0.577" stop-color="#8cff00"/><stop offset="0.604" stop-color="#91ff00"/><stop offset="0.631" stop-color="#aeff00"/><stop offset="0.658" stop-color="#beff00"/><stop offset="0.667" stop-color="#c8ff00"/><stop offset="0.802" stop-color="#d4ff00"/><stop offset="0.955" stop-color="#e5ff00"/><stop offset="1" stop-color="#e6ff00"/></linearGradient>
<linearGradient id="g328" gradientUnits="userSpaceOnUse" x1="0" y1="34" x2="0" y2="700"><stop offset="0" stop-color="#ffc800"/><stop offset="0.234" stop-color="#ffd400"/><stop offset="0.351" stop-color="#ffe600"/><stop offset="0.414" stop-color="#fffe00"/><stop offset="0.423" stop-color="#faff00"/><stop offset="0.459" stop-color="#ceff00"/><stop offset="0.532" stop-color="#7fff00"/><stop offset="0.55" stop-color="#66ff00"/><stop offset="0.568" stop-color="#5cff00"/><stop offset="0.604" stop-color="#65ff00"/><stop offset="0.64" stop-color="#9dff00"/><stop offset="0.667" stop-color="#baff00"/><stop offset="0.703" stop-color="#bdff00"/><stop offset="0.964" stop-color="#d6ff00"/><stop offset="1" stop-color="#d6ff00"/></linearGradient>
<linearGradient id="g329" gradientUnits="userSpaceOnUse" x1="0" y1="34" x2="0" y2="700"><stop offset="0" stop-color="#ffca00"/><stop offset="0.198" stop-color="#ffd600"/><stop offset="0.342" stop-color="#ffea00"/><stop offset="0.396" stop-color="#ffff00"/><stop offset="0.441" stop-color="#c1ff00"/><stop offset="0.459" stop-color="#a8ff00"/><stop offset="0.532" stop-color="#54ff00"/><stop offset="0.55" stop-color="#3dff00"/><stop offset="0.568" stop-color="#34ff00"/><stop offset="0.604" stop-color="#45ff00"/><stop offset="0.64" stop-color="#94ff00"/><stop offset="0.667" stop-color="#bcff00"/><stop offset="0.694" stop-color="#bfff00"/><stop offset="0.829" stop-color="#caff00"/><stop offset="1" stop-color="#d6ff00"/></linearGradient>
<linearGradient id="g330" gradientUnits="userSpaceOnUse" x1="0" y1="34" x2="0" y2="700"><stop offset="0" stop-color="#ffcb00"/><stop offset="0.162" stop-color="#ffd600"/><stop offset="0.342" stop-color="#fff200"/><stop offset="0.378" stop-color="#ffff00"/><stop offset="0.423" stop-color="#bcff00"/><stop offset="0.45" stop-color="#8bff00"/><stop offset="0.55" stop-color="#1fff00"/><stop offset="0.568" stop-color="#1aff00"/><stop offset="0.595" stop-color="#30ff00"/><stop offset="0.604" stop-color="#3cff00"/><stop offset="0.64" stop-color="#b1ff00"/><stop offset="0.658" stop-color="#daff00"/><stop offset="0.667" stop-color="#e5ff00"/><stop offset="0.856" stop-color="#f6ff00"/><stop offset="1" stop-color="#fdff00"/></linearGradient>
<linearGradient id="g331" gradientUnits="userSpaceOnUse" x1="0" y1="34" x2="0" y2="700"><stop offset="0" stop-color="#ffcd00"/><stop offset="0.144" stop-color="#ffd800"/><stop offset="0.351" stop-color="#fffc00"/><stop offset="0.36" stop-color="#ffff00"/><stop offset="0.387" stop-color="#dbff00"/><stop offset="0.441" stop-color="#79ff00"/><stop offset="0.45" stop-color="#65ff00"/><stop offset="0.514" stop-color="#28ff00"/><stop offset="0.55" stop-color="#11ff00"/><stop offset="0.568" stop-color="#16ff00"/><stop offset="0.586" stop-color="#3cff00"/><stop offset="0.604" stop-color="#6eff00"/><stop offset="0.631" stop-color="#d1ff00"/><stop offset="0.64" stop-color="#edff00"/><stop offset="0.649" stop-color="#fffe00"/><stop offset="0.685" stop-color="#fff800"/><stop offset="1" stop-color="#ffee00"/></linearGradient>
<linearGradient id="g332" gradientUnits="userSpaceOnUse" x1="0" y1="34" x2="0" y2="700"><stop offset="0" stop-color="#ffcf00"/><stop offset="0.126" stop-color="#ffd900"/><stop offset="0.342" stop-color="#fffd00"/><stop offset="0.351" stop-color="#f9ff00"/><stop offset="0.387" stop-color="#c3ff00"/><stop offset="0.432" stop-color="#6dff00"/><stop offset="0.45" stop-color="#46ff00"/><stop offset="0.495" stop-color="#25ff00"/><stop offset="0.532" stop-color="#1aff00"/><stop offset="0.55" stop-color="#2bff00"/><stop offset="0.568" stop-color="#54ff00"/><stop offset="0.586" stop-color="#8fff00"/><stop offset="0.604" stop-color="#beff00"/><stop offset="0.622" stop-color="#f6ff00"/><stop offset="0.631" stop-color="#fffb00"/><stop offset="0.658" stop-color="#ffe700"/><stop offset="1" stop-color="#ffdc00"/></linearGradient>
<linearGradient id="g333" gradientUnits="userSpaceOnUse" x1="0" y1="34" x2="0" y2="700"><stop offset="0" stop-color="#ffd100"/><stop offset="0.108" stop-color="#ffd900"/><stop offset="0.315" stop-color="#fffd00"/><stop offset="0.342" stop-color="#f8ff00"/><stop offset="0.387" stop-color="#afff00"/><stop offset="0.45" stop-color="#33ff00"/><stop offset="0.486" stop-color="#26ff00"/><stop offset="0.505" stop-color="#31ff00"/><stop offset="0.532" stop-color="#5cff00"/><stop offset="0.595" stop-color="#f3ff00"/><stop offset="0.604" stop-color="#fffd00"/><stop offset="0.649" stop-color="#ffdb00"/><stop offset="0.694" stop-color="#ffd600"/><stop offset="1" stop-color="#ffcf00"/></linearGradient>
<linearGradient id="g334" gradientUnits="userSpaceOnUse" x1="0" y1="34" x2="0" y2="700"><stop offset="0" stop-color="#ffd200"/><stop offset="0.099" stop-color="#ffd900"/><stop offset="0.297" stop-color="#fffe00"/><stop offset="0.324" stop-color="#f7ff00"/><stop offset="0.342" stop-color="#eeff00"/><stop offset="0.414" stop-color="#70ff00"/><stop offset="0.441" stop-color="#3fff00"/><stop offset="0.45" stop-color="#34ff00"/><stop offset="0.459" stop-color="#37ff00"/><stop offset="0.477" stop-color="#4fff00"/><stop offset="0.568" stop-color="#fffe00"/><stop offset="0.64" stop-color="#ffcf00"/><stop offset="0.694" stop-color="#ffcb00"/><stop offset="1" stop-color="#ffc500"/></linearGradient>
<linearGradient id="g335" gradientUnits="userSpaceOnUse" x1="0" y1="34" x2="0" y2="700"><stop offset="0" stop-color="#ffd300"/><stop offset="0.099" stop-color="#ffda00"/><stop offset="0.279" stop-color="#fffd00"/><stop offset="0.306" stop-color="#f9ff00"/><stop offset="0.342" stop-color="#e8ff00"/><stop offset="0.405" stop-color="#81ff00"/><stop offset="0.423" stop-color="#72ff00"/><stop offset="0.441" stop-color="#70ff00"/><stop offset="0.45" stop-color="#74ff00"/><stop offset="0.523" stop-color="#f9ff00"/><stop offset="0.541" stop-color="#fff900"/><stop offset="0.595" stop-color="#ffd200"/><stop offset="0.649" stop-color="#ffc100"/><stop offset="1" stop-color="#ffbc00"/></linearGradient>
<linearGradient id="g336" gradientUnits="userSpaceOnUse" x1="0" y1="34" x2="0" y2="700"><stop offset="0" stop-color="#ffd300"/><stop offset="0.099" stop-color="#ffda00"/><stop offset="0.279" stop-color="#fffd00"/><stop offset="0.342" stop-color="#ebff00"/><stop offset="0.378" stop-color="#b9ff00"/><stop offset="0.396" stop-color="#b0ff00"/><stop offset="0.423" stop-color="#b6ff00"/><stop offset="0.45" stop-color="#c7ff00"/><stop offset="0.477" stop-color="#f6ff00"/><stop offset="0.486" stop-color="#fffd00"/><stop offset="0.586" stop-color="#ffbf00"/><stop offset="0.658" stop-color="#ffb400"/><stop offset="1" stop-color="#ffb200"/></linearGradient>
<linearGradient id="g337" gradientUnits="userSpaceOnUse" x1="0" y1="34" x2="0" y2="700"><stop offset="0" stop-color="#ffd200"/><stop offset="0.108" stop-color="#ffdb00"/><stop offset="0.315" stop-color="#fffc00"/><stop offset="0.36" stop-color="#fdff00"/><stop offset="0.378" stop-color="#eeff00"/><stop offset="0.414" stop-color="#f6ff00"/><stop offset="0.441" stop-color="#fffd00"/><stop offset="0.459" stop-color="#fff800"/><stop offset="0.541" stop-color="#ffc200"/><stop offset="0.586" stop-color="#ffab00"/><stop offset="0.712" stop-color="#ffa700"/><stop offset="1" stop-color="#ffa500"/></linearGradient>
<linearGradient id="g338" gradientUnits="userSpaceOnUse" x1="0" y1="34" x2="0" y2="700"><stop offset="0" stop-color="#ffd000"/><stop offset="0.153" stop-color="#ffdc00"/><stop offset="0.324" stop-color="#ffeb00"/><stop offset="0.351" stop-color="#ffec00"/><stop offset="0.387" stop-color="#fff300"/><stop offset="0.45" stop-color="#ffe300"/><stop offset="0.586" stop-color="#ff9800"/><stop offset="0.757" stop-color="#ff9600"/><stop offset="1" stop-color="#ff9400"/></linearGradient>
<linearGradient id="g339" gradientUnits="userSpaceOnUse" x1="0" y1="34" x2="0" y2="700"><stop offset="0" stop-color="#ffcd00"/><stop offset="0.333" stop-color="#ffda00"/><stop offset="0.387" stop-color="#ffdf00"/><stop offset="0.45" stop-color="#ffd100"/><stop offset="0.541" stop-color="#ffa200"/><stop offset="0.577" stop-color="#ff8700"/><stop offset="0.703" stop-color="#ff8100"/><stop offset="1" stop-color="#ff8200"/></linearGradient>
<linearGradient id="g340" gradientUnits="userSpaceOnUse" x1="0" y1="34" x2="0" y2="700"><stop offset="0" stop-color="#ffcb00"/><stop offset="0.333" stop-color="#ffcf00"/><stop offset="0.405" stop-color="#ffcf00"/><stop offset="0.45" stop-color="#ffc700"/><stop offset="0.532" stop-color="#ffa000"/><stop offset="0.577" stop-color="#ff7800"/><stop offset="0.685" stop-color="#ff6d00"/><stop offset="0.928" stop-color="#ff7300"/><stop offset="1" stop-color="#ff7200"/></linearGradient>
<linearGradient id="g341" gradientUnits="userSpaceOnUse" x1="0" y1="34" x2="0" y2="700"><stop offset="0" stop-color="#ffc800"/><stop offset="0.405" stop-color="#ffc700"/><stop offset="0.45" stop-color="#ffc200"/><stop offset="0.532" stop-color="#ff9b00"/><stop offset="0.577" stop-color="#ff6c00"/><stop offset="0.604" stop-color="#ff6400"/><stop offset="0.694" stop-color="#ff5d00"/><stop offset="0.91" stop-color="#ff6500"/><stop offset="1" stop-color="#ff6400"/></linearGradient>
<linearGradient id="g342" gradientUnits="userSpaceOnUse" x1="0" y1="34" x2="0" y2="700"><stop offset="0" stop-color="#ffc600"/><stop offset="0.441" stop-color="#ffc200"/><stop offset="0.532" stop-color="#ff9a00"/><stop offset="0.577" stop-color="#ff6a00"/><stop offset="0.604" stop-color="#ff6200"/><stop offset="0.694" stop-color="#ff5b00"/><stop offset="0.901" stop-color="#ff6400"/><stop offset="1" stop-color="#ff6400"/></linearGradient>
<linearGradient id="g343" gradientUnits="userSpaceOnUse" x1="0" y1="34" x2="0" y2="700"><stop offset="0" stop-color="#ffc400"/><stop offset="0.45" stop-color="#ffbf00"/><stop offset="0.532" stop-color="#ff9d00"/><stop offset="0.577" stop-color="#ff7500"/><stop offset="0.667" stop-color="#ff6600"/><stop offset="0.91" stop-color="#ff7200"/><stop offset="1" stop-color="#ff7200"/></linearGradient>
<linearGradient id="g344" gradientUnits="userSpaceOnUse" x1="0" y1="34" x2="0" y2="700"><stop offset="0" stop-color="#ffc300"/><stop offset="0.45" stop-color="#ffbf00"/><stop offset="0.532" stop-color="#ffa300"/><stop offset="0.577" stop-color="#ff8200"/><stop offset="0.685" stop-color="#ff7800"/><stop offset="0.937" stop-color="#ff8200"/><stop offset="1" stop-color="#ff8200"/></linearGradient>
<linearGradient id="g345" gradientUnits="userSpaceOnUse" x1="0" y1="34" x2="0" y2="700"><stop offset="0" stop-color="#ffc200"/><stop offset="0.45" stop-color="#ffbf00"/><stop offset="0.532" stop-color="#ffaa00"/><stop offset="0.586" stop-color="#ff8f00"/><stop offset="0.703" stop-color="#ff8900"/><stop offset="0.928" stop-color="#ff9300"/><stop offset="1" stop-color="#ff9300"/></linearGradient>
<linearGradient id="g346" gradientUnits="userSpaceOnUse" x1="0" y1="34" x2="0" y2="700"><stop offset="0" stop-color="#ffc100"/><stop offset="0.459" stop-color="#ffbd00"/><stop offset="0.541" stop-color="#ffac00"/><stop offset="0.595" stop-color="#ff9c00"/><stop offset="0.703" stop-color="#ff9700"/><stop offset="0.919" stop-color="#ffa200"/><stop offset="1" stop-color="#ffa200"/></linearGradient>
<linearGradient id="g347" gradientUnits="userSpaceOnUse" x1="0" y1="34" x2="0" y2="700"><stop offset="0" stop-color="#ffc100"/><stop offset="0.468" stop-color="#ffbc00"/><stop offset="0.559" stop-color="#ffad00"/><stop offset="0.658" stop-color="#ffa000"/><stop offset="0.937" stop-color="#ffad00"/><stop offset="1" stop-color="#ffad00"/></linearGradient>
<linearGradient id="g348" gradientUnits="userSpaceOnUse" x1="0" y1="34" x2="0" y2="700"><stop offset="0" stop-color="#ffc000"/><stop offset="0.486" stop-color="#ffba00"/><stop offset="0.676" stop-color="#ffa500"/><stop offset="0.919" stop-color="#ffb300"/><stop offset="1" stop-color="#ffb300"/></linearGradient>
<linearGradient id="g349" gradientUnits="userSpaceOnUse" x1="0" y1="34" x2="0" y2="700"><stop offset="0" stop-color="#ffc000"/><stop offset="0.514" stop-color="#ffb800"/><stop offset="0.676" stop-color="#ffa600"/><stop offset="0.91" stop-color="#ffb500"/><stop offset="1" stop-color="#ffb500"/></linearGradient>
<linearGradient id="g350" gradientUnits="userSpaceOnUse" x1="0" y1="34" x2="0" y2="700"><stop offset="0" stop-color="#ffc000"/><stop offset="0.495" stop-color="#ffb700"/><stop offset="0.676" stop-color="#ffa300"/><stop offset="0.91" stop-color="#ffb300"/><stop offset="1" stop-color="#ffb300"/></linearGradient>
<linearGradient id="g351" gradientUnits="userSpaceOnUse" x1="0" y1="34" x2="0" y2="700"><stop offset="0" stop-color="#ffbf00"/><stop offset="0.333" stop-color="#ffba00"/><stop offset="0.568" stop-color="#ffae00"/><stop offset="0.676" stop-color="#ff9e00"/><stop offset="0.91" stop-color="#ffae00"/><stop offset="1" stop-color="#ffae00"/></linearGradient>
<linearGradient id="g352" gradientUnits="userSpaceOnUse" x1="0" y1="34" x2="0" y2="700"><stop offset="0" stop-color="#ffbf00"/><stop offset="0.27" stop-color="#ffba00"/><stop offset="0.577" stop-color="#ffa900"/><stop offset="0.631" stop-color="#ff9f00"/><stop offset="0.676" stop-color="#ff9800"/><stop offset="0.901" stop-color="#ffa800"/><stop offset="1" stop-color="#ffa800"/></linearGradient>
<linearGradient id="g353" gradientUnits="userSpaceOnUse" x1="0" y1="34" x2="0" y2="700"><stop offset="0" stop-color="#ffbf00"/><stop offset="0.234" stop-color="#ffbb00"/><stop offset="0.595" stop-color="#ffa300"/><stop offset="0.667" stop-color="#ff9000"/><stop offset="0.901" stop-color="#ffa100"/><stop offset="1" stop-color="#ffa100"/></linearGradient>
<linearGradient id="g354" gradientUnits="userSpaceOnUse" x1="0" y1="34" x2="0" y2="700"><stop offset="0" stop-color="#ffbe00"/><stop offset="0.225" stop-color="#ffbb00"/><stop offset="0.604" stop-color="#ff9f00"/><stop offset="0.658" stop-color="#ff8a00"/><stop offset="0.91" stop-color="#ff9a00"/><stop offset="1" stop-color="#ff9b00"/></linearGradient>
<linearGradient id="g355" gradientUnits="userSpaceOnUse" x1="0" y1="34" x2="0" y2="700"><stop offset="0" stop-color="#ffbe00"/><stop offset="0.216" stop-color="#ffbb00"/><stop offset="0.459" stop-color="#ffa800"/><stop offset="0.613" stop-color="#ff9a00"/><stop offset="0.658" stop-color="#ff8400"/><stop offset="0.91" stop-color="#ff9500"/><stop offset="1" stop-color="#ff9500"/></linearGradient>
<linearGradient id="g356" gradientUnits="userSpaceOnUse" x1="0" y1="34" x2="0" y2="700"><stop offset="0" stop-color="#ffbe00"/><stop offset="0.207" stop-color="#ffbb00"/><stop offset="0.45" stop-color="#ffa600"/><stop offset="0.613" stop-color="#ff9800"/><stop offset="0.658" stop-color="#ff8100"/><stop offset="0.91" stop-color="#ff9100"/><stop offset="1" stop-color="#ff9200"/></linearGradient>
<linearGradient id="g357" gradientUnits="userSpaceOnUse" x1="0" y1="34" x2="0" y2="700"><stop offset="0" stop-color="#ffbe00"/><stop offset="0.207" stop-color="#ffba00"/><stop offset="0.441" stop-color="#ffa600"/><stop offset="0.613" stop-color="#ff9800"/><stop offset="0.658" stop-color="#ff8100"/><stop offset="0.91" stop-color="#ff9100"/><stop offset="1" stop-color="#ff9100"/></linearGradient>
<linearGradient id="g358" gradientUnits="userSpaceOnUse" x1="0" y1="34" x2="0" y2="700"><stop offset="0" stop-color="#ffbd00"/><stop offset="0.207" stop-color="#ffba00"/><stop offset="0.45" stop-color="#ffa700"/><stop offset="0.613" stop-color="#ff9a00"/><stop offset="0.658" stop-color="#ff8400"/><stop offset="0.919" stop-color="#ff9300"/><stop offset="1" stop-color="#ff9300"/></linearGradient>
<linearGradient id="g359" gradientUnits="userSpaceOnUse" x1="0" y1="34" x2="0" y2="700"><stop offset="0" stop-color="#ffbd00"/><stop offset="0.216" stop-color="#ffba00"/><stop offset="0.459" stop-color="#ffa900"/><stop offset="0.613" stop-color="#ff9d00"/><stop offset="0.658" stop-color="#ff8900"/><stop offset="0.928" stop-color="#ff9700"/><stop offset="1" stop-color="#ff9700"/></linearGradient>
<linearGradient id="g360" gradientUnits="userSpaceOnUse" x1="0" y1="34" x2="0" y2="700"><stop offset="0" stop-color="#ffbd00"/><stop offset="0.234" stop-color="#ffb900"/><stop offset="0.613" stop-color="#ffa100"/><stop offset="0.658" stop-color="#ff9000"/><stop offset="0.937" stop-color="#ff9d00"/><stop offset="1" stop-color="#ff9d00"/></linearGradient>
<linearGradient id="g361" gradientUnits="userSpaceOnUse" x1="0" y1="34" x2="0" y2="700"><stop offset="0" stop-color="#ffbc00"/><stop offset="0.252" stop-color="#ffb800"/><stop offset="0.613" stop-color="#ffa500"/><stop offset="0.667" stop-color="#ff9800"/><stop offset="0.946" stop-color="#ffa300"/><stop offset="1" stop-color="#ffa300"/></linearGradient>
<linearGradient id="g362" gradientUnits="userSpaceOnUse" x1="0" y1="34" x2="0" y2="700"><stop offset="0" stop-color="#ffbc00"/><stop offset="0.306" stop-color="#ffb700"/><stop offset="0.613" stop-color="#ffa900"/><stop offset="0.667" stop-color="#ff9f00"/><stop offset="0.973" stop-color="#ffa900"/><stop offset="1" stop-color="#ffa900"/></linearGradient>
<linearGradient id="g363" gradientUnits="userSpaceOnUse" x1="0" y1="34" x2="0" y2="700"><stop offset="0" stop-color="#ffbc00"/><stop offset="0.495" stop-color="#ffb300"/><stop offset="0.64" stop-color="#ffa800"/><stop offset="0.766" stop-color="#ffaa00"/><stop offset="1" stop-color="#ffae00"/></linearGradient>
<linearGradient id="g364" gradientUnits="userSpaceOnUse" x1="0" y1="34" x2="0" y2="700"><stop offset="0" stop-color="#ffbc00"/><stop offset="0.559" stop-color="#ffb200"/><stop offset="0.703" stop-color="#ffab00"/><stop offset="1" stop-color="#ffb200"/></linearGradient>
<linearGradient id="g365" gradientUnits="userSpaceOnUse" x1="0" y1="34" x2="0" y2="700"><stop offset="0" stop-color="#ffbc00"/><stop offset="0.532" stop-color="#ffb400"/><stop offset="0.712" stop-color="#ffae00"/><stop offset="1" stop-color="#ffb300"/></linearGradient>
<linearGradient id="g366" gradientUnits="userSpaceOnUse" x1="0" y1="34" x2="0" y2="700"><stop offset="0" stop-color="#ffbb00"/><stop offset="0.495" stop-color="#ffb600"/><stop offset="0.721" stop-color="#ffaf00"/><stop offset="1" stop-color="#ffb400"/></linearGradient>
<linearGradient id="g367" gradientUnits="userSpaceOnUse" x1="0" y1="34" x2="0" y2="700"><stop offset="0" stop-color="#ffbb00"/><stop offset="0.468" stop-color="#ffb700"/><stop offset="0.721" stop-color="#ffaf00"/><stop offset="1" stop-color="#ffb300"/></linearGradient>
<linearGradient id="g368" gradientUnits="userSpaceOnUse" x1="0" y1="34" x2="0" y2="700"><stop offset="0" stop-color="#ffbb00"/><stop offset="0.45" stop-color="#ffb700"/><stop offset="0.676" stop-color="#ffae00"/><stop offset="1" stop-color="#ffb100"/></linearGradient>
<linearGradient id="g369" gradientUnits="userSpaceOnUse" x1="0" y1="34" x2="0" y2="700"><stop offset="0" stop-color="#ffbb00"/><stop offset="0.441" stop-color="#ffb700"/><stop offset="0.64" stop-color="#ffad00"/><stop offset="1" stop-color="#ffb000"/></linearGradient>
<linearGradient id="g370" gradientUnits="userSpaceOnUse" x1="0" y1="34" x2="0" y2="700"><stop offset="0" stop-color="#ffbb00"/><stop offset="0.441" stop-color="#ffb700"/><stop offset="0.622" stop-color="#ffad00"/><stop offset="1" stop-color="#ffaf00"/></linearGradient>
<linearGradient id="g371" gradientUnits="userSpaceOnUse" x1="0" y1="34" x2="0" y2="700"><stop offset="0" stop-color="#ffba00"/><stop offset="0.441" stop-color="#ffb700"/><stop offset="0.622" stop-color="#ffad00"/><stop offset="1" stop-color="#ffaf00"/></linearGradient>
<linearGradient id="g372" gradientUnits="userSpaceOnUse" x1="0" y1="34" x2="0" y2="700"><stop offset="0" stop-color="#ffba00"/><stop offset="0.441" stop-color="#ffb600"/><stop offset="0.622" stop-color="#ffaf00"/><stop offset="1" stop-color="#ffb000"/></linearGradient>
<linearGradient id="g373" gradientUnits="userSpaceOnUse" x1="0" y1="34" x2="0" y2="700"><stop offset="0" stop-color="#ffba00"/><stop offset="0.45" stop-color="#ffb600"/><stop offset="0.658" stop-color="#ffb100"/><stop offset="1" stop-color="#ffb200"/></linearGradient>
<linearGradient id="g374" gradientUnits="userSpaceOnUse" x1="0" y1="34" x2="0" y2="700"><stop offset="0" stop-color="#ffba00"/><stop offset="0.45" stop-color="#ffb500"/><stop offset="0.748" stop-color="#ffb300"/><stop offset="1" stop-color="#ffb400"/></linearGradient>
<linearGradient id="g375" gradientUnits="userSpaceOnUse" x1="0" y1="34" x2="0" y2="700"><stop offset="0" stop-color="#ffba00"/><stop offset="0.432" stop-color="#ffb500"/><stop offset="1" stop-color="#ffb600"/></linearGradient>
<linearGradient id="g376" gradientUnits="userSpaceOnUse" x1="0" y1="34" x2="0" y2="700"><stop offset="0" stop-color="#ffba00"/><stop offset="0.405" stop-color="#ffb500"/><stop offset="0.577" stop-color="#ffb300"/><stop offset="1" stop-color="#ffb700"/></linearGradient>
<linearGradient id="g377" gradientUnits="userSpaceOnUse" x1="0" y1="34" x2="0" y2="700"><stop offset="0" stop-color="#ffb900"/><stop offset="0.378" stop-color="#ffb500"/><stop offset="0.532" stop-color="#ffb000"/><stop offset="0.802" stop-color="#ffb800"/><stop offset="1" stop-color="#ffb800"/></linearGradient>
<linearGradient id="g378" gradientUnits="userSpaceOnUse" x1="0" y1="34" x2="0" y2="700"><stop offset="0" stop-color="#ffb900"/><stop offset="0.351" stop-color="#ffb500"/><stop offset="0.505" stop-color="#ffab00"/><stop offset="0.73" stop-color="#ffb800"/><stop offset="1" stop-color="#ffb900"/></linearGradient>
<linearGradient id="g379" gradientUnits="userSpaceOnUse" x1="0" y1="34" x2="0" y2="700"><stop offset="0" stop-color="#ffb900"/><stop offset="0.342" stop-color="#ffb400"/><stop offset="0.486" stop-color="#ffa600"/><stop offset="0.703" stop-color="#ffb800"/><stop offset="1" stop-color="#ffb900"/></linearGradient>
<linearGradient id="g380" gradientUnits="userSpaceOnUse" x1="0" y1="34" x2="0" y2="700"><stop offset="0" stop-color="#ffb700"/><stop offset="0.324" stop-color="#ffb300"/><stop offset="0.477" stop-color="#ff9e00"/><stop offset="0.586" stop-color="#ffab00"/><stop offset="0.721" stop-color="#ffb600"/><stop offset="1" stop-color="#ffb700"/></linearGradient>
<linearGradient id="g381" gradientUnits="userSpaceOnUse" x1="0" y1="34" x2="0" y2="700"><stop offset="0" stop-color="#ffb500"/><stop offset="0.315" stop-color="#ffb000"/><stop offset="0.477" stop-color="#ff9400"/><stop offset="0.559" stop-color="#ff9f00"/><stop offset="0.667" stop-color="#ffb200"/><stop offset="1" stop-color="#ffb500"/></linearGradient>
<linearGradient id="g382" gradientUnits="userSpaceOnUse" x1="0" y1="34" x2="0" y2="700"><stop offset="0" stop-color="#ffb200"/><stop offset="0.306" stop-color="#ffae00"/><stop offset="0.414" stop-color="#ff9500"/><stop offset="0.486" stop-color="#ff8a00"/><stop offset="0.568" stop-color="#ff9b00"/><stop offset="0.667" stop-color="#ffaf00"/><stop offset="1" stop-color="#ffb200"/></linearGradient>
<linearGradient id="g383" gradientUnits="userSpaceOnUse" x1="0" y1="34" x2="0" y2="700"><stop offset="0" stop-color="#ffb000"/><stop offset="0.297" stop-color="#ffac00"/><stop offset="0.387" stop-color="#ff9700"/><stop offset="0.468" stop-color="#ff8000"/><stop offset="0.523" stop-color="#ff8500"/><stop offset="0.64" stop-color="#ffa800"/><stop offset="0.775" stop-color="#ffb000"/><stop offset="1" stop-color="#ffb000"/></linearGradient>
<linearGradient id="g384" gradientUnits="userSpaceOnUse" x1="0" y1="34" x2="0" y2="700"><stop offset="0" stop-color="#ffae00"/><stop offset="0.288" stop-color="#ffaa00"/><stop offset="0.369" stop-color="#ff9700"/><stop offset="0.459" stop-color="#ff7700"/><stop offset="0.514" stop-color="#ff7900"/><stop offset="0.64" stop-color="#ffa500"/><stop offset="0.757" stop-color="#ffad00"/><stop offset="1" stop-color="#ffae00"/></linearGradient>
<linearGradient id="g385" gradientUnits="userSpaceOnUse" x1="0" y1="34" x2="0" y2="700"><stop offset="0" stop-color="#ffac00"/><stop offset="0.288" stop-color="#ffa800"/><stop offset="0.36" stop-color="#ff9700"/><stop offset="0.468" stop-color="#ff6b00"/><stop offset="0.505" stop-color="#ff6d00"/><stop offset="0.64" stop-color="#ffa200"/><stop offset="0.739" stop-color="#ffac00"/><stop offset="1" stop-color="#ffac00"/></linearGradient>
<linearGradient id="g386" gradientUnits="userSpaceOnUse" x1="0" y1="34" x2="0" y2="700"><stop offset="0" stop-color="#ffab00"/><stop offset="0.288" stop-color="#ffa700"/><stop offset="0.36" stop-color="#ff9400"/><stop offset="0.468" stop-color="#ff6000"/><stop offset="0.505" stop-color="#ff6300"/><stop offset="0.622" stop-color="#ff9a00"/><stop offset="0.703" stop-color="#ffa900"/><stop offset="1" stop-color="#ffab00"/></linearGradient>
<linearGradient id="g387" gradientUnits="userSpaceOnUse" x1="0" y1="34" x2="0" y2="700"><stop offset="0" stop-color="#ffaa00"/><stop offset="0.279" stop-color="#ffa600"/><stop offset="0.351" stop-color="#ff9500"/><stop offset="0.459" stop-color="#ff5b00"/><stop offset="0.495" stop-color="#ff5800"/><stop offset="0.541" stop-color="#ff6f00"/><stop offset="0.622" stop-color="#ff9800"/><stop offset="0.694" stop-color="#ffa700"/><stop offset="1" stop-color="#ffaa00"/></linearGradient>
<linearGradient id="g388" gradientUnits="userSpaceOnUse" x1="0" y1="34" x2="0" y2="700"><stop offset="0" stop-color="#ffa900"/><stop offset="0.279" stop-color="#ffa500"/><stop offset="0.351" stop-color="#ff9300"/><stop offset="0.423" stop-color="#ff6b00"/><stop offset="0.459" stop-color="#ff5600"/><stop offset="0.495" stop-color="#ff5400"/><stop offset="0.532" stop-color="#ff6500"/><stop offset="0.595" stop-color="#ff8b00"/><stop offset="0.658" stop-color="#ffa100"/><stop offset="0.784" stop-color="#ffa900"/><stop offset="1" stop-color="#ffa900"/></linearGradient>
<linearGradient id="cb" x1="0" y1="0" x2="0" y2="1"><stop offset="0" stop-color="#000000"/><stop offset="0.125" stop-color="#7a5c5c"/><stop offset="0.2375" stop-color="#fababa"/><stop offset="0.25" stop-color="#ffbebe"/><stop offset="0.3125" stop-color="#ff5555"/><stop offset="0.3625" stop-color="#ff0000"/><stop offset="0.375" stop-color="#ff0a00"/><stop offset="0.4375" stop-color="#ff7300"/><stop offset="0.5" stop-color="#ffb900"/><stop offset="0.555" stop-color="#fff800"/><stop offset="0.5675" stop-color="#ffff00"/><stop offset="0.625" stop-color="#82ff00"/><stop offset="0.675" stop-color="#0aff00"/><stop offset="0.6875" stop-color="#00eb0a"/><stop offset="0.75" stop-color="#005faa"/><stop offset="0.8125" stop-color="#1414ff"/><stop offset="0.875" stop-color="#aa69fc"/><stop offset="0.9375" stop-color="#debeff"/><stop offset="1" stop-color="#ffffff"/></linearGradient>
</defs>
<g clip-path="url(#cp)">
<rect x="116" y="34" width="3.1" height="666" fill="url(#g0)"/>
<rect x="118.5" y="34" width="3.1" height="666" fill="url(#g1)"/>
<rect x="121" y="34" width="3.1" height="666" fill="url(#g2)"/>
<rect x="123.5" y="34" width="3.1" height="666" fill="url(#g3)"/>
<rect x="126" y="34" width="3.1" height="666" fill="url(#g4)"/>
<rect x="128.5" y="34" width="3.1" height="666" fill="url(#g5)"/>
<rect x="131" y="34" width="3.1" height="666" fill="url(#g6)"/>
<rect x="133.5" y="34" width="3.1" height="666" fill="url(#g7)"/>
<rect x="136" y="34" width="3.1" height="666" fill="url(#g8)"/>
<rect x="138.5" y="34" width="3.1" height="666" fill="url(#g9)"/>
<rect x="141" y="34" width="3.1" height="666" fill="url(#g10)"/>
<rect x="143.5" y="34" width="3.1" height="666" fill="url(#g11)"/>
<rect x="146" y="34" width="3.1" height="666" fill="url(#g12)"/>
<rect x="148.5" y="34" width="3.1" height="666" fill="url(#g13)"/>
<rect x="151" y="34" width="3.1" height="666" fill="url(#g14)"/>
<rect x="153.5" y="34" width="3.1" height="666" fill="url(#g15)"/>
<rect x="156" y="34" width="3.1" height="666" fill="url(#g16)"/>
<rect x="158.5" y="34" width="3.1" height="666" fill="url(#g17)"/>
<rect x="161" y="34" width="3.1" height="666" fill="url(#g18)"/>
<rect x="163.5" y="34" width="3.1" height="666" fill="url(#g19)"/>
<rect x="166" y="34" width="3.1" height="666" fill="url(#g20)"/>
<rect x="168.5" y="34" width="3.1" height="666" fill="url(#g21)"/>
<rect x="171" y="34" width="3.1" height="666" fill="url(#g22)"/>
<rect x="173.5" y="34" width="3.1" height="666" fill="url(#g23)"/>
<rect x="176" y="34" width="3.1" height="666" fill="url(#g24)"/>
<rect x="178.5" y="34" width="3.1" height="666" fill="url(#g25)"/>
<rect x="181" y="34" width="3.1" height="666" fill="url(#g26)"/>
<rect x="183.5" y="34" width="3.1" height="666" fill="url(#g27)"/>
<rect x="186" y="34" width="3.1" height="666" fill="url(#g28)"/>
<rect x="188.5" y="34" width="3.1" height="666" fill="url(#g29)"/>
<rect x="191" y="34" width="3.1" height="666" fill="url(#g30)"/>
<rect x="193.5" y="34" width="3.1" height="666" fill="url(#g31)"/>
<rect x="196" y="34" width="3.1" height="666" fill="url(#g32)"/>
<rect x="198.5" y="34" width="3.1" height="666" fill="url(#g33)"/>
<rect x="201" y="34" width="3.1" height="666" fill="url(#g34)"/>
<rect x="203.5" y="34" width="3.1" height="666" fill="#ffc100"/>
<rect x="206" y="34" width="3.1" height="666" fill="#ffc200"/>
<rect x="208.5" y="34" width="3.1" height="666" fill="#ffc300"/>
<rect x="211" y="34" width="3.1" height="666" fill="#ffc400"/>
<rect x="213.5" y="34" width="3.1" height="666" fill="#ffc500"/>
<rect x="216" y="34" width="3.1" height="666" fill="#ffc600"/>
<rect x="218.5" y="34" width="3.1" height="666" fill="#ffc700"/>
<rect x="221" y="34" width="3.1" height="666" fill="url(#g35)"/>
<rect x="223.5" y="34" width="3.1" height="666" fill="url(#g36)"/>
<rect x="226" y="34" width="3.1" height="666" fill="url(#g37)"/>
<rect x="228.5" y="34" width="3.1" height="666" fill="url(#g38)"/>
<rect x="231" y="34" width="3.1" height="666" fill="url(#g39)"/>
<rect x="233.5" y="34" width="3.1" height="666" fill="url(#g40)"/>
<rect x="236" y="34" width="3.1" height="666" fill="url(#g41)"/>
<rect x="238.5" y="34" width="3.1" height="666" fill="url(#g42)"/>
<rect x="241" y="34" width="3.1" height="666" fill="url(#g43)"/>
<rect x="243.5" y="34" width="3.1" height="666" fill="url(#g44)"/>
<rect x="246" y="34" width="3.1" height="666" fill="url(#g45)"/>
<rect x="248.5" y="34" width="3.1" height="666" fill="url(#g46)"/>
<rect x="251" y="34" width="3.1" height="666" fill="url(#g47)"/>
<rect x="253.5" y="34" width="3.1" height="666" fill="url(#g48)"/>
<rect x="256" y="34" width="3.1" height="666" fill="url(#g49)"/>
<rect x="258.5" y="34" width="3.1" height="666" fill="url(#g50)"/>
<rect x="261" y="34" width="3.1" height="666" fill="url(#g51)"/>
<rect x="263.5" y="34" width="3.1" height="666" fill="url(#g52)"/>
<rect x="266" y="34" width="3.1" height="666" fill="url(#g53)"/>
<rect x="268.5" y="34" width="3.1" height="666" fill="url(#g54)"/>
<rect x="271" y="34" width="3.1" height="666" fill="url(#g55)"/>
<rect x="273.5" y="34" width="3.1" height="666" fill="url(#g56)"/>
<rect x="276" y="34" width="3.1" height="666" fill="url(#g57)"/>
<rect x="278.5" y="34" width="3.1" height="666" fill="url(#g58)"/>
<rect x="281" y="34" width="3.1" height="666" fill="url(#g59)"/>
<rect x="283.5" y="34" width="3.1" height="666" fill="url(#g60)"/>
<rect x="286" y="34" width="3.1" height="666" fill="url(#g61)"/>
<rect x="288.5" y="34" width="3.1" height="666" fill="url(#g62)"/>
<rect x="291" y="34" width="3.1" height="666" fill="url(#g63)"/>
<rect x="293.5" y="34" width="3.1" height="666" fill="url(#g64)"/>
<rect x="296" y="34" width="3.1" height="666" fill="url(#g65)"/>
<rect x="298.5" y="34" width="3.1" height="666" fill="url(#g66)"/>
<rect x="301" y="34" width="3.1" height="666" fill="url(#g67)"/>
<rect x="303.5" y="34" width="3.1" height="666" fill="url(#g68)"/>
<rect x="306" y="34" width="3.1" height="666" fill="url(#g69)"/>
<rect x="308.5" y="34" width="3.1" height="666" fill="url(#g70)"/>
<rect x="311" y="34" width="3.1" height="666" fill="url(#g71)"/>
<rect x="313.5" y="34" width="3.1" height="666" fill="url(#g72)"/>
<rect x="316" y="34" width="3.1" height="666" fill="url(#g73)"/>
<rect x="318.5" y="34" width="3.1" height="666" fill="url(#g74)"/>
<rect x="321" y="34" width="3.1" height="666" fill="url(#g75)"/>
<rect x="323.5" y="34" width="3.1" height="666" fill="url(#g76)"/>
<rect x="326" y="34" width="3.1" height="666" fill="url(#g77)"/>
<rect x="328.5" y="34" width="3.1" height="666" fill="url(#g78)"/>
<rect x="331" y="34" width="3.1" height="666" fill="url(#g79)"/>
<rect x="333.5" y="34" width="3.1" height="666" fill="url(#g80)"/>
<rect x="336" y="34" width="3.1" height="666" fill="url(#g81)"/>
<rect x="338.5" y="34" width="3.1" height="666" fill="url(#g82)"/>
<rect x="341" y="34" width="3.1" height="666" fill="url(#g83)"/>
<rect x="343.5" y="34" width="3.1" height="666" fill="url(#g84)"/>
<rect x="346" y="34" width="3.1" height="666" fill="url(#g85)"/>
<rect x="348.5" y="34" width="3.1" height="666" fill="url(#g86)"/>
<rect x="351" y="34" width="3.1" height="666" fill="url(#g87)"/>
<rect x="353.5" y="34" width="3.1" height="666" fill="url(#g88)"/>
<rect x="356" y="34" width="3.1" height="666" fill="url(#g89)"/>
<rect x="358.5" y="34" width="3.1" height="666" fill="url(#g90)"/>
<rect x="361" y="34" width="3.1" height="666" fill="url(#g91)"/>
<rect x="363.5" y="34" width="3.1" height="666" fill="url(#g92)"/>
<rect x="366" y="34" width="3.1" height="666" fill="url(#g93)"/>
<rect x="368.5" y="34" width="3.1" height="666" fill="url(#g94)"/>
<rect x="371" y="34" width="3.1" height="666" fill="url(#g95)"/>
<rect x="373.5" y="34" width="3.1" height="666" fill="url(#g96)"/>
<rect x="376" y="34" width="3.1" height="666" fill="url(#g97)"/>
<rect x="378.5" y="34" width="3.1" height="666" fill="url(#g98)"/>
<rect x="381" y="34" width="3.1" height="666" fill="url(#g99)"/>
<rect x="383.5" y="34" width="3.1" height="666" fill="url(#g100)"/>
<rect x="386" y="34" width="3.1" height="666" fill="url(#g101)"/>
<rect x="388.5" y="34" width="3.1" height="666" fill="url(#g102)"/>
<rect x="391" y="34" width="3.1" height="666" fill="url(#g103)"/>
<rect x="393.5" y="34" width="3.1" height="666" fill="url(#g104)"/>
<rect x="396" y="34" width="3.1" height="666" fill="url(#g105)"/>
<rect x="398.5" y="34" width="3.1" height="666" fill="url(#g106)"/>
<rect x="401" y="34" width="3.1" height="666" fill="url(#g107)"/>
<rect x="403.5" y="34" width="3.1" height="666" fill="url(#g108)"/>
<rect x="406" y="34" width="3.1" height="666" fill="url(#g109)"/>
<rect x="408.5" y="34" width="3.1" height="666" fill="url(#g110)"/>
<rect x="411" y="34" width="3.1" height="666" fill="url(#g111)"/>
<rect x="413.5" y="34" width="3.1" height="666" fill="url(#g112)"/>
<rect x="416" y="34" width="3.1" height="666" fill="url(#g113)"/>
<rect x="418.5" y="34" width="3.1" height="666" fill="url(#g114)"/>
<rect x="421" y="34" width="3.1" height="666" fill="url(#g115)"/>
<rect x="423.5" y="34" width="3.1" height="666" fill="url(#g116)"/>
<rect x="426" y="34" width="3.1" height="666" fill="url(#g117)"/>
<rect x="428.5" y="34" width="3.1" height="666" fill="url(#g118)"/>
<rect x="431" y="34" width="3.1" height="666" fill="url(#g119)"/>
<rect x="433.5" y="34" width="3.1" height="666" fill="url(#g120)"/>
<rect x="436" y="34" width="3.1" height="666" fill="url(#g121)"/>
<rect x="438.5" y="34" width="3.1" height="666" fill="url(#g122)"/>
<rect x="441" y="34" width="3.1" height="666" fill="url(#g123)"/>
<rect x="443.5" y="34" width="3.1" height="666" fill="url(#g124)"/>
<rect x="446" y="34" width="3.1" height="666" fill="url(#g125)"/>
<rect x="448.5" y="34" width="3.1" height="666" fill="url(#g126)"/>
<rect x="451" y="34" width="3.1" height="666" fill="url(#g127)"/>
<rect x="453.5" y="34" width="3.1" height="666" fill="url(#g128)"/>
<rect x="456" y="34" width="3.1" height="666" fill="url(#g129)"/>
<rect x="458.5" y="34" width="3.1" height="666" fill="url(#g130)"/>
<rect x="461" y="34" width="3.1" height="666" fill="url(#g131)"/>
<rect x="463.5" y="34" width="3.1" height="666" fill="url(#g132)"/>
<rect x="466" y="34" width="3.1" height="666" fill="url(#g133)"/>
<rect x="468.5" y="34" width="3.1" height="666" fill="url(#g134)"/>
<rect x="471" y="34" width="3.1" height="666" fill="url(#g135)"/>
<rect x="473.5" y="34" width="3.1" height="666" fill="url(#g136)"/>
<rect x="476" y="34" width="3.1" height="666" fill="url(#g137)"/>
<rect x="478.5" y="34" width="3.1" height="666" fill="url(#g138)"/>
<rect x="481" y="34" width="3.1" height="666" fill="url(#g139)"/>
<rect x="483.5" y="34" width="3.1" height="666" fill="url(#g140)"/>
<rect x="486" y="34" width="3.1" height="666" fill="url(#g141)"/>
<rect x="488.5" y="34" width="3.1" height="666" fill="url(#g142)"/>
<rect x="491" y="34" width="3.1" height="666" fill="url(#g143)"/>
<rect x="493.5" y="34" width="3.1" height="666" fill="url(#g144)"/>
<rect x="496" y="34" width="3.1" height="666" fill="url(#g145)"/>
<rect x="498.5" y="34" width="3.1" height="666" fill="#ffc600"/>
<rect x="501" y="34" width="3.1" height="666" fill="#ffc800"/>
<rect x="503.5" y="34" width="3.1" height="666" fill="#ffca00"/>
<rect x="506" y="34" width="3.1" height="666" fill="url(#g146)"/>
<rect x="508.5" y="34" width="3.1" height="666" fill="url(#g147)"/>
<rect x="511" y="34" width="3.1" height="666" fill="url(#g148)"/>
<rect x="513.5" y="34" width="3.1" height="666" fill="url(#g149)"/>
<rect x="516" y="34" width="3.1" height="666" fill="url(#g150)"/>
<rect x="518.5" y="34" width="3.1" height="666" fill="url(#g151)"/>
<rect x="521" y="34" width="3.1" height="666" fill="url(#g152)"/>
<rect x="523.5" y="34" width="3.1" height="666" fill="url(#g153)"/>
<rect x="526" y="34" width="3.1" height="666" fill="url(#g154)"/>
<rect x="528.5" y="34" width="3.1" height="666" fill="url(#g155)"/>
<rect x="531" y="34" width="3.1" height="666" fill="url(#g156)"/>
<rect x="533.5" y="34" width="3.1" height="666" fill="url(#g157)"/>
<rect x="536" y="34" width="3.1" height="666" fill="url(#g158)"/>
<rect x="538.5" y="34" width="3.1" height="666" fill="url(#g159)"/>
<rect x="541" y="34" width="3.1" height="666" fill="url(#g160)"/>
<rect x="543.5" y="34" width="3.1" height="666" fill="url(#g161)"/>
<rect x="546" y="34" width="3.1" height="666" fill="url(#g162)"/>
<rect x="548.5" y="34" width="3.1" height="666" fill="url(#g163)"/>
<rect x="551" y="34" width="3.1" height="666" fill="url(#g164)"/>
<rect x="553.5" y="34" width="3.1" height="666" fill="url(#g165)"/>
<rect x="556" y="34" width="3.1" height="666" fill="url(#g166)"/>
<rect x="558.5" y="34" width="3.1" height="666" fill="url(#g167)"/>
<rect x="561" y="34" width="3.1" height="666" fill="url(#g168)"/>
<rect x="563.5" y="34" width="3.1" height="666" fill="url(#g169)"/>
<rect x="566" y="34" width="3.1" height="666" fill="url(#g170)"/>
<rect x="568.5" y="34" width="3.1" height="666" fill="url(#g171)"/>
<rect x="571" y="34" width="3.1" height="666" fill="url(#g172)"/>
<rect x="573.5" y="34" width="3.1" height="666" fill="url(#g173)"/>
<rect x="576" y="34" width="3.1" height="666" fill="url(#g174)"/>
<rect x="578.5" y="34" width="3.1" height="666" fill="url(#g175)"/>
<rect x="581" y="34" width="3.1" height="666" fill="url(#g176)"/>
<rect x="583.5" y="34" width="3.1" height="666" fill="url(#g177)"/>
<rect x="586" y="34" width="3.1" height="666" fill="url(#g178)"/>
<rect x="588.5" y="34" width="3.1" height="666" fill="url(#g179)"/>
<rect x="591" y="34" width="3.1" height="666" fill="url(#g180)"/>
<rect x="593.5" y="34" width="3.1" height="666" fill="url(#g181)"/>
<rect x="596" y="34" width="3.1" height="666" fill="url(#g182)"/>
<rect x="598.5" y="34" width="3.1" height="666" fill="url(#g183)"/>
<rect x="601" y="34" width="3.1" height="666" fill="url(#g184)"/>
<rect x="603.5" y="34" width="3.1" height="666" fill="url(#g185)"/>
<rect x="606" y="34" width="3.1" height="666" fill="url(#g186)"/>
<rect x="608.5" y="34" width="3.1" height="666" fill="url(#g187)"/>
<rect x="611" y="34" width="3.1" height="666" fill="url(#g188)"/>
<rect x="613.5" y="34" width="3.1" height="666" fill="url(#g189)"/>
<rect x="616" y="34" width="3.1" height="666" fill="url(#g190)"/>
<rect x="618.5" y="34" width="3.1" height="666" fill="url(#g191)"/>
<rect x="621" y="34" width="3.1" height="666" fill="url(#g192)"/>
<rect x="623.5" y="34" width="3.1" height="666" fill="url(#g193)"/>
<rect x="626" y="34" width="3.1" height="666" fill="url(#g194)"/>
<rect x="628.5" y="34" width="3.1" height="666" fill="url(#g195)"/>
<rect x="631" y="34" width="3.1" height="666" fill="url(#g196)"/>
<rect x="633.5" y="34" width="3.1" height="666" fill="url(#g197)"/>
<rect x="636" y="34" width="3.1" height="666" fill="url(#g198)"/>
<rect x="638.5" y="34" width="3.1" height="666" fill="url(#g199)"/>
<rect x="641" y="34" width="3.1" height="666" fill="url(#g200)"/>
<rect x="643.5" y="34" width="3.1" height="666" fill="url(#g201)"/>
<rect x="646" y="34" width="3.1" height="666" fill="url(#g202)"/>
<rect x="648.5" y="34" width="3.1" height="666" fill="url(#g203)"/>
<rect x="651" y="34" width="3.1" height="666" fill="url(#g204)"/>
<rect x="653.5" y="34" width="3.1" height="666" fill="url(#g205)"/>
<rect x="656" y="34" width="3.1" height="666" fill="url(#g206)"/>
<rect x="658.5" y="34" width="3.1" height="666" fill="url(#g207)"/>
<rect x="661" y="34" width="3.1" height="666" fill="url(#g208)"/>
<rect x="663.5" y="34" width="3.1" height="666" fill="url(#g209)"/>
<rect x="666" y="34" width="3.1" height="666" fill="url(#g210)"/>
<rect x="668.5" y="34" width="3.1" height="666" fill="url(#g211)"/>
<rect x="671" y="34" width="3.1" height="666" fill="url(#g212)"/>
<rect x="673.5" y="34" width="3.1" height="666" fill="url(#g212)"/>
<rect x="676" y="34" width="3.1" height="666" fill="url(#g213)"/>
<rect x="678.5" y="34" width="3.1" height="666" fill="url(#g213)"/>
<rect x="681" y="34" width="3.1" height="666" fill="url(#g214)"/>
<rect x="683.5" y="34" width="3.1" height="666" fill="url(#g214)"/>
<rect x="686" y="34" width="3.1" height="666" fill="url(#g214)"/>
<rect x="688.5" y="34" width="3.1" height="666" fill="url(#g215)"/>
<rect x="691" y="34" width="3.1" height="666" fill="url(#g216)"/>
<rect x="693.5" y="34" width="3.1" height="666" fill="url(#g217)"/>
<rect x="696" y="34" width="3.1" height="666" fill="url(#g218)"/>
<rect x="698.5" y="34" width="3.1" height="666" fill="url(#g219)"/>
<rect x="701" y="34" width="3.1" height="666" fill="url(#g220)"/>
<rect x="703.5" y="34" width="3.1" height="666" fill="url(#g221)"/>
<rect x="706" y="34" width="3.1" height="666" fill="url(#g222)"/>
<rect x="708.5" y="34" width="3.1" height="666" fill="url(#g223)"/>
<rect x="711" y="34" width="3.1" height="666" fill="url(#g224)"/>
<rect x="713.5" y="34" width="3.1" height="666" fill="url(#g225)"/>
<rect x="716" y="34" width="3.1" height="666" fill="url(#g226)"/>
<rect x="718.5" y="34" width="3.1" height="666" fill="url(#g227)"/>
<rect x="721" y="34" width="3.1" height="666" fill="url(#g228)"/>
<rect x="723.5" y="34" width="3.1" height="666" fill="url(#g229)"/>
<rect x="726" y="34" width="3.1" height="666" fill="url(#g230)"/>
<rect x="728.5" y="34" width="3.1" height="666" fill="url(#g231)"/>
<rect x="731" y="34" width="3.1" height="666" fill="url(#g232)"/>
<rect x="733.5" y="34" width="3.1" height="666" fill="url(#g233)"/>
<rect x="736" y="34" width="3.1" height="666" fill="url(#g234)"/>
<rect x="738.5" y="34" width="3.1" height="666" fill="url(#g235)"/>
<rect x="741" y="34" width="3.1" height="666" fill="url(#g236)"/>
<rect x="743.5" y="34" width="3.1" height="666" fill="url(#g237)"/>
<rect x="746" y="34" width="3.1" height="666" fill="url(#g238)"/>
<rect x="748.5" y="34" width="3.1" height="666" fill="url(#g239)"/>
<rect x="751" y="34" width="3.1" height="666" fill="url(#g240)"/>
<rect x="753.5" y="34" width="3.1" height="666" fill="url(#g241)"/>
<rect x="756" y="34" width="3.1" height="666" fill="url(#g242)"/>
<rect x="758.5" y="34" width="3.1" height="666" fill="url(#g243)"/>
<rect x="761" y="34" width="3.1" height="666" fill="url(#g244)"/>
<rect x="763.5" y="34" width="3.1" height="666" fill="url(#g245)"/>
<rect x="766" y="34" width="3.1" height="666" fill="url(#g246)"/>
<rect x="768.5" y="34" width="3.1" height="666" fill="url(#g247)"/>
<rect x="771" y="34" width="3.1" height="666" fill="url(#g248)"/>
<rect x="773.5" y="34" width="3.1" height="666" fill="url(#g249)"/>
<rect x="776" y="34" width="3.1" height="666" fill="url(#g250)"/>
<rect x="778.5" y="34" width="3.1" height="666" fill="url(#g251)"/>
<rect x="781" y="34" width="3.1" height="666" fill="url(#g252)"/>
<rect x="783.5" y="34" width="3.1" height="666" fill="url(#g253)"/>
<rect x="786" y="34" width="3.1" height="666" fill="url(#g254)"/>
<rect x="788.5" y="34" width="3.1" height="666" fill="url(#g255)"/>
<rect x="791" y="34" width="3.1" height="666" fill="url(#g256)"/>
<rect x="793.5" y="34" width="3.1" height="666" fill="url(#g257)"/>
<rect x="796" y="34" width="3.1" height="666" fill="url(#g258)"/>
<rect x="798.5" y="34" width="3.1" height="666" fill="url(#g259)"/>
<rect x="801" y="34" width="3.1" height="666" fill="url(#g260)"/>
<rect x="803.5" y="34" width="3.1" height="666" fill="url(#g261)"/>
<rect x="806" y="34" width="3.1" height="666" fill="url(#g262)"/>
<rect x="808.5" y="34" width="3.1" height="666" fill="url(#g263)"/>
<rect x="811" y="34" width="3.1" height="666" fill="url(#g264)"/>
<rect x="813.5" y="34" width="3.1" height="666" fill="url(#g265)"/>
<rect x="816" y="34" width="3.1" height="666" fill="url(#g266)"/>
<rect x="818.5" y="34" width="3.1" height="666" fill="url(#g267)"/>
<rect x="821" y="34" width="3.1" height="666" fill="url(#g268)"/>
<rect x="823.5" y="34" width="3.1" height="666" fill="url(#g269)"/>
<rect x="826" y="34" width="3.1" height="666" fill="url(#g270)"/>
<rect x="828.5" y="34" width="3.1" height="666" fill="url(#g271)"/>
<rect x="831" y="34" width="3.1" height="666" fill="url(#g272)"/>
<rect x="833.5" y="34" width="3.1" height="666" fill="url(#g273)"/>
<rect x="836" y="34" width="3.1" height="666" fill="url(#g274)"/>
<rect x="838.5" y="34" width="3.1" height="666" fill="url(#g275)"/>
<rect x="841" y="34" width="3.1" height="666" fill="url(#g276)"/>
<rect x="843.5" y="34" width="3.1" height="666" fill="url(#g277)"/>
<rect x="846" y="34" width="3.1" height="666" fill="url(#g278)"/>
<rect x="848.5" y="34" width="3.1" height="666" fill="url(#g279)"/>
<rect x="851" y="34" width="3.1" height="666" fill="url(#g280)"/>
<rect x="853.5" y="34" width="3.1" height="666" fill="url(#g281)"/>
<rect x="856" y="34" width="3.1" height="666" fill="url(#g282)"/>
<rect x="858.5" y="34" width="3.1" height="666" fill="url(#g283)"/>
<rect x="861" y="34" width="3.1" height="666" fill="url(#g284)"/>
<rect x="863.5" y="34" width="3.1" height="666" fill="url(#g285)"/>
<rect x="866" y="34" width="3.1" height="666" fill="url(#g286)"/>
<rect x="868.5" y="34" width="3.1" height="666" fill="url(#g287)"/>
<rect x="871" y="34" width="3.1" height="666" fill="url(#g288)"/>
<rect x="873.5" y="34" width="3.1" height="666" fill="url(#g289)"/>
<rect x="876" y="34" width="3.1" height="666" fill="url(#g290)"/>
<rect x="878.5" y="34" width="3.1" height="666" fill="url(#g291)"/>
<rect x="881" y="34" width="3.1" height="666" fill="url(#g292)"/>
<rect x="883.5" y="34" width="3.1" height="666" fill="url(#g293)"/>
<rect x="886" y="34" width="3.1" height="666" fill="url(#g294)"/>
<rect x="888.5" y="34" width="3.1" height="666" fill="url(#g295)"/>
<rect x="891" y="34" width="3.1" height="666" fill="url(#g296)"/>
<rect x="893.5" y="34" width="3.1" height="666" fill="url(#g297)"/>
<rect x="896" y="34" width="3.1" height="666" fill="url(#g298)"/>
<rect x="898.5" y="34" width="3.1" height="666" fill="url(#g299)"/>
<rect x="901" y="34" width="3.1" height="666" fill="url(#g300)"/>
<rect x="903.5" y="34" width="3.1" height="666" fill="url(#g301)"/>
<rect x="906" y="34" width="3.1" height="666" fill="url(#g302)"/>
<rect x="908.5" y="34" width="3.1" height="666" fill="url(#g303)"/>
<rect x="911" y="34" width="3.1" height="666" fill="url(#g304)"/>
<rect x="913.5" y="34" width="3.1" height="666" fill="url(#g305)"/>
<rect x="916" y="34" width="3.1" height="666" fill="url(#g306)"/>
<rect x="918.5" y="34" width="3.1" height="666" fill="url(#g307)"/>
<rect x="921" y="34" width="3.1" height="666" fill="url(#g308)"/>
<rect x="923.5" y="34" width="3.1" height="666" fill="url(#g309)"/>
<rect x="926" y="34" width="3.1" height="666" fill="url(#g310)"/>
<rect x="928.5" y="34" width="3.1" height="666" fill="url(#g311)"/>
<rect x="931" y="34" width="3.1" height="666" fill="url(#g312)"/>
<rect x="933.5" y="34" width="3.1" height="666" fill="url(#g313)"/>
<rect x="936" y="34" width="3.1" height="666" fill="url(#g314)"/>
<rect x="938.5" y="34" width="3.1" height="666" fill="url(#g315)"/>
<rect x="941" y="34" width="3.1" height="666" fill="url(#g316)"/>
<rect x="943.5" y="34" width="3.1" height="666" fill="url(#g317)"/>
<rect x="946" y="34" width="3.1" height="666" fill="url(#g318)"/>
<rect x="948.5" y="34" width="3.1" height="666" fill="url(#g319)"/>
<rect x="951" y="34" width="3.1" height="666" fill="url(#g320)"/>
<rect x="953.5" y="34" width="3.1" height="666" fill="url(#g321)"/>
<rect x="956" y="34" width="3.1" height="666" fill="url(#g322)"/>
<rect x="958.5" y="34" width="3.1" height="666" fill="url(#g323)"/>
<rect x="961" y="34" width="3.1" height="666" fill="url(#g324)"/>
<rect x="963.5" y="34" width="3.1" height="666" fill="url(#g325)"/>
<rect x="966" y="34" width="3.1" height="666" fill="url(#g326)"/>
<rect x="968.5" y="34" width="3.1" height="666" fill="url(#g327)"/>
<rect x="971" y="34" width="3.1" height="666" fill="url(#g328)"/>
<rect x="973.5" y="34" width="3.1" height="666" fill="url(#g329)"/>
<rect x="976" y="34" width="3.1" height="666" fill="url(#g330)"/>
<rect x="978.5" y="34" width="3.1" height="666" fill="url(#g331)"/>
<rect x="981" y="34" width="3.1" height="666" fill="url(#g332)"/>
<rect x="983.5" y="34" width="3.1" height="666" fill="url(#g333)"/>
<rect x="986" y="34" width="3.1" height="666" fill="url(#g334)"/>
<rect x="988.5" y="34" width="3.1" height="666" fill="url(#g335)"/>
<rect x="991" y="34" width="3.1" height="666" fill="url(#g336)"/>
<rect x="993.5" y="34" width="3.1" height="666" fill="url(#g337)"/>
<rect x="996" y="34" width="3.1" height="666" fill="url(#g338)"/>
<rect x="998.5" y="34" width="3.1" height="666" fill="url(#g339)"/>
<rect x="1001" y="34" width="3.1" height="666" fill="url(#g340)"/>
<rect x="1003.5" y="34" width="3.1" height="666" fill="url(#g341)"/>
<rect x="1006" y="34" width="3.1" height="666" fill="url(#g342)"/>
<rect x="1008.5" y="34" width="3.1" height="666" fill="url(#g343)"/>
<rect x="1011" y="34" width="3.1" height="666" fill="url(#g344)"/>
<rect x="1013.5" y="34" width="3.1" height="666" fill="url(#g345)"/>
<rect x="1016" y="34" width="3.1" height="666" fill="url(#g346)"/>
<rect x="1018.5" y="34" width="3.1" height="666" fill="url(#g347)"/>
<rect x="1021" y="34" width="3.1" height="666" fill="url(#g348)"/>
<rect x="1023.5" y="34" width="3.1" height="666" fill="url(#g349)"/>
<rect x="1026" y="34" width="3.1" height="666" fill="url(#g350)"/>
<rect x="1028.5" y="34" width="3.1" height="666" fill="url(#g351)"/>
<rect x="1031" y="34" width="3.1" height="666" fill="url(#g352)"/>
<rect x="1033.5" y="34" width="3.1" height="666" fill="url(#g353)"/>
<rect x="1036" y="34" width="3.1" height="666" fill="url(#g354)"/>
<rect x="1038.5" y="34" width="3.1" height="666" fill="url(#g355)"/>
<rect x="1041" y="34" width="3.1" height="666" fill="url(#g356)"/>
<rect x="1043.5" y="34" width="3.1" height="666" fill="url(#g357)"/>
<rect x="1046" y="34" width="3.1" height="666" fill="url(#g358)"/>
<rect x="1048.5" y="34" width="3.1" height="666" fill="url(#g359)"/>
<rect x="1051" y="34" width="3.1" height="666" fill="url(#g360)"/>
<rect x="1053.5" y="34" width="3.1" height="666" fill="url(#g361)"/>
<rect x="1056" y="34" width="3.1" height="666" fill="url(#g362)"/>
<rect x="1058.5" y="34" width="3.1" height="666" fill="url(#g363)"/>
<rect x="1061" y="34" width="3.1" height="666" fill="url(#g364)"/>
<rect x="1063.5" y="34" width="3.1" height="666" fill="url(#g365)"/>
<rect x="1066" y="34" width="3.1" height="666" fill="url(#g366)"/>
<rect x="1068.5" y="34" width="3.1" height="666" fill="url(#g367)"/>
<rect x="1071" y="34" width="3.1" height="666" fill="url(#g368)"/>
<rect x="1073.5" y="34" width="3.1" height="666" fill="url(#g369)"/>
<rect x="1076" y="34" width="3.1" height="666" fill="url(#g370)"/>
<rect x="1078.5" y="34" width="3.1" height="666" fill="url(#g371)"/>
<rect x="1081" y="34" width="3.1" height="666" fill="url(#g372)"/>
<rect x="1083.5" y="34" width="3.1" height="666" fill="url(#g373)"/>
<rect x="1086" y="34" width="3.1" height="666" fill="url(#g374)"/>
<rect x="1088.5" y="34" width="3.1" height="666" fill="url(#g375)"/>
<rect x="1091" y="34" width="3.1" height="666" fill="url(#g376)"/>
<rect x="1093.5" y="34" width="3.1" height="666" fill="url(#g377)"/>
<rect x="1096" y="34" width="3.1" height="666" fill="url(#g378)"/>
<rect x="1098.5" y="34" width="3.1" height="666" fill="url(#g379)"/>
<rect x="1101" y="34" width="3.1" height="666" fill="url(#g380)"/>
<rect x="1103.5" y="34" width="3.1" height="666" fill="url(#g381)"/>
<rect x="1106" y="34" width="3.1" height="666" fill="url(#g382)"/>
<rect x="1108.5" y="34" width="3.1" height="666" fill="url(#g383)"/>
<rect x="1111" y="34" width="3.1" height="666" fill="url(#g384)"/>
<rect x="1113.5" y="34" width="3.1" height="666" fill="url(#g385)"/>
<rect x="1116" y="34" width="3.1" height="666" fill="url(#g386)"/>
<rect x="1118.5" y="34" width="3.1" height="666" fill="url(#g387)"/>
<rect x="1121" y="34" width="2.2" height="666" fill="url(#g388)"/>
</g>
<g stroke="#000" stroke-opacity="0.3" stroke-width="1" stroke-dasharray="1 3.4" fill="none">
<path d="M116 751.5H1127.5"/>
<path d="M116 700.5H1127.5"/>
<path d="M116 649.5H1127.5"/>
<path d="M116 597.5H1127.5"/>
<path d="M116 546.5H1127.5"/>
<path d="M116 495.5H1127.5"/>
<path d="M116 444.5H1127.5"/>
<path d="M116 392.5H1127.5"/>
<path d="M116 341.5H1127.5"/>
<path d="M116 290.5H1127.5"/>
<path d="M116 239.5H1127.5"/>
<path d="M116 187.5H1127.5"/>
<path d="M116 136.5H1127.5"/>
<path d="M116 85.5H1127.5"/>
<path d="M236.5 802V34.5"/>
<path d="M356.5 802V34.5"/>
<path d="M477.5 802V34.5"/>
<path d="M597.5 802V34.5"/>
<path d="M718.5 802V34.5"/>
<path d="M838.5 802V34.5"/>
<path d="M959.5 802V34.5"/>
<path d="M1079.5 802V34.5"/>
</g>
<g stroke="#000" stroke-width="1.1" fill="none" stroke-linecap="butt">
<rect x="115.5" y="34.5" width="1012" height="768"/>
<path d="M115.5 802.5h19 M1127.5 802.5h-18 M115.5 777.5h9.5 M1127.5 777.5h-9 M115.5 751.5h19 M1127.5 751.5h-18 M115.5 726.5h9.5 M1127.5 726.5h-9 M115.5 700.5h19 M1127.5 700.5h-18 M115.5 674.5h9.5 M1127.5 674.5h-9 M115.5 649.5h19 M1127.5 649.5h-18 M115.5 623.5h9.5 M1127.5 623.5h-9 M115.5 597.5h19 M1127.5 597.5h-18 M115.5 572.5h9.5 M1127.5 572.5h-9 M115.5 546.5h19 M1127.5 546.5h-18 M115.5 521.5h9.5 M1127.5 521.5h-9 M115.5 495.5h19 M1127.5 495.5h-18 M115.5 469.5h9.5 M1127.5 469.5h-9 M115.5 444.5h19 M1127.5 444.5h-18 M115.5 418.5h9.5 M1127.5 418.5h-9 M115.5 392.5h19 M1127.5 392.5h-18 M115.5 367.5h9.5 M1127.5 367.5h-9 M115.5 341.5h19 M1127.5 341.5h-18 M115.5 316.5h9.5 M1127.5 316.5h-9 M115.5 290.5h19 M1127.5 290.5h-18 M115.5 264.5h9.5 M1127.5 264.5h-9 M115.5 239.5h19 M1127.5 239.5h-18 M115.5 213.5h9.5 M1127.5 213.5h-9 M115.5 187.5h19 M1127.5 187.5h-18 M115.5 162.5h9.5 M1127.5 162.5h-9 M115.5 136.5h19 M1127.5 136.5h-18 M115.5 111.5h9.5 M1127.5 111.5h-9 M115.5 85.5h19 M1127.5 85.5h-18 M115.5 59.5h9.5 M1127.5 59.5h-9 M115.5 34.5h19 M1127.5 34.5h-18 M115.5 802.5v-13.5 M115.5 34.5v13.5 M176.5 802.5v-7 M176.5 34.5v7 M236.5 802.5v-13.5 M236.5 34.5v13.5 M296.5 802.5v-7 M296.5 34.5v7 M356.5 802.5v-13.5 M356.5 34.5v13.5 M417.5 802.5v-7 M417.5 34.5v7 M477.5 802.5v-13.5 M477.5 34.5v13.5 M537.5 802.5v-7 M537.5 34.5v7 M597.5 802.5v-13.5 M597.5 34.5v13.5 M658.5 802.5v-7 M658.5 34.5v7 M718.5 802.5v-13.5 M718.5 34.5v13.5 M778.5 802.5v-7 M778.5 34.5v7 M838.5 802.5v-13.5 M838.5 34.5v13.5 M899.5 802.5v-7 M899.5 34.5v7 M959.5 802.5v-13.5 M959.5 34.5v13.5 M1019.5 802.5v-7 M1019.5 34.5v7 M1079.5 802.5v-13.5 M1079.5 34.5v13.5"/>
</g>
<g class="t">
<text x="95.6" y="812" text-anchor="end">0</text>
<text x="95.6" y="760.75" text-anchor="end">100</text>
<text x="95.6" y="709.5" text-anchor="end">200</text>
<text x="95.6" y="658.25" text-anchor="end">300</text>
<text x="95.6" y="607" text-anchor="end">400</text>
<text x="95.6" y="555.75" text-anchor="end">500</text>
<text x="95.6" y="504.5" text-anchor="end">600</text>
<text x="95.6" y="453.25" text-anchor="end">700</text>
<text x="95.6" y="402" text-anchor="end">800</text>
<text x="95.6" y="350.75" text-anchor="end">900</text>
<text x="95.6" y="299.5" text-anchor="end">1000</text>
<text x="95.6" y="248.25" text-anchor="end">1100</text>
<text x="95.6" y="197" text-anchor="end">1200</text>
<text x="95.6" y="145.75" text-anchor="end">1300</text>
<text x="95.6" y="94.5" text-anchor="end">1400</text>
<text x="95.6" y="43.25" text-anchor="end">1500</text>
<text x="119.4" y="847" text-anchor="middle">0</text>
<text x="239.9" y="847" text-anchor="middle">10</text>
<text x="360.3" y="847" text-anchor="middle">20</text>
<text x="480.8" y="847" text-anchor="middle">30</text>
<text x="601.3" y="847" text-anchor="middle">40</text>
<text x="721.8" y="847" text-anchor="middle">50</text>
<text x="842.2" y="847" text-anchor="middle">60</text>
<text x="962.7" y="847" text-anchor="middle">70</text>
<text x="1083.2" y="847" text-anchor="middle">80</text>
</g>
<text class="b" x="621.6" y="890.1" text-anchor="middle">distance (km)</text>
<text class="b" transform="translate(33.5 418.9) rotate(-90)" text-anchor="middle">height (m) asl</text>
<rect x="1152.5" y="29.5" width="26" height="777" fill="url(#cb)"/>
<g stroke="#000" stroke-width="1.1" fill="none">
<rect x="1152.5" y="29.5" width="26" height="777"/>
<path d="M1152.5 758.5h6.5 M1178.5 758.5h-6.5 M1152.5 709.5h11.5 M1178.5 709.5h-11.5 M1152.5 661.5h6.5 M1178.5 661.5h-6.5 M1152.5 612.5h11.5 M1178.5 612.5h-11.5 M1152.5 563.5h6.5 M1178.5 563.5h-6.5 M1152.5 515.5h11.5 M1178.5 515.5h-11.5 M1152.5 466.5h6.5 M1178.5 466.5h-6.5 M1152.5 418.5h11.5 M1178.5 418.5h-11.5 M1152.5 369.5h6.5 M1178.5 369.5h-6.5 M1152.5 320.5h11.5 M1178.5 320.5h-11.5 M1152.5 272.5h6.5 M1178.5 272.5h-6.5 M1152.5 223.5h11.5 M1178.5 223.5h-11.5 M1152.5 175.5h6.5 M1178.5 175.5h-6.5 M1152.5 126.5h11.5 M1178.5 126.5h-11.5 M1152.5 77.5h6.5 M1178.5 77.5h-6.5"/>
</g>
<g class="t">
<text x="1191.3" y="815.6">-2</text>
<text x="1191.3" y="718.6">-1.5</text>
<text x="1191.3" y="621.6">-1</text>
<text x="1191.3" y="524.6">-0.5</text>
<text x="1198" y="427.6">0</text>
<text x="1198" y="329.6">0.5</text>
<text x="1198" y="232.6">1</text>
<text x="1198" y="135.6">1.5</text>
<text x="1198" y="38.6">2</text>
</g>
<text transform="translate(1260.8 417.3) rotate(-90)" text-anchor="middle" style="font-size:26.3px">vertical velocity (m s<tspan dy="-10.5" style="font-size:21.3px">-1</tspan><tspan dy="10.5">)</tspan></text>
</svg></body></html>
